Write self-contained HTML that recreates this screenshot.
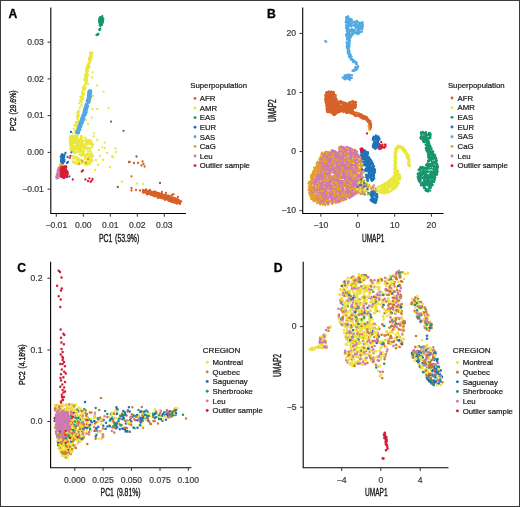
<!DOCTYPE html><html><head><meta charset="utf-8"><style>html,body{margin:0;padding:0;width:520px;height:507px;overflow:hidden;background:#fff}svg path[stroke]:not([fill]){fill:none;stroke-linecap:round}svg path[stroke]:not([fill]):not([stroke-width]){stroke-width:2.3px}svg text{font-family:"Liberation Sans", sans-serif}</style></head><body><svg width="520" height="507" viewBox="0 0 520 507" style="position:absolute;left:0;top:0;filter:blur(0.35px);font-family:'Liberation Sans', sans-serif">
<rect x="0" y="0" width="520" height="507" fill="#fff"/>
<text x="8.60" y="17.80" font-size="12.2" text-anchor="start" fill="#000" font-weight="bold" stroke="#000" stroke-width="0.3">A</text>
<path d="M89.1 66.4h0M87.0 80.4h0M86.9 75.3h0M90.9 54.9h0M91.3 54.1h0M91.9 55.7h0M86.2 70.3h0M91.0 57.9h0M84.7 79.0h0M86.5 77.1h0M84.0 94.4h0M84.8 89.2h0M91.0 58.9h0M87.4 65.3h0M89.4 60.1h0M86.3 79.7h0M87.6 75.9h0M91.7 55.2h0M85.9 81.5h0M88.0 65.7h0M87.5 71.8h0M84.5 86.3h0M88.8 62.8h0M85.5 74.7h0M86.0 83.7h0M83.8 94.5h0M86.5 70.1h0M90.0 58.9h0M90.6 54.0h0M85.0 85.1h0M84.5 89.9h0M85.3 82.1h0M86.4 77.2h0M83.2 88.0h0M86.4 72.5h0M90.3 54.9h0M84.5 79.9h0M85.2 87.7h0M87.0 68.7h0M91.4 53.5h0M90.8 59.9h0M90.2 54.8h0M90.8 58.1h0M86.4 68.8h0M90.8 55.9h0M85.4 75.7h0M83.7 87.2h0M88.8 64.3h0M86.7 67.4h0M84.0 93.5h0M90.4 60.1h0M89.1 62.4h0M86.8 77.6h0M91.7 52.7h0M87.5 68.1h0M82.6 92.9h0M86.3 74.3h0M86.9 81.5h0M83.0 90.6h0M83.2 89.5h0M87.7 69.2h0M90.1 56.8h0M92.0 55.4h0M90.3 61.5h0M89.2 67.2h0M92.4 52.7h0M90.8 56.9h0M90.2 53.3h0M87.0 78.8h0M89.3 63.3h0M88.7 68.1h0M83.0 88.3h0M86.9 72.2h0M91.7 56.4h0M88.6 67.1h0M85.5 88.1h0M90.0 53.2h0M87.5 75.1h0M87.8 75.7h0M85.2 74.7h0M83.6 89.1h0M89.2 63.6h0M89.0 59.4h0M85.7 75.0h0M88.8 66.6h0M83.5 86.7h0M83.5 88.6h0M84.1 87.2h0M89.1 62.1h0M89.1 67.8h0M91.8 53.8h0M88.3 63.3h0M83.2 93.2h0M82.0 92.0h0M83.4 93.2h0M90.0 62.0h0M90.3 61.0h0M84.9 78.9h0M84.5 88.3h0M85.0 80.2h0M90.2 56.0h0M82.8 91.0h0M85.3 84.5h0M88.9 59.9h0M87.2 66.4h0M83.1 93.9h0M86.1 69.2h0M86.3 83.5h0M91.1 58.1h0M82.8 90.8h0M89.1 58.5h0M82.3 94.1h0M87.7 67.3h0M91.5 58.4h0M82.5 93.7h0M85.3 74.7h0M86.1 70.7h0M85.4 88.0h0M89.4 63.3h0M88.8 62.6h0" stroke="#E9E83A"/>
<path d="M89.0 63.5h0M89.0 57.8h0M87.9 67.5h0M85.1 77.2h0M86.0 70.1h0M86.6 73.8h0M87.9 74.9h0M87.9 71.2h0M90.6 52.5h0M89.8 59.8h0M76.6 123.3h0M79.9 107.8h0M77.2 116.5h0M81.5 99.1h0M81.3 104.9h0M76.3 125.2h0M77.2 116.8h0M75.2 130.7h0M77.7 119.0h0M77.8 114.9h0M78.8 112.7h0M77.2 113.4h0M75.7 122.1h0M75.4 132.0h0M76.6 116.6h0M77.0 128.2h0M81.7 99.8h0M82.8 98.0h0M81.3 97.7h0M74.9 125.4h0M80.5 100.9h0M78.5 121.1h0M73.7 129.1h0M79.2 103.3h0M79.4 110.6h0M73.0 133.3h0M81.5 101.4h0M79.0 115.3h0M81.6 102.8h0M78.4 123.6h0M78.4 116.7h0M82.9 95.8h0M77.5 119.4h0M80.3 97.2h0M74.6 125.5h0M82.5 99.3h0M81.2 96.4h0M81.7 105.8h0M77.8 111.3h0M76.8 127.3h0M79.9 100.6h0M77.3 117.2h0M83.3 98.8h0M77.3 122.0h0M80.4 97.5h0M92.6 72.3h0M92.0 77.5h0M97.0 85.4h0M103.6 91.6h0M108.5 108.0h0M92.5 109.0h0M97.3 109.0h0M91.7 117.5h0M94.0 133.3h0M93.6 136.5h0M97.2 140.0h0M104.7 142.7h0M102.3 147.3h0M115.5 148.5h0M116.0 152.0h0M113.0 157.0h0M105.0 148.0h0M110.0 167.0h0M122.0 181.5h0M112.0 156.5h0M137.0 183.5h0M143.0 184.0h0M99.0 150.0h0M100.0 156.0h0M96.0 160.0h0M98.0 165.0h0M95.0 170.0h0M103.0 160.0h0M107.0 153.0h0M88.0 124.0h0M86.0 120.0h0M90.0 102.0h0M93.0 96.0h0M88.0 84.0h0M90.0 60.0h0M89.5 66.0h0M84.9 159.1h0M80.3 145.3h0M82.8 162.8h0M75.7 139.1h0M82.2 142.3h0M71.7 140.0h0M70.3 141.2h0M76.8 144.3h0M88.0 143.8h0M81.5 140.5h0M77.7 135.7h0M75.3 135.7h0M87.3 151.6h0M73.7 149.3h0M89.5 148.1h0M81.4 160.1h0M78.8 150.3h0M86.2 164.5h0M77.6 160.0h0M86.7 154.2h0M79.1 145.6h0M70.4 139.1h0M75.4 140.1h0M90.8 155.2h0M76.0 142.4h0M76.3 148.9h0M72.9 148.5h0M76.7 145.8h0M80.9 150.2h0" stroke="#E9E83A"/>
<path d="M74.0 150.2h0M71.2 147.1h0M76.6 142.1h0M83.6 151.0h0M87.8 154.8h0M86.9 161.4h0M78.7 144.9h0M87.1 154.4h0M91.3 153.9h0M87.3 159.4h0M72.5 150.8h0M81.6 160.1h0M89.1 159.8h0M83.6 161.8h0M86.1 155.9h0M74.7 136.1h0M72.3 145.9h0M83.0 153.9h0M84.7 155.5h0M88.9 157.5h0M81.6 151.1h0M87.4 142.7h0M70.9 143.1h0M87.2 141.3h0M87.5 164.3h0M81.3 146.6h0M81.0 155.6h0M88.2 153.6h0M72.7 142.8h0M87.6 144.3h0M70.5 143.2h0M85.8 155.8h0M85.9 143.9h0M81.9 149.0h0M80.7 138.7h0M91.3 141.1h0M89.5 164.0h0M80.2 143.2h0M74.3 152.5h0M72.5 150.8h0M89.5 150.4h0M91.2 156.2h0M74.8 162.0h0M81.2 135.9h0M80.3 144.2h0M72.5 145.5h0M76.9 160.2h0M92.2 156.4h0M91.5 143.8h0M78.3 146.9h0M78.0 148.0h0M75.9 136.6h0M76.1 163.1h0M75.2 143.1h0M81.8 140.9h0M78.3 163.7h0M91.1 159.4h0M84.8 162.4h0M87.3 148.6h0M87.8 154.4h0M76.2 136.7h0M80.8 145.4h0M76.4 157.2h0M85.4 144.2h0M82.9 147.0h0M73.2 140.0h0M74.2 162.2h0M81.4 141.8h0M80.2 139.4h0M73.8 137.9h0M77.5 137.9h0M75.0 142.9h0M83.2 161.6h0M87.7 147.5h0M79.3 150.8h0M78.4 145.3h0M70.6 143.5h0M81.6 154.0h0M90.6 141.6h0M75.8 142.6h0M79.0 148.5h0M92.8 160.5h0M78.8 162.8h0M89.6 160.7h0M71.7 139.8h0M82.1 155.5h0M92.5 156.7h0M85.2 158.0h0M80.4 151.6h0M74.8 162.6h0M85.1 144.3h0M72.2 142.7h0M84.9 156.0h0M71.8 137.3h0M82.1 152.6h0M78.7 141.9h0M76.5 148.9h0M74.9 142.6h0M93.0 156.2h0M76.7 135.8h0M81.5 155.3h0M79.5 142.9h0M85.7 162.8h0M74.7 136.2h0M77.5 147.7h0M86.1 141.1h0M88.9 157.2h0M81.6 141.3h0M93.2 144.5h0M89.5 142.1h0M74.5 157.9h0M76.4 163.6h0M81.4 140.8h0M74.6 147.6h0M85.6 163.5h0M72.7 146.9h0M72.5 136.7h0M70.5 146.9h0M91.5 161.5h0M87.3 164.9h0" stroke="#E9E83A"/>
<path d="M92.3 145.0h0M73.6 163.1h0M85.6 146.5h0M78.3 145.1h0M76.0 145.7h0M77.9 159.7h0M89.6 148.1h0M70.2 149.3h0M78.3 162.6h0M73.8 146.1h0M79.3 159.4h0M69.9 137.1h0M92.0 142.9h0M87.7 162.0h0M77.5 143.3h0M75.6 156.6h0M76.9 143.4h0M91.9 154.1h0M74.8 149.4h0M78.7 142.7h0M79.7 149.9h0M89.1 157.2h0M89.6 158.2h0M84.2 145.0h0M77.0 146.0h0M73.9 157.6h0M75.2 137.1h0M75.6 137.7h0M71.4 150.1h0M86.7 148.5h0M74.9 147.6h0M84.5 155.3h0M87.7 160.4h0M85.6 138.8h0M90.0 144.0h0M83.2 146.3h0M87.5 141.1h0M75.2 142.5h0M72.8 161.5h0M83.5 144.9h0M81.7 142.1h0M89.2 154.7h0M80.9 159.6h0M90.0 162.4h0M70.0 144.0h0M72.0 140.8h0M92.3 146.3h0M90.7 148.6h0M75.5 158.4h0M83.9 153.7h0M74.4 146.2h0M72.5 141.3h0M75.4 153.1h0M85.3 141.3h0M86.0 140.7h0M76.8 141.3h0M88.9 151.5h0M70.6 138.2h0M78.9 151.6h0M85.0 137.9h0M73.1 155.9h0M79.2 143.6h0M76.7 163.6h0M76.8 152.1h0M77.9 147.6h0M78.1 141.1h0M87.2 141.3h0M79.6 159.6h0M79.2 161.5h0M80.5 140.0h0M85.0 162.3h0M78.3 150.2h0M72.6 143.6h0M82.0 162.8h0M71.7 149.8h0M89.1 164.0h0M73.9 139.0h0M81.1 136.8h0M92.2 146.8h0M91.6 153.7h0M89.6 140.0h0M88.6 141.8h0M79.1 160.4h0M89.7 140.7h0M74.5 147.1h0M81.9 146.6h0M72.1 142.6h0M87.1 161.9h0M84.0 151.6h0M84.7 144.3h0M79.5 152.6h0M79.6 154.8h0M80.2 148.3h0M81.2 142.2h0M88.1 158.4h0M80.5 140.6h0M80.8 138.4h0M72.2 148.0h0M71.3 148.4h0M81.8 136.4h0M84.9 137.7h0M87.3 158.4h0M81.8 136.8h0M81.6 146.5h0M87.3 159.5h0M81.3 163.7h0M88.7 162.9h0M70.6 145.7h0M87.9 139.9h0M91.4 143.4h0M81.6 162.6h0M74.2 143.0h0M81.7 144.7h0M69.9 140.6h0M86.0 161.9h0M73.2 158.6h0M71.9 151.0h0M84.9 145.9h0M90.8 151.7h0M83.5 161.5h0" stroke="#E9E83A"/>
<path d="M84.7 146.9h0M88.9 143.1h0M78.0 158.0h0M80.1 140.5h0M89.5 142.8h0M85.0 164.5h0M83.6 155.0h0M76.8 135.3h0M69.8 139.7h0M84.4 148.1h0M81.8 161.9h0M72.3 142.0h0M71.7 145.8h0M74.6 152.6h0M83.7 141.3h0M84.6 149.4h0M75.1 139.6h0M90.8 158.5h0M79.0 143.1h0M83.1 145.6h0M85.1 148.4h0M92.4 157.1h0M75.2 162.1h0M79.1 142.3h0M74.0 153.3h0M81.7 154.3h0M89.3 140.4h0M76.7 144.1h0M88.6 156.5h0M87.6 149.1h0M87.5 148.7h0M73.2 137.2h0M73.3 136.1h0M74.7 147.9h0M79.7 149.4h0M80.0 139.9h0M77.8 142.7h0M81.0 144.1h0M73.7 146.1h0M73.6 139.4h0M80.4 140.9h0M82.3 140.9h0M73.3 150.5h0M78.8 146.9h0M76.6 149.4h0M76.1 147.5h0M78.0 140.6h0M73.0 145.8h0M72.0 135.9h0M74.8 137.8h0M70.4 136.2h0M79.7 146.0h0M79.8 147.7h0M70.9 145.2h0M75.1 149.0h0M70.9 149.8h0M71.5 138.9h0M71.6 136.1h0M78.9 149.1h0M78.8 140.2h0M71.4 137.1h0M80.6 138.9h0M74.5 142.5h0M70.3 139.7h0M74.0 147.3h0M75.2 140.8h0M81.9 145.7h0M70.4 142.3h0M76.1 148.3h0M74.9 147.1h0M77.5 139.1h0M81.5 138.3h0M70.0 138.8h0M70.1 143.6h0M76.9 148.6h0M72.6 143.7h0M74.9 149.2h0M73.6 151.1h0M74.0 139.0h0M79.8 143.7h0M71.5 146.0h0M71.1 148.5h0M79.8 148.5h0M78.8 141.4h0M75.6 142.0h0M72.9 139.8h0M82.6 143.8h0M75.3 150.1h0M73.3 143.1h0M77.4 147.9h0M80.5 146.2h0M74.9 140.9h0M72.2 149.4h0M79.3 147.7h0M72.4 142.7h0M80.8 145.1h0M71.8 143.1h0M82.4 139.4h0M72.7 140.5h0M79.8 149.4h0M72.2 138.1h0M73.5 140.9h0M77.3 138.2h0M74.6 138.6h0M71.4 141.8h0M80.3 142.7h0M72.7 146.0h0M71.5 138.9h0M75.4 136.1h0M75.6 148.6h0M79.7 143.8h0" stroke="#E9E83A"/>
<path d="M82.0 161.0h0M86.0 163.0h0M79.0 164.0h0M88.0 159.0h0" stroke="#E6A028"/>
<path d="M83.0 118.0h0M88.9 96.8h0M85.4 108.0h0M79.0 129.7h0M83.1 115.2h0" stroke="#52A9E1"/>
<path d="M86.7 109.1h0M80.5 121.4h0M80.3 123.8h0M79.1 127.1h0M82.9 118.4h0M86.8 104.1h0M89.7 94.9h0M80.1 124.1h0M83.7 118.1h0M86.0 109.1h0M83.4 117.6h0M81.1 119.3h0M88.4 98.5h0M81.1 124.2h0M83.7 111.5h0M89.8 92.2h0M88.2 97.5h0M78.2 131.0h0M89.3 95.0h0M83.7 113.9h0M84.4 112.7h0M79.9 126.3h0M84.7 108.1h0M88.0 99.6h0M85.5 107.5h0M87.9 95.7h0M88.0 106.4h0M88.0 102.6h0M90.3 91.1h0M85.3 108.7h0M87.4 106.1h0M87.6 100.2h0M78.2 130.9h0M87.5 99.9h0M87.1 107.9h0M88.5 96.1h0M79.9 125.3h0M85.1 110.9h0M87.0 100.1h0M86.3 105.9h0M79.3 125.5h0M85.9 111.1h0M85.3 114.8h0M80.3 126.6h0M80.3 127.4h0M87.1 107.2h0M86.7 109.4h0M89.5 90.5h0M88.3 103.1h0M87.4 103.8h0M85.4 109.1h0M82.9 119.2h0M77.4 130.1h0M88.8 92.9h0M78.0 129.2h0M88.2 96.6h0M84.3 118.5h0M88.8 90.8h0M83.3 119.2h0M90.5 95.2h0M87.4 100.6h0M87.8 106.0h0M78.0 129.2h0M87.8 97.8h0M82.5 116.7h0M81.3 119.1h0M79.6 124.2h0M88.1 99.1h0M83.8 113.4h0M84.6 109.4h0M84.8 114.9h0M89.2 101.1h0M86.3 112.4h0M86.3 111.2h0M85.0 112.0h0M83.3 113.7h0M89.1 90.6h0M85.1 110.9h0M81.5 119.0h0M86.7 107.0h0M79.1 132.3h0M82.5 118.0h0M89.7 91.7h0M81.0 119.6h0M85.6 104.6h0M84.8 112.8h0M80.2 129.7h0M81.3 121.5h0M85.9 105.0h0M86.6 106.6h0M83.8 113.1h0M88.7 99.9h0M85.7 108.9h0M80.6 126.4h0M80.3 126.3h0M85.5 112.7h0M83.5 112.2h0M81.8 118.6h0M87.5 105.2h0M87.1 103.6h0M82.1 117.8h0M89.3 92.2h0M79.0 128.6h0M90.4 92.8h0M91.1 90.9h0M78.2 130.1h0M81.7 118.7h0M78.4 129.6h0M82.8 117.2h0M81.7 120.6h0M83.0 120.3h0M82.5 119.5h0M82.1 123.9h0M90.2 98.9h0M79.6 123.6h0M83.0 119.1h0M79.3 125.7h0M84.7 115.2h0M87.6 103.8h0M87.3 104.5h0" stroke="#52A9E1"/>
<path d="M81.6 117.9h0M89.6 92.9h0M91.0 92.4h0M80.1 125.4h0M78.7 130.1h0M90.4 91.2h0M82.3 115.8h0M77.7 132.7h0M87.1 108.9h0M83.6 118.8h0M90.6 97.5h0M89.6 90.6h0M88.0 95.7h0M88.5 94.2h0M90.7 96.5h0M82.4 121.9h0M82.3 122.6h0M89.0 92.6h0M80.7 121.0h0M82.7 122.5h0M82.4 117.6h0M84.1 110.3h0M86.6 101.3h0M83.1 122.0h0M89.6 91.1h0M81.4 126.2h0M86.6 104.0h0M88.0 97.7h0M86.3 112.1h0M86.3 106.5h0M85.2 109.5h0M88.3 96.8h0M86.2 106.3h0M83.2 117.9h0M85.5 107.1h0M77.4 130.9h0M84.5 115.4h0M88.4 93.0h0M81.0 120.6h0M86.7 105.0h0M76.7 132.2h0M84.0 116.8h0M84.7 108.9h0M85.9 106.8h0M82.3 116.3h0M80.9 125.6h0M90.9 90.7h0M85.6 108.9h0M79.1 125.4h0M88.9 92.2h0M79.2 125.2h0M84.5 115.6h0M78.8 126.9h0M81.0 119.8h0M88.0 106.0h0M83.3 114.3h0M87.9 99.2h0M79.1 130.9h0M82.8 116.7h0M86.2 111.1h0M87.2 101.5h0M80.7 124.7h0M88.7 94.3h0M81.6 124.1h0M82.6 115.3h0M79.1 128.6h0M84.9 111.2h0M89.6 99.1h0M88.3 98.3h0M86.4 106.3h0M86.1 108.1h0M90.5 97.3h0M77.7 133.5h0M89.1 95.2h0M81.6 124.9h0M83.9 116.6h0M86.0 113.6h0M88.5 91.8h0M79.5 127.9h0M84.6 115.4h0M80.9 124.3h0M77.4 131.0h0M78.8 125.4h0M89.3 102.1h0M89.5 99.7h0M90.9 94.4h0M83.0 114.4h0M84.1 110.2h0M80.0 130.2h0M83.7 116.6h0M88.0 95.6h0M87.7 101.8h0M81.5 117.8h0M82.7 119.6h0M86.5 110.4h0M76.5 131.5h0M89.7 100.7h0M88.4 101.9h0M77.7 129.0h0M81.1 127.1h0M80.0 124.3h0M81.4 118.1h0M90.9 93.1h0M79.9 122.7h0M82.8 120.0h0M82.8 116.0h0M90.0 95.3h0M89.0 102.1h0M86.1 111.8h0M89.2 101.3h0M83.6 120.4h0M82.5 121.9h0M88.7 91.9h0M87.1 99.9h0M78.3 127.5h0M89.4 96.7h0M88.2 94.6h0M79.4 126.7h0M86.0 110.4h0M80.1 126.1h0" stroke="#52A9E1"/>
<path d="M84.0 118.1h0M89.6 100.7h0M81.6 121.3h0M88.1 96.8h0M88.0 102.3h0M89.8 97.5h0M80.3 126.9h0M89.0 98.0h0M86.0 104.1h0M88.0 95.3h0M88.6 92.8h0M83.2 119.8h0M85.8 111.5h0M88.8 102.1h0M85.2 106.1h0M76.1 133.0h0M90.1 94.9h0M80.2 129.6h0M82.1 122.1h0M79.0 133.1h0M80.8 125.5h0M90.7 97.0h0M79.9 126.4h0M89.0 98.8h0M79.5 130.1h0M84.9 115.7h0M88.1 98.3h0M82.6 121.6h0M90.9 94.2h0M83.3 116.9h0M88.5 102.8h0M82.7 116.9h0M80.0 125.5h0M89.8 99.8h0M81.7 122.3h0M82.9 122.2h0M80.7 125.7h0M78.8 126.5h0M86.4 112.4h0M78.8 129.7h0M80.0 128.4h0M87.8 98.5h0M87.5 106.9h0M86.2 106.7h0M90.1 90.7h0M85.5 110.0h0M88.7 95.8h0M79.1 125.4h0M86.5 104.4h0M85.6 107.0h0M88.7 93.0h0M78.0 131.6h0M84.6 112.9h0M85.7 114.4h0M78.6 132.4h0M90.0 98.9h0M87.1 101.3h0M91.2 92.0h0M82.8 121.1h0M89.8 91.2h0M83.7 115.6h0M83.0 121.3h0M78.8 127.8h0M91.0 92.7h0M85.0 112.1h0M88.7 103.1h0M87.1 108.5h0M82.5 115.9h0M88.9 97.0h0M82.2 123.1h0M78.8 125.7h0M86.5 107.6h0M79.8 126.7h0M84.9 107.4h0M81.2 124.2h0M88.6 101.2h0M84.3 109.1h0M79.2 124.8h0M79.2 125.4h0M89.8 92.9h0M76.7 131.3h0M88.2 101.5h0M83.3 118.1h0M85.7 114.1h0M85.7 109.4h0" stroke="#52A9E1"/>
<path d="M102.7 22.4h0M101.8 24.9h0M102.0 18.5h0M102.1 18.6h0M100.6 25.2h0M101.9 18.3h0M101.2 20.1h0M103.3 18.9h0M99.9 22.2h0M99.2 21.5h0M103.0 21.2h0M100.0 20.3h0M101.7 17.2h0M100.2 19.7h0M100.4 18.0h0M99.1 21.0h0M102.3 22.1h0M101.1 22.4h0M99.4 22.8h0M100.8 21.3h0M101.5 20.5h0M100.5 18.0h0M99.8 20.8h0M100.4 21.6h0M103.0 18.3h0M101.3 20.7h0M99.7 23.5h0M102.7 20.4h0M99.3 19.4h0M100.4 23.2h0M99.7 17.7h0M99.7 18.9h0M100.1 22.5h0M101.0 24.5h0M102.4 21.2h0" stroke="#16956D"/>
<path d="M101.7 23.5h0M102.2 20.7h0M101.9 23.1h0M102.0 21.8h0M100.3 25.6h0M101.4 20.0h0M101.7 24.8h0M101.6 19.6h0M100.9 20.3h0M102.3 18.8h0M100.4 21.3h0M100.8 18.9h0M101.7 24.6h0M101.1 20.2h0M99.9 18.6h0M99.3 21.4h0M102.0 16.6h0M103.1 19.2h0M102.0 24.5h0M100.1 25.0h0M101.3 20.8h0M100.4 26.0h0M101.1 21.0h0M102.0 19.8h0M100.2 21.7h0M99.7 25.3h0M101.7 21.2h0M99.4 19.3h0M100.5 21.4h0M100.8 24.8h0M103.0 20.9h0M100.6 22.0h0M100.7 24.1h0M99.8 18.7h0M101.6 16.8h0M102.4 23.0h0M102.8 20.2h0M99.8 18.4h0M101.0 20.9h0M100.1 17.3h0M101.4 21.9h0M102.3 16.2h0M100.2 23.7h0M99.9 22.6h0M102.4 21.9h0M100.1 28.8h0M99.7 29.4h0M99.1 29.6h0M99.8 30.2h0M99.9 29.1h0M100.4 28.6h0M96.7 35.0h0M98.1 34.7h0M98.3 34.5h0M96.5 35.0h0M98.2 33.8h0M98.1 33.9h0" stroke="#16956D"/>
<path d="M61.3 156.5h0M63.0 157.3h0M62.5 157.7h0M63.0 163.4h0M62.4 160.0h0M61.9 162.8h0M64.0 156.8h0M63.1 163.4h0M62.7 163.3h0M61.6 157.7h0M63.6 156.0h0M61.9 162.6h0M62.6 161.7h0M61.6 155.5h0M62.1 155.7h0M63.0 154.9h0M62.8 157.7h0M62.3 154.5h0M61.1 162.1h0M62.1 156.2h0M61.4 156.6h0M63.4 157.2h0M61.3 160.9h0M61.0 156.5h0M62.5 162.2h0M64.0 155.4h0M62.1 161.0h0M62.2 163.4h0M62.7 156.1h0M62.5 155.1h0M63.6 156.4h0M64.4 159.7h0M62.1 156.3h0M63.2 155.9h0M62.8 159.2h0M61.7 161.5h0M62.2 160.4h0M63.0 156.9h0M62.2 154.7h0M61.3 162.3h0M61.9 160.4h0M61.1 159.4h0M62.1 158.8h0M61.8 154.5h0M61.9 156.1h0M61.1 161.0h0M61.8 157.8h0M64.4 161.5h0M61.2 156.6h0M63.4 157.3h0M62.3 160.4h0M63.5 156.3h0M64.2 157.3h0M63.2 155.6h0M63.7 160.9h0M61.3 155.8h0M61.9 157.6h0M60.8 156.9h0M63.3 155.6h0M64.1 159.5h0M71.0 132.0h0M67.5 157.0h0M68.0 162.0h0" stroke="#1E72B8"/>
<path d="M69.4 176.5h0M67.0 163.0h0M66.0 170.0h0M71.4 152.3h0M64.5 155.0h0M65.5 153.0h0" stroke="#1E72B8"/>
<path d="M61.7 165.2h0M60.8 166.6h0M62.1 166.9h0M62.1 166.3h0M59.8 166.9h0M61.8 164.7h0M61.6 165.7h0M61.8 167.1h0M60.3 164.7h0M62.4 165.8h0" stroke="#E6A028"/>
<path d="M56.9 177.6h0M56.9 175.4h0M58.1 174.4h0M58.9 167.9h0M58.3 172.2h0M58.5 177.9h0M59.0 176.1h0M57.0 175.1h0M58.7 170.3h0M57.0 178.1h0M58.8 173.6h0M59.8 168.2h0M59.2 172.2h0M59.7 171.1h0M57.4 175.2h0M59.6 170.3h0M58.4 173.2h0M57.8 177.9h0M57.7 170.5h0M59.0 169.0h0M57.8 170.9h0M57.4 173.4h0M58.7 169.2h0M58.2 174.1h0M56.8 175.8h0M59.8 168.9h0M59.3 171.6h0M60.0 168.3h0M58.5 169.5h0M59.4 172.6h0M58.7 171.0h0M59.4 171.7h0M60.7 168.6h0M56.6 178.3h0M58.8 168.3h0M57.2 178.3h0M59.3 168.7h0M59.2 172.4h0M59.5 173.7h0M57.1 177.5h0M56.8 174.2h0M58.6 174.8h0M59.9 170.4h0M58.8 167.6h0M58.2 176.8h0M58.7 169.4h0M56.4 176.6h0M58.3 169.1h0M56.9 176.5h0M59.5 171.3h0M58.1 176.6h0M58.4 171.5h0M57.6 171.3h0M60.1 170.4h0M57.8 173.6h0M57.1 176.4h0M56.2 177.2h0M58.3 172.9h0M59.7 169.4h0M59.2 174.0h0" stroke="#CF79B1"/>
<path d="M65.5 168.0h0M63.5 178.1h0M63.5 168.4h0M66.7 176.7h0M66.3 171.3h0M62.3 174.3h0M64.1 171.3h0M62.7 171.5h0M65.3 176.3h0M62.4 171.5h0M64.5 170.4h0M61.6 167.1h0M62.6 171.8h0M67.7 173.7h0M65.4 173.6h0M62.4 173.1h0M67.6 172.0h0M65.2 169.7h0M62.7 177.1h0M65.4 171.6h0M60.7 174.3h0M63.0 173.3h0M63.3 172.6h0M64.5 171.0h0M60.9 168.3h0M67.1 172.9h0M62.0 167.2h0M64.2 169.1h0M63.9 172.9h0M61.8 173.2h0M60.9 172.4h0M64.7 167.0h0M63.3 166.9h0M63.5 176.8h0M64.4 174.9h0M66.1 167.4h0M60.8 176.4h0M63.1 168.1h0M67.7 173.0h0M66.2 167.7h0M66.2 166.7h0M61.9 170.7h0M61.7 169.7h0M65.7 171.3h0" stroke="#D81B35"/>
<path d="M67.1 173.8h0M67.0 173.0h0M67.3 176.9h0M61.3 175.3h0M62.7 175.5h0M65.4 176.3h0M61.0 170.7h0M65.8 166.5h0M64.8 167.2h0M64.4 176.0h0M65.4 169.2h0M61.5 171.6h0M66.7 173.3h0M60.9 176.0h0M61.5 172.9h0M62.3 174.6h0M63.0 167.8h0M67.0 172.7h0M65.5 176.1h0M62.7 167.9h0M64.0 176.9h0M61.5 176.2h0M65.4 170.9h0M63.8 168.0h0M66.8 170.9h0M67.0 173.6h0M60.6 170.1h0M61.7 177.2h0M64.7 166.5h0M61.4 170.5h0M63.7 173.2h0M63.1 170.4h0M65.4 169.4h0M62.2 172.3h0M62.1 173.1h0M64.2 178.0h0M64.5 175.6h0M67.0 175.7h0M65.1 173.9h0M62.9 169.5h0M66.4 176.9h0M67.5 174.5h0M62.4 175.5h0M65.9 172.4h0M65.1 170.4h0M64.4 171.1h0M70.5 155.8h0M69.8 157.8h0M72.8 179.5h0M81.7 171.5h0M83.0 170.5h0M85.4 179.5h0M89.4 178.3h0M91.7 180.7h0M90.5 181.9h0M88.0 181.0h0M92.5 179.0h0" stroke="#D81B35"/>
<path d="M111.1 121.7h0M123.5 130.8h0M129.0 162.0h0M117.8 187.0h0M136.5 156.5h0M160.0 183.0h0" stroke="#9A5A30"/>
<path d="M129.7 162.0h0M134.0 163.0h0M138.0 163.0h0M142.6 161.5h0M141.5 165.5h0M144.7 166.5h0M143.5 164.0h0M131.5 176.3h0M131.5 188.0h0M131.5 190.5h0M136.0 190.0h0M140.0 190.5h0M143.0 190.0h0M145.4 191.2h0M154.8 196.2h0M161.5 195.3h0M152.5 192.7h0M156.7 193.1h0M143.0 192.0h0M160.3 195.4h0M164.9 196.0h0M149.8 191.4h0M154.7 193.4h0M170.4 199.1h0M178.5 201.4h0M177.5 202.0h0M146.3 191.0h0M164.4 199.3h0M156.3 195.7h0M158.9 196.9h0M145.6 191.7h0M177.3 200.4h0M153.2 192.0h0M149.5 192.0h0M170.2 197.3h0M158.5 193.8h0M165.4 199.0h0M168.1 196.4h0M170.0 201.2h0M166.5 195.4h0M173.0 201.8h0M156.3 193.1h0M150.1 193.1h0M175.8 201.6h0M178.2 200.6h0M155.2 195.3h0M167.8 197.4h0M169.0 197.5h0M145.2 191.4h0M144.6 191.8h0M155.7 194.4h0M166.1 196.2h0M161.3 193.6h0M177.7 202.0h0M180.7 201.3h0M166.0 198.5h0M155.9 192.8h0" stroke="#D6622A"/>
<path d="M149.2 191.6h0M172.7 197.5h0M173.9 199.7h0M163.4 197.0h0M163.9 197.5h0M166.1 196.5h0M171.5 198.0h0M169.5 199.9h0M172.7 198.7h0M171.4 201.8h0M160.6 194.6h0M162.3 198.4h0M148.4 190.9h0M160.9 196.5h0M172.5 198.9h0M180.5 201.9h0M172.3 197.4h0M144.3 190.4h0M145.3 191.6h0M164.6 195.3h0M178.6 201.5h0M148.9 191.6h0M170.2 201.0h0M149.6 191.3h0M172.9 198.4h0M179.9 202.7h0M167.4 197.0h0M173.3 199.7h0M154.9 195.9h0M146.9 192.8h0M145.4 192.1h0M157.9 196.6h0M145.2 191.8h0M158.2 196.9h0M178.3 202.6h0M151.7 192.5h0M153.0 193.5h0M152.1 192.4h0M171.5 200.0h0M153.9 195.9h0M151.2 193.5h0M148.6 193.8h0M176.3 199.9h0M170.9 200.8h0M153.9 193.3h0M161.0 197.7h0M149.0 193.3h0M165.8 197.1h0M164.5 198.8h0M150.6 194.5h0M156.4 195.8h0M176.2 199.4h0M174.6 203.0h0M154.8 192.3h0M146.9 193.5h0M143.1 192.1h0M148.5 193.3h0M147.0 191.1h0M169.6 196.4h0M155.5 196.1h0M169.5 200.6h0M180.5 201.1h0M151.6 194.5h0M169.9 196.2h0M162.6 195.0h0M159.8 193.7h0M143.4 192.4h0M154.7 195.7h0M147.6 192.2h0M148.2 192.2h0M149.6 193.5h0M148.4 193.3h0M162.6 194.4h0M156.5 194.6h0M177.8 201.1h0M150.7 194.8h0M175.9 202.1h0M153.7 192.7h0M153.4 192.2h0M144.6 191.5h0M158.5 195.4h0M157.3 192.8h0M168.8 199.1h0M163.6 196.9h0M168.4 200.7h0M175.6 201.9h0M158.4 194.3h0M158.5 197.3h0M157.9 194.5h0M159.0 193.7h0M181.2 201.4h0M165.5 199.4h0M152.6 194.1h0M157.6 193.8h0M150.9 191.9h0M174.4 201.8h0M178.0 199.7h0M169.6 197.6h0M167.5 198.1h0M154.6 196.0h0M142.9 191.6h0M175.2 200.7h0M164.8 199.5h0M151.8 193.9h0M171.4 198.6h0M170.2 198.2h0M162.9 197.0h0M169.0 197.4h0M166.8 197.9h0M151.4 193.7h0M152.7 195.2h0M160.7 196.8h0M162.9 196.3h0M151.7 192.2h0M177.8 201.9h0M162.9 196.5h0M174.2 198.8h0M149.3 193.8h0M160.4 196.3h0M173.6 202.1h0" stroke="#D6622A"/>
<path d="M176.7 198.8h0M157.2 196.2h0M174.6 198.3h0M149.1 191.9h0M147.0 191.7h0M173.3 200.0h0M160.8 193.8h0M157.6 197.1h0M169.4 198.2h0M160.8 197.2h0M172.3 197.7h0M169.0 197.7h0M163.2 195.2h0M157.3 194.1h0M158.0 192.9h0M150.6 193.3h0M145.4 190.8h0M170.6 197.7h0M155.6 193.4h0M175.2 198.4h0M166.6 199.4h0M150.7 192.9h0M172.8 200.3h0M157.6 193.0h0M160.0 194.9h0M170.4 197.8h0M158.4 195.8h0M173.9 199.3h0M157.6 195.2h0M178.3 200.6h0M179.1 203.3h0M157.0 195.5h0M156.0 192.7h0M171.8 198.7h0M163.0 196.4h0M176.5 202.4h0M143.9 191.5h0M160.7 195.5h0M174.9 200.0h0M160.5 197.5h0M159.8 195.4h0M162.0 197.7h0M168.0 199.3h0M158.8 193.2h0M168.7 198.5h0M171.7 200.7h0M147.7 191.4h0M145.7 192.7h0M147.2 190.9h0M171.4 199.6h0M145.0 192.1h0M170.0 198.6h0M144.9 192.1h0M158.8 195.6h0M180.0 204.0h0M176.6 199.4h0M155.7 194.5h0M142.9 192.3h0M153.7 193.0h0M155.1 193.3h0M175.3 200.9h0M162.6 195.9h0M145.1 191.0h0M175.1 202.1h0M175.8 199.6h0M151.1 191.7h0M163.6 196.0h0M160.7 195.7h0M165.4 196.5h0M173.8 198.5h0M177.5 201.9h0M145.1 191.1h0M163.4 196.1h0M164.7 196.1h0M153.1 194.9h0M153.9 194.8h0M173.2 200.3h0M159.7 197.5h0M159.5 197.1h0M145.2 191.4h0M167.9 195.6h0M176.4 198.9h0M166.1 195.8h0M177.6 202.0h0M173.3 199.9h0M168.3 199.0h0M154.5 193.0h0M175.3 198.7h0M178.1 200.5h0M147.2 190.9h0M171.9 201.8h0M158.6 195.9h0M152.4 195.1h0M169.6 196.7h0M145.0 192.1h0M144.3 192.3h0M154.4 193.1h0M165.4 196.3h0M164.8 195.3h0M177.7 200.9h0M175.4 198.8h0M172.4 202.1h0M158.4 193.1h0M157.3 195.4h0M151.4 193.5h0M146.6 191.9h0M170.7 198.6h0M169.4 196.5h0M175.0 198.5h0M176.9 203.7h0M178.3 202.1h0M154.2 193.5h0M171.4 199.2h0M178.7 200.3h0M161.0 197.6h0M165.7 197.5h0M146.6 190.9h0M153.0 195.2h0M175.4 199.2h0M178.6 200.0h0" stroke="#D6622A"/>
<path d="M165.1 199.5h0M155.7 196.3h0M168.6 195.8h0M155.7 194.2h0M152.2 194.4h0M149.5 193.8h0M154.7 192.5h0M164.8 195.0h0M163.6 198.0h0M165.7 197.1h0M144.3 191.4h0M146.6 192.4h0M148.0 192.6h0M156.6 194.1h0M168.7 196.5h0M149.1 194.2h0M146.0 189.5h0M150.0 190.0h0M155.0 191.5h0M162.0 192.0h0M166.0 193.0h0M172.0 195.0h0M173.5 194.2h0M178.0 197.0h0M147.0 194.5h0M158.0 198.0h0" stroke="#D6622A"/>
<path d="M50.8,7.5 V213.5 H186" fill="none" stroke="#000" stroke-width="1.1"/>
<line x1="47.599999999999994" y1="42.15" x2="50.8" y2="42.15" stroke="#333" stroke-width="1"/>
<text x="43.90" y="44.75" font-size="8.6" text-anchor="end" fill="#3c3c3c" font-weight="normal"  stroke="#3c3c3c" stroke-width="0.22">0.03</text>
<line x1="47.599999999999994" y1="78.9" x2="50.8" y2="78.9" stroke="#333" stroke-width="1"/>
<text x="43.90" y="81.50" font-size="8.6" text-anchor="end" fill="#3c3c3c" font-weight="normal"  stroke="#3c3c3c" stroke-width="0.22">0.02</text>
<line x1="47.599999999999994" y1="115.65" x2="50.8" y2="115.65" stroke="#333" stroke-width="1"/>
<text x="43.90" y="118.25" font-size="8.6" text-anchor="end" fill="#3c3c3c" font-weight="normal"  stroke="#3c3c3c" stroke-width="0.22">0.01</text>
<line x1="47.599999999999994" y1="152.4" x2="50.8" y2="152.4" stroke="#333" stroke-width="1"/>
<text x="43.90" y="155.00" font-size="8.6" text-anchor="end" fill="#3c3c3c" font-weight="normal"  stroke="#3c3c3c" stroke-width="0.22">0.00</text>
<line x1="47.599999999999994" y1="189.15" x2="50.8" y2="189.15" stroke="#333" stroke-width="1"/>
<text x="43.90" y="191.75" font-size="8.6" text-anchor="end" fill="#3c3c3c" font-weight="normal"  stroke="#3c3c3c" stroke-width="0.22">−0.01</text>
<line x1="56.3" y1="213.5" x2="56.3" y2="216.7" stroke="#333" stroke-width="1"/>
<text x="56.30" y="228.10" font-size="8.6" text-anchor="middle" fill="#3c3c3c" font-weight="normal"  stroke="#3c3c3c" stroke-width="0.22">−0.01</text>
<line x1="83.3" y1="213.5" x2="83.3" y2="216.7" stroke="#333" stroke-width="1"/>
<text x="83.30" y="228.10" font-size="8.6" text-anchor="middle" fill="#3c3c3c" font-weight="normal"  stroke="#3c3c3c" stroke-width="0.22">0.00</text>
<line x1="110.3" y1="213.5" x2="110.3" y2="216.7" stroke="#333" stroke-width="1"/>
<text x="110.30" y="228.10" font-size="8.6" text-anchor="middle" fill="#3c3c3c" font-weight="normal"  stroke="#3c3c3c" stroke-width="0.22">0.01</text>
<line x1="137.3" y1="213.5" x2="137.3" y2="216.7" stroke="#333" stroke-width="1"/>
<text x="137.30" y="228.10" font-size="8.6" text-anchor="middle" fill="#3c3c3c" font-weight="normal"  stroke="#3c3c3c" stroke-width="0.22">0.02</text>
<line x1="164.3" y1="213.5" x2="164.3" y2="216.7" stroke="#333" stroke-width="1"/>
<text x="164.30" y="228.10" font-size="8.6" text-anchor="middle" fill="#3c3c3c" font-weight="normal"  stroke="#3c3c3c" stroke-width="0.22">0.03</text>
<text x="119.10" y="241.60" font-size="10.5" text-anchor="middle" fill="#1a1a1a" stroke="#1a1a1a" stroke-width="0.38" word-spacing="1.3" textLength="40.4" lengthAdjust="spacingAndGlyphs">PC1 (53.9%)</text>
<text transform="translate(15.70,110.65) rotate(-90)" x="0" y="0" font-size="9.8" text-anchor="middle" fill="#1a1a1a" stroke="#1a1a1a" stroke-width="0.38" word-spacing="1.3" textLength="40.5" lengthAdjust="spacingAndGlyphs">PC2 (29.6%)</text>
<text x="190.20" y="88.00" font-size="7.8" text-anchor="start" fill="#1a1a1a" font-weight="normal"  stroke="#1a1a1a" stroke-width="0.22">Superpopulation</text>
<circle cx="195" cy="98.40" r="1.45" fill="#D6622A"/>
<text x="199.70" y="101.10" font-size="7.8" text-anchor="start" fill="#1a1a1a" font-weight="normal"  stroke="#1a1a1a" stroke-width="0.22">AFR</text>
<circle cx="195" cy="108.00" r="1.45" fill="#E9E83A"/>
<text x="199.70" y="110.70" font-size="7.8" text-anchor="start" fill="#1a1a1a" font-weight="normal"  stroke="#1a1a1a" stroke-width="0.22">AMR</text>
<circle cx="195" cy="117.60" r="1.45" fill="#16956D"/>
<text x="199.70" y="120.30" font-size="7.8" text-anchor="start" fill="#1a1a1a" font-weight="normal"  stroke="#1a1a1a" stroke-width="0.22">EAS</text>
<circle cx="195" cy="127.20" r="1.45" fill="#1E72B8"/>
<text x="199.70" y="129.90" font-size="7.8" text-anchor="start" fill="#1a1a1a" font-weight="normal"  stroke="#1a1a1a" stroke-width="0.22">EUR</text>
<circle cx="195" cy="136.80" r="1.45" fill="#52A9E1"/>
<text x="199.70" y="139.50" font-size="7.8" text-anchor="start" fill="#1a1a1a" font-weight="normal"  stroke="#1a1a1a" stroke-width="0.22">SAS</text>
<circle cx="195" cy="146.40" r="1.45" fill="#E6A028"/>
<text x="199.70" y="149.10" font-size="7.8" text-anchor="start" fill="#1a1a1a" font-weight="normal"  stroke="#1a1a1a" stroke-width="0.22">CaG</text>
<circle cx="195" cy="156.00" r="1.45" fill="#CF79B1"/>
<text x="199.70" y="158.70" font-size="7.8" text-anchor="start" fill="#1a1a1a" font-weight="normal"  stroke="#1a1a1a" stroke-width="0.22">Leu</text>
<circle cx="195" cy="165.60" r="1.45" fill="#D81B35"/>
<text x="199.70" y="168.30" font-size="7.8" text-anchor="start" fill="#1a1a1a" font-weight="normal"  stroke="#1a1a1a" stroke-width="0.22">Outlier sample</text>
<text x="266.90" y="17.90" font-size="12.2" text-anchor="start" fill="#000" font-weight="bold" stroke="#000" stroke-width="0.3">B</text>
<path d="M351.4 36.2h0M361.0 27.5h0M348.1 18.3h0M347.6 27.2h0M348.4 28.9h0M354.5 24.8h0M349.0 25.7h0M349.1 19.1h0M349.7 36.9h0M355.6 32.5h0M349.6 34.0h0M348.2 22.3h0M346.0 25.4h0M354.7 23.0h0M355.7 21.6h0M349.8 30.4h0M356.4 32.6h0M359.9 24.2h0M359.8 27.1h0M362.1 25.9h0M349.8 33.6h0M351.6 19.4h0M349.0 21.3h0M358.8 31.3h0M349.0 31.0h0M347.1 33.2h0M351.7 19.9h0M355.9 26.4h0M360.9 23.2h0M362.5 28.8h0M350.0 36.1h0M349.6 20.8h0M353.6 21.7h0M357.6 33.0h0M352.4 34.8h0M359.5 32.4h0M351.5 30.3h0M359.9 26.0h0M356.2 27.0h0M351.4 21.1h0M356.5 23.0h0M347.1 22.5h0M357.9 26.6h0M347.6 32.4h0M346.2 35.8h0M348.8 22.5h0M362.5 24.7h0M349.5 37.4h0M362.4 28.2h0M348.6 38.7h0M349.9 24.5h0M347.3 29.3h0M360.8 28.3h0M361.3 32.0h0M346.8 31.0h0M351.9 31.9h0M356.7 25.0h0M354.7 32.2h0M361.6 28.0h0M346.5 36.0h0M357.6 29.4h0M353.4 34.0h0M351.3 19.3h0M348.1 30.1h0M352.4 33.9h0M356.9 22.7h0M359.0 23.0h0M355.1 26.1h0M359.7 32.2h0M358.1 32.6h0M350.4 19.9h0M359.5 24.3h0M348.0 28.4h0M350.8 25.2h0M348.8 23.4h0M351.2 26.5h0M347.4 22.2h0M352.5 25.3h0M362.6 22.4h0M349.1 37.8h0M351.1 19.6h0M358.9 27.3h0M355.4 32.1h0M358.8 22.6h0M354.9 22.9h0M356.7 22.2h0M360.1 29.6h0M350.2 21.8h0M346.7 29.2h0M358.8 32.3h0M347.5 23.4h0M356.7 32.6h0M359.2 25.5h0M351.5 25.4h0M359.8 24.4h0M348.8 36.9h0M347.9 24.1h0M346.7 25.9h0M357.3 29.9h0M352.6 29.8h0M350.3 36.3h0M348.2 32.1h0M358.8 28.0h0M347.8 32.9h0M358.0 30.7h0M350.3 21.1h0M349.5 18.3h0M359.7 24.6h0M360.3 23.8h0M348.0 22.6h0M346.5 26.7h0M346.2 35.9h0M347.5 21.4h0M356.6 24.2h0M351.4 29.6h0M349.4 35.0h0M349.2 36.1h0M359.8 28.9h0M346.0 34.7h0M346.0 28.1h0" stroke="#52A9E1"/>
<path d="M356.7 33.4h0M355.9 25.6h0M354.6 30.1h0M349.5 36.8h0M362.5 23.9h0M353.5 32.4h0M358.0 26.9h0M351.5 20.6h0M352.6 22.8h0M348.9 33.7h0M349.0 32.9h0M349.0 22.4h0M355.4 32.8h0M358.3 33.3h0M346.6 20.9h0M358.3 31.1h0M350.2 24.5h0M348.4 31.2h0M346.3 20.2h0M359.7 26.9h0M347.3 18.6h0M348.2 34.7h0M347.8 18.6h0M355.5 28.2h0M349.2 22.0h0M362.9 26.5h0M358.5 25.2h0M347.9 16.3h0M349.3 30.0h0M361.2 28.8h0M346.8 23.8h0M354.1 31.3h0M349.1 21.8h0M361.5 25.2h0M347.3 30.2h0M347.7 20.8h0M353.6 30.1h0M356.8 33.0h0M353.8 25.6h0M357.4 33.1h0M349.7 31.6h0M357.7 27.3h0M348.0 37.8h0M349.7 39.7h0M349.5 25.4h0M356.7 33.8h0M346.2 18.3h0M346.2 17.2h0M349.8 38.3h0M349.4 32.1h0M362.0 31.3h0M361.8 22.3h0M348.2 16.4h0M348.8 35.4h0M348.4 28.3h0M347.4 34.9h0M354.4 30.9h0M346.9 17.3h0M355.2 23.0h0M357.0 21.0h0M352.0 23.3h0M346.8 18.7h0M357.8 30.4h0M352.7 30.7h0M348.7 38.6h0M353.3 33.0h0M350.0 23.2h0M351.7 23.8h0M347.2 26.6h0M358.8 22.6h0M349.9 25.9h0M345.9 21.5h0M351.3 34.5h0M359.6 28.8h0M347.4 35.8h0M351.1 31.0h0M352.0 28.9h0M354.9 31.6h0M347.1 21.1h0M350.6 37.8h0M345.7 22.2h0M348.6 26.5h0M357.7 32.6h0M358.7 34.1h0M348.6 47.4h0M347.8 39.0h0M348.6 45.9h0M353.7 70.1h0M351.7 59.6h0M351.8 59.8h0M349.0 49.5h0M349.9 40.7h0M349.3 51.2h0M348.2 42.3h0M353.5 70.1h0M347.1 48.3h0M349.2 44.8h0M348.1 49.5h0M354.6 62.1h0M356.3 62.5h0M355.1 70.4h0M358.3 66.4h0M357.7 66.5h0M355.9 67.1h0M354.5 61.3h0M349.5 38.5h0M356.3 69.7h0M353.5 61.5h0M354.4 60.8h0M349.3 43.5h0M353.2 70.8h0M353.4 61.3h0M349.2 46.5h0M347.2 38.5h0M346.7 42.8h0M347.8 51.8h0M347.2 43.1h0M348.3 47.5h0M351.7 56.6h0M347.0 47.3h0" stroke="#52A9E1"/>
<path d="M348.2 48.8h0M356.9 64.2h0M348.8 45.3h0M349.0 52.3h0M353.3 60.8h0M357.3 68.8h0M353.1 62.1h0M349.3 46.9h0M350.3 54.0h0M349.0 55.4h0M349.4 41.6h0M350.7 55.3h0M348.1 46.7h0M349.5 42.6h0M348.4 51.5h0M354.7 69.9h0M349.2 40.8h0M355.7 63.9h0M355.2 67.4h0M357.5 68.3h0M354.5 70.1h0M348.9 47.1h0M357.1 68.4h0M349.0 41.2h0M355.2 69.8h0M356.4 62.6h0M349.9 54.7h0M347.5 45.7h0M349.3 51.2h0M353.1 70.7h0M349.4 44.8h0M353.5 61.2h0M348.5 38.9h0M355.6 63.7h0M347.9 46.8h0M352.0 60.0h0M347.1 43.4h0M354.3 69.6h0M356.9 67.9h0M356.3 69.6h0M347.6 46.6h0M356.5 69.7h0M349.3 46.2h0M350.2 54.0h0M347.2 45.2h0M350.9 59.7h0M348.4 53.2h0M346.9 38.3h0M348.0 46.8h0M349.5 57.4h0M349.0 56.8h0M353.3 59.8h0M357.8 66.7h0M352.5 70.9h0M346.6 46.5h0M348.1 50.1h0M347.7 51.1h0M348.9 38.9h0M347.0 44.1h0M348.1 38.0h0M348.0 47.7h0M351.0 58.7h0M348.9 43.3h0M346.7 42.4h0M349.1 43.7h0M350.6 57.2h0M356.9 69.3h0M348.9 46.9h0M352.1 59.1h0M347.9 53.6h0M353.0 62.1h0M354.2 70.8h0M354.7 70.3h0M347.0 39.8h0M345.4 75.7h0M346.7 77.5h0M349.0 77.3h0M349.1 77.9h0M348.2 74.9h0M349.4 75.4h0M344.9 76.2h0M347.7 78.6h0M348.7 77.0h0M349.2 79.5h0M349.3 78.8h0M349.0 74.9h0M344.8 76.7h0M352.1 75.1h0M351.5 75.2h0M349.9 76.2h0M349.1 79.3h0M344.6 75.5h0M346.6 76.7h0M343.3 77.9h0M351.9 77.8h0M346.1 78.8h0M346.9 74.8h0M349.3 74.7h0M350.2 79.8h0M348.9 78.3h0M344.5 79.2h0M345.5 75.4h0M350.7 78.0h0M348.4 75.0h0M342.7 77.5h0M349.8 75.5h0M344.2 78.7h0M345.2 78.8h0M345.9 77.4h0M345.7 76.6h0M347.3 75.4h0M348.7 78.7h0M345.1 79.4h0M349.8 76.1h0M325.3 40.9h0M326.2 41.9h0M325.7 41.4h0" stroke="#52A9E1"/>
<path d="M349.7 110.6h0M327.9 105.4h0M330.9 108.3h0" stroke="#D6622A"/>
<path d="M349.9 110.4h0M332.2 93.3h0M345.6 104.8h0M329.3 95.7h0M333.0 101.4h0M341.5 108.7h0M331.9 98.1h0M344.8 107.9h0M331.3 98.6h0M329.9 96.5h0M348.9 111.3h0M334.8 108.7h0M326.7 105.9h0M327.8 92.2h0M328.7 103.4h0M347.2 104.0h0M327.2 100.5h0M334.9 102.7h0M347.1 109.9h0M336.5 101.9h0M339.1 106.6h0M333.6 91.9h0M329.0 102.4h0M327.1 109.4h0M327.7 100.6h0M326.6 98.1h0M328.3 92.7h0M330.1 104.0h0M330.4 109.7h0M328.8 96.9h0M333.0 109.1h0M339.4 108.5h0M328.3 110.9h0M335.5 97.1h0M332.9 102.5h0M330.4 109.2h0M335.6 95.6h0M338.0 111.1h0M351.8 105.1h0M351.3 111.1h0M333.2 100.0h0M336.6 99.6h0M332.0 113.3h0M337.7 106.6h0M352.5 109.5h0M332.6 113.5h0M347.6 109.5h0M351.2 111.8h0M346.0 107.0h0M342.0 102.2h0M335.5 110.2h0M349.2 112.3h0M331.6 99.3h0M332.7 93.5h0M327.2 92.7h0M334.6 106.5h0M352.7 102.5h0M352.9 109.0h0M334.7 112.4h0M343.2 111.3h0M341.1 102.9h0M337.9 112.6h0M336.2 99.9h0M354.7 108.0h0M326.1 105.5h0M338.4 108.6h0M341.2 111.1h0M331.9 109.2h0M331.3 98.4h0M335.2 108.9h0M330.8 104.4h0M340.5 107.4h0M356.0 104.7h0M353.2 104.5h0M348.5 112.3h0M336.2 113.6h0M331.4 91.6h0M344.6 110.7h0M338.1 105.8h0M333.0 97.8h0M338.0 103.6h0M325.2 99.3h0M347.2 109.3h0M332.3 97.3h0M331.3 105.3h0M347.3 109.4h0M347.1 108.4h0M333.4 111.5h0M354.3 101.8h0M327.7 92.7h0M349.7 107.6h0M329.4 102.3h0M335.4 109.8h0M332.6 95.9h0M330.0 101.0h0M330.0 96.4h0M327.6 95.7h0M334.8 103.4h0M330.7 102.8h0M330.2 92.8h0M329.7 112.2h0M351.3 108.8h0M336.0 106.4h0M342.2 107.2h0M329.5 100.0h0M351.4 110.4h0M343.3 107.6h0M335.5 114.1h0M330.7 93.8h0M325.8 98.9h0M339.9 103.1h0M336.3 112.9h0M335.8 104.0h0M353.8 106.7h0M337.0 105.9h0M336.5 100.5h0M336.2 113.4h0M335.3 111.1h0M330.0 107.9h0M325.7 95.7h0" stroke="#D6622A"/>
<path d="M326.8 110.7h0M329.6 96.6h0M326.8 97.5h0M347.7 108.6h0M348.2 112.0h0M352.1 109.5h0M326.2 92.4h0M328.9 91.5h0M347.0 106.4h0M328.5 95.0h0M330.6 105.9h0M332.9 96.7h0M330.6 94.7h0M335.9 109.1h0M326.8 104.0h0M338.6 110.4h0M342.8 102.1h0M352.3 105.7h0M335.4 100.7h0M353.4 104.7h0M329.4 95.3h0M336.9 107.9h0M349.4 103.6h0M337.8 107.4h0M342.7 108.8h0M349.4 111.1h0M334.9 109.6h0M333.1 106.0h0M329.9 112.0h0M329.6 109.6h0M333.6 93.8h0M352.0 101.8h0M347.6 106.9h0M328.0 103.1h0M338.2 105.0h0M350.1 109.6h0M339.1 112.2h0M355.6 104.3h0M332.7 111.0h0M326.0 102.7h0M327.7 111.9h0M339.4 102.5h0M347.3 108.9h0M335.6 113.9h0M330.7 94.3h0M330.8 103.3h0M335.4 95.0h0M353.8 102.6h0M353.1 106.0h0M344.6 104.1h0M351.5 101.9h0M350.0 107.7h0M339.4 111.2h0M330.0 107.8h0M330.2 94.4h0M339.6 103.1h0M333.3 100.0h0M342.2 109.7h0M329.4 105.3h0M325.9 96.0h0M328.8 98.0h0M344.5 104.8h0M354.4 107.8h0M344.7 104.3h0M351.7 107.4h0M336.2 105.8h0M334.3 114.7h0M350.9 107.4h0M326.5 101.5h0M343.3 111.2h0M325.4 96.0h0M330.6 111.4h0M333.3 112.6h0M328.4 109.3h0M333.4 94.6h0M336.3 107.2h0M355.8 106.3h0M347.5 104.5h0M336.1 113.1h0M332.9 94.5h0M329.9 94.7h0M343.2 110.6h0M330.0 103.3h0M342.8 104.7h0M337.8 104.3h0M327.9 102.7h0M345.8 111.5h0M339.0 103.3h0M353.6 105.8h0M330.6 92.7h0M327.5 99.1h0M327.8 106.9h0M332.6 94.8h0M334.5 98.9h0M353.2 108.3h0M326.4 94.0h0M351.3 106.9h0M329.9 106.3h0M326.8 103.4h0M348.0 108.6h0M331.9 100.8h0M331.1 93.2h0M335.4 97.5h0M337.4 107.9h0M327.2 104.3h0M328.1 103.3h0M345.8 103.1h0M346.3 108.1h0M326.4 108.5h0M343.1 108.7h0M335.8 108.0h0M336.4 108.4h0M333.6 115.0h0M327.8 108.8h0M351.8 106.6h0M329.8 112.4h0M336.8 107.5h0M336.0 112.4h0M351.8 105.4h0M355.0 106.8h0" stroke="#D6622A"/>
<path d="M354.4 104.9h0M331.1 103.7h0M336.6 103.5h0M333.6 103.3h0M340.6 101.3h0M348.9 108.2h0M349.2 103.7h0M332.7 113.7h0M334.0 100.8h0M347.0 111.1h0M340.0 108.9h0M331.6 102.1h0M336.1 98.5h0M336.1 109.5h0M332.2 110.2h0M345.3 107.6h0M344.7 108.0h0M333.5 92.5h0M354.8 103.9h0M349.7 109.1h0M333.4 102.9h0M347.1 112.9h0M351.3 112.3h0M338.6 101.3h0M334.7 114.9h0M330.7 94.9h0M333.7 113.6h0M325.6 100.6h0M336.5 109.7h0M335.3 107.6h0M331.2 112.0h0M343.2 105.1h0M335.1 106.8h0M343.7 103.5h0M328.8 96.2h0M334.7 101.2h0M336.3 113.1h0M332.5 112.0h0M332.6 105.4h0M349.7 110.9h0M333.3 110.0h0M326.7 100.3h0M332.1 106.3h0M349.1 111.6h0M333.1 109.4h0M327.8 102.3h0M327.9 93.2h0M336.4 101.6h0M346.8 103.6h0M340.8 103.1h0M336.5 112.1h0M331.5 112.5h0M336.1 99.2h0M344.1 104.8h0M333.8 93.1h0M328.5 107.1h0M335.2 111.7h0M335.5 101.2h0M345.5 107.3h0M332.2 110.4h0M339.2 111.4h0M336.6 109.0h0M325.9 96.4h0M354.8 107.7h0M345.9 103.2h0M330.4 106.8h0M340.0 106.1h0M329.2 98.6h0M346.0 104.4h0M344.1 110.1h0M338.7 111.3h0M342.6 109.5h0M336.3 102.0h0M350.7 103.8h0M338.6 111.3h0M346.3 104.1h0M325.8 99.2h0M327.0 92.8h0M330.0 98.2h0M333.6 113.5h0M355.7 101.8h0M342.1 106.0h0M349.4 102.2h0M333.7 109.2h0M331.9 96.3h0M340.8 103.3h0M348.1 112.5h0M335.8 108.9h0M353.5 102.6h0M340.7 110.3h0M331.1 108.7h0M336.0 110.9h0M327.9 97.8h0M344.7 102.8h0M336.7 105.2h0M331.8 101.7h0M332.9 111.4h0M342.1 105.7h0M351.7 110.3h0M346.0 111.0h0M338.5 107.5h0M328.1 101.1h0M331.9 112.2h0M330.7 105.1h0M330.9 102.6h0M341.7 101.8h0M340.6 111.5h0M331.2 91.9h0M348.8 105.0h0M342.8 106.9h0M336.5 102.8h0M327.0 106.8h0M342.1 109.0h0M328.1 111.6h0M332.7 93.1h0M332.8 93.1h0M334.3 102.3h0M336.5 110.3h0M346.6 110.1h0M340.9 101.8h0" stroke="#D6622A"/>
<path d="M338.5 109.8h0M350.8 102.7h0M330.5 101.0h0M352.6 101.0h0M345.5 104.7h0M339.3 105.1h0M332.6 104.7h0M336.4 112.6h0M344.4 106.5h0M351.1 102.5h0M329.1 98.4h0M347.1 108.8h0M331.3 106.7h0M345.4 107.1h0M325.7 101.8h0M335.1 105.6h0M341.9 110.8h0M328.6 108.9h0M337.2 103.3h0M345.0 111.4h0M337.2 109.5h0M333.6 93.7h0M326.3 102.0h0M338.7 109.7h0M333.6 94.7h0M341.1 101.4h0M332.4 104.7h0M334.4 105.4h0M334.3 108.5h0M325.6 100.2h0M328.9 102.6h0M325.5 94.7h0M331.9 93.0h0M327.8 95.8h0M332.8 96.9h0M343.5 112.2h0M328.1 92.6h0M346.5 105.4h0M333.5 106.7h0M327.7 110.6h0M328.6 103.5h0M340.6 108.6h0M336.6 101.1h0M333.0 111.0h0M355.9 106.9h0M350.1 104.7h0M327.5 112.2h0M330.4 97.3h0M339.3 108.5h0M328.0 107.2h0M328.2 102.7h0M345.1 107.8h0M326.3 95.7h0M346.6 109.1h0M342.7 103.6h0M355.8 102.4h0M348.0 108.5h0M349.4 102.6h0M334.7 100.0h0M349.8 111.6h0M351.2 107.4h0M330.3 94.8h0M329.8 108.6h0M331.9 111.8h0M335.2 111.8h0M334.4 97.6h0M328.1 108.4h0M343.0 103.3h0M332.6 98.0h0M328.9 111.8h0M350.1 108.0h0M342.0 110.9h0M329.8 104.2h0M333.2 100.8h0M330.9 108.4h0M342.8 110.1h0M344.5 105.7h0M328.2 99.2h0M345.0 107.2h0M338.8 102.3h0M328.4 106.2h0M346.2 112.9h0M329.0 94.3h0M338.8 110.4h0M327.4 102.1h0M325.6 102.8h0M337.8 111.8h0M349.2 105.4h0M332.4 98.5h0M345.0 103.4h0M335.0 105.9h0M327.9 92.4h0M338.1 111.5h0M350.9 105.4h0M328.2 108.9h0M349.8 105.7h0M328.6 105.7h0M352.2 107.3h0M333.6 113.5h0M350.6 112.9h0M332.7 105.1h0M348.6 106.1h0M335.3 104.3h0M353.8 104.9h0M353.3 104.9h0M339.3 104.5h0M344.3 102.7h0M344.7 104.1h0M325.4 98.8h0M345.1 110.6h0M332.4 100.3h0M332.0 108.3h0M341.4 105.8h0M335.1 105.4h0M335.7 110.7h0M330.4 104.7h0M325.6 97.6h0M363.6 118.8h0M354.8 115.1h0M361.5 116.4h0" stroke="#D6622A"/>
<path d="M371.0 127.2h0M360.3 114.2h0M354.9 112.6h0M368.7 121.0h0M353.8 114.5h0M365.0 116.2h0M369.3 124.3h0M356.1 116.1h0M370.7 123.5h0M350.5 113.4h0M371.2 123.8h0M368.9 122.8h0M366.7 120.2h0M369.9 128.7h0M369.3 124.8h0M359.1 116.1h0M367.7 121.3h0M366.7 117.6h0M357.7 114.9h0M354.0 114.9h0M370.9 126.1h0M368.4 121.1h0M353.8 114.4h0M370.1 122.4h0M354.0 112.2h0M369.7 122.7h0M370.9 123.6h0M354.1 112.5h0M371.1 125.8h0M352.6 113.8h0M353.2 113.6h0M353.6 111.9h0M367.3 120.9h0M362.0 116.2h0M352.1 111.7h0M357.0 115.8h0M368.3 121.5h0M365.0 118.3h0M354.6 112.9h0M359.2 114.3h0M370.1 121.5h0M360.0 114.6h0M370.1 125.1h0M364.0 116.7h0M369.1 126.6h0M362.9 117.0h0M371.0 125.3h0M358.5 113.2h0M364.1 118.3h0M355.3 113.4h0M369.6 128.7h0M360.7 117.3h0M370.5 126.1h0M354.1 113.9h0M368.2 122.3h0M368.4 119.6h0M365.1 116.8h0M363.0 116.7h0M369.2 126.3h0M370.1 127.0h0M370.5 128.2h0M369.7 126.7h0M370.6 125.5h0M370.5 129.0h0M369.7 125.0h0M360.5 117.2h0M356.3 115.3h0M363.6 116.7h0M355.8 115.3h0M370.4 121.2h0M370.2 128.5h0M361.2 115.7h0M365.4 119.3h0M369.6 127.4h0M361.4 114.4h0M352.8 112.8h0M366.6 118.3h0M369.8 128.6h0M360.5 115.4h0M354.9 115.7h0M366.5 118.7h0M362.7 115.7h0M359.4 115.3h0M362.3 118.5h0M366.8 117.3h0M353.0 111.3h0M359.8 116.8h0M370.9 126.1h0M369.9 122.9h0M365.3 117.9h0M352.8 110.8h0M367.7 120.6h0M360.5 117.6h0M370.6 123.8h0M352.7 112.9h0M368.5 119.3h0M352.2 112.4h0M351.6 113.3h0M367.8 118.8h0M363.3 115.8h0M356.5 112.7h0M370.2 123.8h0M369.5 121.0h0M369.8 123.7h0M368.1 119.7h0M366.8 117.2h0M369.3 128.2h0M365.1 118.2h0M353.9 112.4h0M356.6 115.9h0M351.4 111.9h0M369.7 125.2h0M369.7 121.1h0M356.9 115.3h0M358.6 116.1h0M360.0 116.7h0M365.5 119.0h0" stroke="#D6622A"/>
<path d="M369.0 128.0h0M369.5 130.0h0M368.5 126.0h0" stroke="#E6A028"/>
<path d="M367.0 133.5h0M377.8 145.6h0M382.5 144.6h0M382.8 147.2h0M385.5 144.7h0M381.4 147.9h0M377.4 141.2h0M374.5 142.2h0M376.6 142.2h0M385.2 146.7h0M381.3 142.1h0M379.2 149.0h0M384.5 147.2h0M380.2 145.2h0M375.8 145.4h0M385.0 144.6h0M377.3 143.0h0M379.7 146.5h0M381.1 148.6h0M380.4 145.4h0M377.9 142.1h0M385.5 145.1h0M385.0 146.9h0M383.1 147.4h0M377.8 147.2h0M376.6 145.7h0M381.4 147.6h0M376.1 143.9h0M384.3 147.8h0M376.6 141.9h0M383.0 147.3h0M382.1 147.6h0M380.4 145.8h0M385.5 146.5h0M382.2 146.0h0M380.2 147.4h0M381.2 142.1h0M379.3 144.6h0M379.4 145.8h0M378.5 144.3h0M379.3 144.2h0M373.0 139.0h0M374.0 144.0h0M375.0 146.0h0" stroke="#D81B35"/>
<path d="M376.4 140.4h0M378.2 139.4h0M373.7 146.0h0M376.4 145.6h0M375.9 135.5h0M378.2 138.1h0M374.1 144.3h0M378.1 143.9h0M375.5 145.3h0M377.4 137.9h0M376.3 143.4h0M377.8 137.8h0M374.5 139.8h0M372.8 139.9h0M377.8 143.1h0M373.4 145.2h0M372.9 145.5h0M374.0 142.2h0M374.2 147.4h0M379.5 139.0h0M378.0 144.7h0M376.5 138.6h0M374.6 137.8h0M375.4 147.6h0M379.2 138.8h0M373.7 136.6h0M374.9 136.7h0M373.4 138.5h0M376.6 141.2h0M374.4 142.4h0M378.2 145.1h0M374.7 147.9h0M378.3 142.9h0M375.8 139.6h0M373.1 147.4h0M376.9 136.4h0M373.9 142.5h0M378.7 139.9h0M376.0 144.3h0M373.5 143.8h0M375.4 148.8h0M373.5 145.0h0M376.2 137.4h0M378.4 136.3h0M377.0 147.1h0M373.0 138.0h0M378.1 141.6h0M379.5 139.7h0M375.2 148.4h0M374.8 148.5h0M379.1 137.8h0M376.4 148.2h0M372.9 146.9h0M378.2 145.5h0M376.8 136.4h0M378.3 145.1h0M374.5 144.6h0M375.3 145.5h0M375.1 146.2h0M375.8 146.4h0" stroke="#1E72B8"/>
<path d="M309.8 188.2h0M329.9 172.3h0M340.3 167.5h0M324.1 173.2h0M321.7 160.9h0M346.0 192.6h0M333.8 168.7h0M321.3 192.7h0M315.0 180.7h0M333.3 154.5h0M312.1 188.8h0M312.5 193.3h0M344.2 173.7h0M341.6 151.8h0M340.2 170.6h0M322.2 200.3h0" stroke="#E6A028"/>
<path d="M347.7 153.1h0M321.1 166.0h0M339.3 165.0h0M332.2 193.6h0M318.6 188.1h0M326.5 201.3h0M359.4 165.2h0M341.1 152.5h0M330.7 182.5h0M342.8 166.0h0M338.7 156.0h0M325.2 182.2h0M356.7 176.1h0M322.4 180.3h0M323.5 191.8h0M332.2 199.1h0M326.5 169.1h0M349.2 169.6h0M334.1 169.2h0M331.5 199.9h0M336.8 185.9h0M329.1 161.9h0M316.1 197.8h0M328.0 186.9h0M333.4 176.8h0M326.8 185.9h0M346.6 171.3h0M320.1 194.1h0M338.1 165.1h0M322.1 163.0h0M323.8 166.3h0M350.9 192.1h0M346.0 197.8h0M343.6 152.6h0M322.6 176.9h0M352.6 180.3h0M331.7 160.2h0M361.0 161.0h0M353.9 152.9h0M343.6 166.9h0M356.1 163.4h0M343.0 185.9h0M323.9 161.9h0M311.2 181.8h0M327.5 156.9h0M332.1 200.4h0M342.3 184.4h0M336.0 156.5h0M355.3 152.5h0M336.2 173.9h0M338.3 188.5h0M356.4 173.4h0M311.1 194.6h0M316.5 181.2h0M350.4 153.5h0M324.5 195.8h0M345.5 152.3h0M345.3 192.5h0M330.6 155.1h0M343.9 164.7h0M330.3 153.4h0M329.3 178.3h0M338.2 169.6h0M351.4 151.1h0M326.4 200.6h0M349.5 177.3h0M350.7 179.5h0M314.1 197.2h0M326.0 169.8h0M346.4 192.5h0M325.7 154.5h0M349.3 186.6h0M328.6 166.1h0M317.1 194.7h0M333.4 193.5h0M326.9 164.8h0M336.2 189.6h0M355.8 166.7h0M345.7 169.6h0M354.6 190.5h0M338.4 167.2h0M323.4 197.8h0M351.4 163.9h0M351.9 176.9h0M338.3 177.6h0M330.7 178.6h0M344.6 183.5h0M351.7 186.5h0M350.3 154.9h0M337.1 191.1h0M317.2 176.9h0M356.7 189.7h0M330.0 174.0h0M323.7 202.2h0M350.5 185.8h0M325.1 188.8h0M334.7 192.7h0M328.2 197.6h0M345.3 172.4h0M338.8 193.1h0M337.0 202.2h0M346.8 174.6h0M354.0 154.7h0M326.8 187.8h0M352.6 167.8h0M313.0 179.3h0M326.0 161.3h0M332.7 150.6h0M338.6 172.0h0M325.3 181.3h0M327.3 203.1h0M359.7 188.5h0M352.8 150.4h0M359.8 159.0h0M336.9 163.6h0M344.7 178.8h0M340.6 163.5h0M347.9 186.3h0M346.8 173.6h0M333.5 162.7h0" stroke="#E6A028"/>
<path d="M341.6 156.9h0M354.2 193.7h0M334.8 156.3h0M323.3 189.2h0M327.4 181.0h0M314.9 195.4h0M326.9 199.2h0M326.4 163.9h0M340.2 194.3h0M337.3 202.0h0M359.1 161.4h0M338.7 167.1h0M339.6 200.6h0M322.5 194.0h0M359.0 160.9h0M328.4 180.0h0M321.5 187.4h0M343.5 151.6h0M345.9 166.4h0M333.3 192.5h0M337.2 162.1h0M347.7 185.2h0M353.7 169.9h0M338.6 195.7h0M319.5 196.2h0M339.4 154.6h0M357.9 171.7h0M318.7 170.1h0M340.3 171.1h0M346.8 153.7h0M322.5 193.2h0M349.0 181.0h0M331.8 159.9h0M345.8 152.3h0M320.7 171.7h0M361.3 165.0h0M325.7 173.8h0M317.5 169.5h0M346.1 165.0h0M351.2 156.8h0M314.3 182.7h0M333.0 199.7h0M314.5 189.7h0M344.5 167.7h0M315.7 181.8h0M349.2 173.6h0M334.0 186.1h0M341.3 170.8h0M318.8 173.1h0M338.1 198.4h0M361.7 178.6h0M326.3 159.0h0M342.4 189.2h0M322.1 186.4h0M362.0 168.9h0M358.8 171.5h0M343.5 196.7h0M319.7 166.2h0M325.2 173.9h0M348.5 182.9h0M358.3 185.2h0M342.5 157.8h0M354.4 170.2h0M359.9 166.9h0M341.8 177.7h0M322.9 191.6h0M325.9 197.6h0M324.8 181.7h0M351.8 152.4h0M350.3 168.8h0M336.7 170.6h0M332.2 203.9h0M348.0 187.0h0M353.0 185.4h0M342.4 164.3h0M323.1 199.9h0M327.0 166.4h0M314.8 188.5h0M351.9 192.2h0M350.9 153.1h0M353.6 194.5h0M336.3 159.7h0M354.4 153.0h0M361.1 170.3h0M349.8 192.9h0M348.8 159.2h0M326.1 166.0h0M332.0 153.5h0M361.9 175.0h0M346.2 176.4h0M349.6 165.7h0M330.9 189.5h0M346.2 197.9h0M325.3 195.6h0M348.0 179.5h0M330.6 179.2h0M325.4 153.2h0M311.5 187.9h0M347.7 182.0h0M319.8 188.2h0M352.8 182.2h0M321.0 179.0h0M329.9 161.7h0M316.8 196.6h0M342.5 200.6h0M324.9 177.6h0M334.5 199.2h0M339.6 183.3h0M340.0 191.9h0M320.7 184.5h0M322.6 168.4h0M322.7 160.3h0M326.1 170.2h0M328.0 165.0h0M348.1 174.8h0M356.7 172.7h0M319.8 194.0h0M356.2 153.1h0M335.5 178.8h0M341.7 185.4h0" stroke="#E6A028"/>
<path d="M342.3 182.3h0M312.9 191.0h0M319.5 196.3h0M352.4 194.7h0M329.2 200.8h0M322.7 179.6h0M344.7 159.7h0M329.2 151.9h0M351.2 156.8h0M342.9 183.3h0M336.8 195.9h0M348.9 158.3h0M337.3 155.9h0M356.0 184.4h0M340.3 177.0h0M339.0 181.2h0M313.2 191.2h0M321.7 180.5h0M337.0 165.9h0M359.2 169.1h0M331.4 177.6h0M349.8 177.5h0M347.0 183.3h0M349.3 158.7h0M339.1 171.7h0M321.2 191.7h0M320.6 187.5h0M334.9 171.0h0M346.4 188.4h0M351.4 161.4h0M344.4 175.0h0M358.8 172.2h0M333.9 177.1h0M325.3 152.2h0M318.0 172.0h0M327.4 175.3h0M337.0 168.7h0M323.8 166.6h0M325.9 189.4h0M335.1 192.6h0M319.8 167.6h0M330.1 168.5h0M360.2 171.7h0M343.0 180.8h0M352.9 165.6h0M337.3 180.1h0M312.4 189.6h0M328.7 183.6h0M324.0 199.7h0M328.5 162.1h0M356.4 159.0h0M323.3 174.5h0M320.1 192.6h0M350.5 187.7h0M351.0 152.9h0M356.2 166.9h0M352.1 173.6h0M356.2 174.0h0M317.6 197.2h0M339.4 196.5h0M316.9 174.1h0M333.8 152.3h0M322.9 199.9h0M347.3 175.8h0M341.3 196.4h0M359.5 180.8h0M311.6 197.0h0M316.2 176.0h0M339.8 172.9h0M333.9 154.2h0M347.0 177.4h0M325.3 194.8h0M329.5 172.3h0M322.5 189.5h0M357.0 154.1h0M335.8 202.6h0M356.1 172.4h0M336.4 192.0h0M341.3 151.6h0M348.8 170.8h0M358.0 159.1h0M355.5 159.3h0M360.5 166.8h0M347.0 148.0h0M336.3 177.6h0M314.1 179.9h0M332.6 165.2h0M353.0 186.4h0M315.5 192.3h0M349.4 173.7h0M361.8 181.0h0M315.8 181.7h0M342.0 196.2h0M360.6 161.3h0M322.9 196.7h0M314.8 192.4h0M356.5 178.9h0M341.2 146.3h0M341.1 181.9h0M349.8 176.3h0M343.6 150.7h0M351.2 178.0h0M327.9 202.4h0M339.8 160.0h0M338.9 196.0h0M328.5 171.4h0M342.8 156.6h0M339.8 164.8h0M334.0 187.7h0M325.6 181.0h0M352.5 173.3h0M342.3 162.9h0M322.5 175.8h0M337.2 159.1h0M349.5 175.2h0M327.8 160.8h0M358.7 160.5h0M312.7 182.9h0M345.0 165.7h0M332.3 186.0h0" stroke="#E6A028"/>
<path d="M350.7 185.8h0M340.0 152.0h0M320.4 161.0h0M310.6 183.4h0M339.3 200.1h0M338.3 199.7h0M333.8 176.3h0M323.8 173.2h0M358.6 174.5h0M319.4 182.5h0M335.9 173.8h0M358.1 190.6h0M346.1 180.9h0M343.5 175.3h0M353.3 181.2h0M356.9 177.9h0M317.6 187.3h0M343.2 193.2h0M351.9 166.0h0M316.5 196.6h0M359.6 182.1h0M355.4 152.2h0M339.5 156.6h0M326.5 154.7h0M343.8 183.8h0M356.9 190.9h0M312.9 196.8h0M337.7 200.8h0M346.3 156.1h0M361.2 177.5h0M356.8 174.8h0M326.2 184.7h0M346.6 172.9h0M323.5 170.6h0M346.9 159.4h0M317.3 174.3h0M343.8 149.9h0M323.3 202.8h0M323.1 191.2h0M334.7 196.9h0M350.2 148.8h0M346.3 182.3h0M334.5 184.9h0M336.6 156.7h0M345.8 153.5h0M325.4 195.8h0M339.1 175.9h0M346.6 174.8h0M329.3 178.3h0M357.1 184.2h0M317.3 196.0h0M323.9 193.1h0M343.5 181.4h0M348.3 161.6h0M353.2 177.7h0M349.1 195.1h0M322.4 170.0h0M355.4 186.1h0M334.9 177.9h0M327.9 186.2h0M337.3 175.1h0M322.6 159.0h0M344.5 165.9h0M360.4 162.2h0M336.2 152.1h0M335.5 202.0h0M349.4 167.3h0M323.6 200.5h0M311.7 195.4h0M354.4 150.0h0M359.4 183.8h0M329.6 170.9h0M341.2 176.8h0M350.2 183.9h0M343.7 150.3h0M312.9 198.6h0M328.2 173.7h0M360.6 157.4h0M342.6 149.6h0M338.7 189.2h0M317.3 190.4h0M347.0 178.0h0M352.7 193.2h0M342.3 185.1h0M318.4 165.8h0M326.2 196.2h0M350.4 163.0h0M327.9 168.7h0M354.3 177.2h0M342.4 171.7h0M333.3 202.0h0M323.6 176.7h0M334.3 154.3h0M316.7 175.6h0M351.3 171.3h0M316.2 197.7h0M311.3 184.0h0M331.3 190.2h0M332.0 170.5h0M330.3 176.5h0M323.8 201.8h0M338.0 166.6h0M347.2 148.3h0M344.8 167.3h0M358.1 163.6h0M331.9 164.6h0M337.2 162.4h0M344.5 170.1h0M346.5 163.1h0M333.1 178.6h0M347.1 184.2h0M331.7 151.0h0M344.1 165.9h0M357.1 159.7h0M316.6 185.9h0M339.6 160.7h0M351.9 185.5h0M331.7 181.6h0M343.8 171.8h0M359.1 167.8h0" stroke="#E6A028"/>
<path d="M342.8 151.2h0M350.0 196.6h0M328.7 167.8h0M336.1 160.8h0M345.4 175.8h0M355.3 182.0h0M341.8 171.5h0M331.5 154.5h0M338.0 162.1h0M315.4 196.9h0M339.4 197.3h0M324.5 179.7h0M323.6 194.6h0M320.0 183.9h0M338.4 165.0h0M336.7 193.9h0M325.1 192.9h0M321.2 183.1h0M346.5 175.1h0M314.9 173.7h0M358.8 168.9h0M338.5 170.6h0M355.8 179.9h0M327.3 162.6h0M318.8 200.6h0M353.6 168.1h0M340.9 178.3h0M347.9 155.5h0M343.6 181.8h0M359.8 174.6h0M353.2 173.8h0M320.4 169.8h0M312.9 180.0h0M320.5 187.0h0M318.1 186.4h0M341.7 187.6h0M359.4 163.3h0M345.2 169.2h0M349.4 181.1h0M322.8 199.1h0M326.9 194.1h0M344.9 195.1h0M351.5 172.6h0M329.9 192.5h0M343.7 177.6h0M314.1 195.3h0M313.6 197.6h0M348.9 185.6h0M330.7 180.9h0M338.3 201.5h0M335.9 177.6h0M333.4 170.1h0M345.5 152.5h0M349.3 177.8h0M314.5 175.6h0M320.8 158.6h0M322.6 204.6h0M317.0 163.8h0M318.1 201.5h0M321.9 201.6h0M313.5 173.8h0M313.4 198.9h0M313.2 171.1h0M312.5 177.6h0M316.8 166.8h0M312.9 197.6h0M310.6 195.4h0M322.0 152.8h0M314.7 170.7h0M328.5 203.2h0M322.9 157.5h0M317.7 161.6h0M311.3 186.3h0M315.3 169.7h0M318.9 164.0h0M324.6 203.3h0M316.1 167.2h0M320.2 159.8h0M311.3 193.7h0M310.3 187.9h0M313.9 200.4h0M324.8 204.1h0M319.1 164.7h0M311.3 198.5h0M322.2 157.0h0M315.2 170.5h0M322.3 203.3h0M313.6 201.0h0M314.8 169.9h0M312.7 176.4h0M308.8 186.7h0M317.2 162.6h0M319.3 163.2h0M320.2 204.4h0M311.0 175.3h0M321.2 154.4h0M319.1 166.1h0M315.6 199.2h0M315.2 198.3h0M320.4 160.8h0M321.3 158.2h0M312.4 174.1h0M308.3 183.6h0M320.9 201.2h0M325.1 205.3h0M309.4 189.1h0M319.0 163.7h0M318.0 167.0h0M310.2 192.5h0M315.4 200.8h0M320.0 200.5h0M320.7 202.5h0M310.5 193.7h0M312.3 197.1h0M312.8 198.9h0M320.0 161.9h0M315.2 198.4h0M309.3 193.7h0M313.3 198.0h0M310.5 183.1h0" stroke="#E6A028"/>
<path d="M314.9 198.5h0M310.6 185.6h0M310.5 190.8h0M318.2 166.1h0M324.0 202.9h0M322.7 204.1h0M315.3 169.5h0M322.2 152.7h0M311.0 193.6h0M309.6 185.9h0M311.6 195.4h0M324.8 204.1h0M320.5 156.8h0M323.3 202.5h0M311.5 199.0h0M323.4 201.5h0M320.4 201.3h0M317.5 202.1h0M309.1 181.9h0M317.2 203.3h0M328.1 204.7h0M313.1 199.9h0M312.0 178.0h0M310.9 185.5h0M314.4 168.5h0M320.4 203.2h0M311.7 196.9h0M308.8 189.6h0M324.0 153.6h0M329.2 203.4h0M312.2 183.0h0M314.7 168.2h0M321.9 154.4h0M317.0 202.7h0M314.2 168.1h0M312.8 176.2h0M327.6 204.4h0M312.6 195.6h0M324.7 153.7h0M319.3 158.8h0M314.3 167.6h0M312.2 195.6h0M313.2 197.7h0M311.2 186.4h0M319.4 203.2h0M308.7 190.2h0M314.8 174.7h0M313.0 172.7h0M311.0 188.9h0M316.4 167.8h0M325.1 154.8h0M312.4 181.7h0M323.8 201.9h0M313.9 201.2h0" stroke="#E6A028"/>
<path d="M325.6 177.7h0M341.7 168.6h0M331.3 164.5h0M355.8 186.3h0M335.8 195.7h0M340.7 192.0h0M344.6 149.7h0M323.2 181.6h0M333.1 177.5h0M356.2 162.5h0M322.2 175.4h0M322.4 173.7h0M311.2 193.1h0M343.5 163.5h0M359.6 158.9h0M348.9 148.7h0M343.2 154.5h0M344.6 159.5h0M320.2 197.0h0M345.6 182.4h0M356.0 191.6h0M340.3 174.8h0M337.2 162.2h0M336.6 196.9h0M320.0 175.7h0M339.7 172.9h0M345.4 197.5h0M350.5 185.8h0M322.7 164.3h0M335.0 163.2h0M347.9 167.7h0M358.0 155.3h0M359.8 168.0h0M351.6 164.7h0M351.7 170.3h0M333.5 188.6h0M357.6 190.8h0M319.6 165.9h0M334.2 153.7h0M330.7 160.4h0M353.4 190.1h0M324.5 161.4h0M343.6 178.1h0M323.9 170.8h0M352.0 189.8h0M357.8 192.2h0M360.5 155.3h0M329.1 193.1h0M350.8 177.8h0M314.2 188.3h0M349.5 157.6h0M320.1 195.8h0M333.7 161.0h0M347.1 186.0h0M311.2 183.4h0M356.5 167.1h0M343.5 200.2h0M336.3 191.0h0M330.9 165.6h0M320.6 164.2h0M355.9 172.7h0M315.6 176.2h0M350.4 168.7h0M359.9 181.6h0M327.3 152.6h0M330.4 198.1h0" stroke="#CF79B1"/>
<path d="M349.0 179.3h0M339.7 180.9h0M313.7 187.3h0M344.3 160.9h0M349.7 183.5h0M342.1 177.2h0M331.1 185.1h0M351.1 152.8h0M358.8 166.0h0M331.1 187.4h0M324.8 176.8h0M344.8 169.7h0M334.3 167.8h0M312.9 178.2h0M350.2 152.6h0M327.9 203.2h0M341.0 161.0h0M336.9 168.1h0M361.3 169.4h0M348.9 193.5h0M329.1 187.6h0M341.7 146.9h0M318.2 166.6h0M359.3 181.9h0M358.9 172.2h0M310.7 191.7h0M350.1 154.7h0M336.7 181.5h0M318.4 179.2h0M322.3 194.0h0M344.6 171.8h0M333.7 153.3h0M323.8 156.2h0M328.1 197.2h0M346.7 172.2h0M338.9 164.2h0M331.2 177.7h0M361.7 166.9h0M359.7 176.8h0M319.4 192.2h0M342.0 186.7h0M329.1 153.9h0M320.4 183.3h0M334.8 170.6h0M327.6 176.6h0M361.7 165.9h0M351.9 192.5h0M335.4 195.3h0M335.0 172.5h0M358.3 169.7h0M314.5 190.1h0M319.1 173.9h0M350.9 165.7h0M325.4 195.6h0M344.7 197.9h0M351.7 149.0h0M321.8 189.0h0M348.9 173.6h0M360.8 158.1h0M319.1 182.7h0M336.4 191.3h0M325.6 185.1h0M316.3 189.7h0M353.4 185.2h0M339.7 180.8h0M351.5 165.8h0M341.1 189.6h0M348.4 172.4h0M338.6 161.5h0M355.4 182.2h0M352.3 171.5h0M331.8 166.9h0M355.9 163.4h0M345.3 191.4h0M325.9 190.5h0M323.5 168.1h0M336.9 163.2h0M342.4 188.0h0M330.0 196.2h0M338.3 176.6h0M343.7 175.7h0M353.5 183.5h0M352.6 164.7h0M349.0 168.9h0M350.5 149.4h0M339.1 188.0h0M341.1 189.1h0M345.1 198.9h0M336.8 174.3h0M323.2 162.7h0M343.5 155.0h0M335.6 188.7h0M339.2 151.3h0M340.1 172.9h0M322.0 165.7h0M318.1 174.4h0M338.9 186.3h0M348.7 182.4h0M343.8 174.3h0M358.7 166.6h0M352.7 172.1h0M335.3 167.8h0M345.7 182.7h0M324.5 179.8h0M318.0 172.0h0M325.4 153.8h0M328.2 188.5h0M360.8 170.6h0M315.9 181.7h0M355.9 154.2h0M356.8 186.8h0M348.0 192.5h0M328.3 165.2h0M360.3 167.4h0M361.8 171.0h0M325.4 188.4h0M333.8 196.0h0M331.3 192.9h0M349.0 187.2h0M337.1 168.7h0" stroke="#CF79B1"/>
<path d="M336.9 166.8h0M361.6 164.0h0M350.5 185.4h0M334.8 151.3h0M349.3 173.9h0M351.6 174.9h0M334.6 189.1h0M326.7 191.4h0M344.7 168.1h0M329.1 166.6h0M341.0 148.0h0M356.2 179.5h0M347.3 188.1h0M331.3 152.9h0M355.5 188.2h0M335.4 176.1h0M334.9 172.8h0M357.1 156.4h0M329.1 180.9h0M348.2 163.6h0M328.5 191.8h0M356.5 176.7h0M347.5 194.7h0M331.2 167.4h0M330.8 195.6h0M338.6 183.6h0M349.5 197.1h0M335.4 158.8h0M354.1 183.6h0M342.9 156.8h0M327.9 179.7h0M337.7 165.0h0M348.2 167.1h0M348.7 168.0h0M353.7 178.3h0M345.3 178.1h0M341.6 169.8h0M356.4 180.9h0M342.0 170.1h0M353.0 153.7h0M325.4 160.7h0M324.2 167.8h0M327.7 185.2h0M347.3 153.8h0M344.4 149.8h0M345.6 155.4h0M327.6 197.3h0M348.9 183.3h0M336.0 184.4h0M330.0 195.0h0M330.4 185.7h0M327.2 171.3h0M320.1 166.8h0M318.9 173.9h0M339.6 191.2h0M334.7 157.0h0M344.9 158.9h0M325.0 165.2h0M355.3 192.3h0M333.2 157.8h0M329.8 157.4h0M324.9 174.5h0M345.6 176.1h0M347.2 189.5h0M322.2 181.0h0M358.6 188.2h0M338.3 191.2h0M314.2 186.1h0M350.9 170.1h0M355.2 164.8h0M340.1 172.4h0M346.3 193.9h0M335.7 177.8h0M317.3 196.0h0M348.2 189.3h0M326.6 155.6h0M337.6 172.6h0M330.2 155.8h0M317.6 189.0h0M343.4 190.3h0M356.2 154.6h0M354.0 171.5h0M354.0 168.2h0M327.6 203.0h0M331.9 152.2h0M324.3 201.5h0M360.6 161.8h0M350.7 180.8h0M353.2 171.1h0M338.5 201.2h0M328.9 186.4h0M343.7 147.4h0M349.3 157.3h0M314.5 195.6h0M331.6 156.7h0M341.1 196.4h0M344.2 186.2h0M351.5 193.5h0M352.5 153.3h0M344.3 151.5h0M343.0 163.9h0M323.7 174.4h0M358.8 163.8h0M347.3 179.3h0M355.8 189.8h0M343.5 152.8h0M327.3 168.7h0M353.5 189.7h0M358.1 181.5h0M348.9 186.2h0M351.4 173.7h0M358.7 186.7h0M328.7 187.2h0M334.1 151.8h0M342.4 183.6h0M342.2 178.1h0M318.7 173.9h0M341.7 160.3h0M334.3 176.0h0M353.6 172.6h0" stroke="#CF79B1"/>
<path d="M313.2 194.5h0M325.8 176.5h0M335.8 195.6h0M339.0 148.5h0M344.6 153.6h0M361.8 169.8h0M340.6 152.9h0M328.5 189.2h0M345.8 156.6h0M357.5 156.2h0M337.0 195.2h0M340.7 164.5h0M346.8 170.3h0M349.5 187.0h0M321.9 186.3h0M323.0 198.8h0M359.7 180.1h0M355.9 191.7h0M333.2 180.4h0M331.0 198.6h0M336.6 154.5h0M339.2 182.3h0M351.3 177.9h0M354.0 153.9h0M328.9 185.3h0M360.2 169.3h0M349.4 162.3h0M336.7 195.5h0M356.2 185.2h0M330.5 168.3h0M346.9 171.9h0M355.4 151.1h0M358.9 157.3h0M330.4 159.1h0M331.7 181.1h0M355.7 189.9h0M330.3 170.4h0M324.0 166.8h0M321.5 171.1h0M327.4 179.4h0M329.5 178.7h0M357.0 151.6h0M337.8 170.0h0M355.8 164.7h0M319.5 197.4h0M348.9 168.8h0M345.5 179.2h0M345.6 199.1h0M350.7 152.4h0M326.4 186.6h0M347.3 187.7h0M351.8 161.0h0M334.9 172.0h0M320.9 189.8h0M355.7 193.2h0M330.2 177.2h0M355.2 154.8h0M323.3 168.3h0M324.3 156.0h0M342.2 150.7h0M323.8 167.3h0M356.9 151.9h0M342.0 161.1h0M332.5 197.9h0M327.9 193.8h0M329.6 183.4h0M343.3 186.1h0M331.1 196.1h0M337.0 166.2h0M329.7 166.1h0M326.7 173.3h0M354.9 167.5h0M318.3 177.7h0M357.4 167.4h0M339.0 166.0h0M358.3 186.6h0M339.0 182.2h0M353.1 183.5h0M325.0 190.6h0M349.9 185.7h0M345.9 168.5h0M357.0 185.3h0M340.5 173.3h0M322.2 181.6h0M341.1 198.5h0M353.3 173.4h0M334.0 179.5h0M343.2 183.4h0M351.8 162.1h0M352.1 192.6h0M340.0 195.8h0M341.0 170.9h0M337.2 166.6h0M333.9 157.0h0M353.2 184.2h0M330.4 190.8h0M335.7 186.0h0M346.3 155.7h0M336.7 188.3h0M355.2 156.8h0M329.0 187.0h0M330.6 201.4h0M333.7 187.8h0M356.5 165.4h0M340.3 160.1h0M319.5 188.4h0M345.3 153.9h0M339.8 150.8h0M338.0 200.5h0M343.7 194.4h0M346.3 184.9h0M336.1 172.6h0M328.9 154.2h0M361.2 171.5h0M335.1 174.7h0M350.6 160.6h0M320.2 162.6h0M321.3 188.4h0M330.6 173.5h0M358.0 155.3h0" stroke="#CF79B1"/>
<path d="M332.3 189.3h0M345.2 161.3h0M348.8 164.5h0M337.5 198.4h0M321.1 193.5h0M332.5 197.3h0M337.6 183.9h0M342.3 170.7h0M338.5 188.5h0M345.9 168.8h0M328.2 165.0h0M349.7 176.7h0M346.3 149.9h0M347.0 148.4h0M335.9 202.6h0M330.6 166.1h0M349.8 173.0h0M336.2 189.4h0M339.7 170.6h0M361.3 179.2h0M314.4 179.1h0M321.8 191.3h0M346.8 162.5h0M350.1 147.9h0M336.7 160.3h0M338.3 189.4h0M342.6 169.6h0M347.5 167.5h0M316.6 181.6h0M321.5 185.0h0M360.5 178.0h0M344.4 158.6h0M341.5 168.1h0M349.3 185.8h0M332.0 200.2h0M327.2 157.2h0M334.9 154.5h0M347.8 147.1h0M330.6 187.5h0M334.3 158.5h0M354.8 167.4h0M358.5 167.7h0M316.4 170.1h0M352.7 193.9h0M315.8 184.1h0M328.5 187.7h0M341.2 170.4h0M350.1 156.8h0M349.3 171.6h0M345.9 167.7h0M328.4 161.6h0M349.4 171.3h0M355.3 155.0h0M317.2 178.7h0M346.2 194.6h0M332.1 151.5h0M355.1 162.7h0M316.4 170.7h0M325.4 160.3h0M337.2 178.2h0M322.7 183.0h0M350.6 197.0h0M314.5 187.5h0M323.3 160.5h0M357.6 166.6h0M320.6 173.2h0M325.1 181.4h0M330.9 154.6h0M340.4 182.6h0M341.2 191.1h0M340.3 194.4h0M332.0 155.4h0M346.8 192.5h0M337.6 191.2h0M354.1 179.1h0M336.6 191.2h0M316.8 180.8h0M327.6 169.2h0M355.7 162.7h0M339.0 162.6h0M322.5 163.6h0M346.1 186.6h0M338.1 184.3h0M311.3 193.9h0M331.5 194.7h0M327.6 201.9h0M323.5 191.1h0M320.2 168.9h0M339.4 199.7h0M332.7 155.8h0M355.4 161.3h0M351.5 179.4h0M360.0 162.4h0M332.3 167.5h0M352.4 185.7h0M322.9 157.2h0M325.6 158.6h0M341.8 177.6h0M360.5 167.5h0M330.9 192.0h0M320.9 172.4h0M361.5 165.7h0M336.4 181.1h0M326.3 181.5h0M360.5 179.1h0M343.4 188.7h0M344.7 168.5h0M327.6 159.6h0M338.3 156.0h0M324.7 167.8h0M360.7 176.8h0M330.2 178.0h0M336.7 176.0h0M339.3 152.7h0M332.9 182.5h0M351.1 185.8h0M338.0 161.5h0M328.6 159.1h0M330.7 171.3h0M323.2 182.3h0" stroke="#CF79B1"/>
<path d="M356.1 180.3h0M335.6 193.8h0M324.2 170.2h0M348.0 185.7h0M326.9 182.6h0M358.2 177.0h0M344.3 174.2h0M344.1 181.1h0M325.1 174.9h0M352.2 178.4h0M318.4 170.3h0M331.9 161.0h0M339.4 152.0h0M346.6 157.4h0M344.7 170.1h0M341.0 148.6h0M335.8 200.1h0M332.6 161.2h0M343.2 190.7h0M346.5 191.1h0M356.0 168.8h0M319.8 198.1h0M329.9 174.2h0M357.8 177.1h0M358.4 188.0h0M355.3 184.9h0M325.4 180.0h0M354.9 185.0h0M333.9 197.0h0M342.3 159.6h0M329.2 175.7h0M327.6 201.8h0M334.9 184.6h0M331.8 199.8h0M324.0 167.0h0M352.5 175.5h0M345.4 171.8h0M327.2 166.9h0M321.7 159.9h0M350.3 157.4h0M353.2 193.2h0M334.5 180.5h0M321.8 189.4h0M332.6 179.4h0M348.3 191.2h0M349.8 194.4h0M332.9 191.5h0M347.8 165.8h0M323.4 193.4h0M324.8 189.4h0M351.5 181.4h0M345.8 173.1h0M339.0 162.7h0M351.3 193.9h0M345.3 175.5h0M346.3 184.0h0M348.6 168.5h0M335.2 198.5h0M348.4 190.4h0M340.5 160.6h0M336.3 166.7h0M342.1 166.0h0M355.8 173.1h0M320.3 173.5h0M351.5 180.9h0M329.3 158.4h0M345.6 164.3h0M329.4 172.5h0M329.4 169.6h0M347.2 172.8h0M334.0 183.5h0M334.2 156.1h0M327.2 185.0h0M330.4 168.4h0M320.1 182.4h0M357.4 167.4h0M344.6 165.3h0M347.2 174.3h0M338.8 152.8h0M324.5 155.8h0M346.2 176.8h0M344.5 170.7h0M339.1 186.7h0M330.1 166.1h0M350.9 196.5h0M338.9 172.9h0M347.8 177.1h0M351.9 152.3h0M313.6 196.8h0M332.8 202.9h0M320.9 187.3h0M333.5 164.3h0M325.0 162.0h0M355.3 168.2h0M352.0 185.7h0M353.5 165.3h0M343.0 147.8h0M346.0 177.8h0M350.9 194.9h0M351.3 151.1h0M332.3 150.2h0M350.7 159.1h0M349.8 176.9h0M324.3 172.4h0M351.9 168.5h0M328.7 183.1h0M339.6 184.4h0M336.3 165.4h0M357.9 158.2h0M318.9 172.0h0M342.9 191.6h0M360.6 172.6h0M327.6 162.9h0M348.6 164.9h0M323.0 188.1h0M325.4 172.2h0M330.0 185.2h0M358.3 158.1h0M331.9 180.3h0M313.6 175.6h0" stroke="#CF79B1"/>
<path d="M350.8 189.0h0M349.6 152.0h0M323.1 155.5h0M341.8 188.9h0M329.0 158.8h0M323.2 199.7h0M331.7 167.8h0M351.7 150.3h0M317.4 199.5h0M324.4 192.9h0M322.0 186.2h0M316.4 195.8h0M321.8 171.0h0M328.6 161.1h0M322.3 174.3h0M343.0 154.1h0M316.1 175.2h0M360.2 167.5h0M345.5 150.3h0M315.9 198.6h0M336.3 156.7h0M349.2 178.5h0M348.0 181.1h0M326.7 173.1h0M322.5 167.7h0M343.3 174.6h0M349.5 170.3h0M329.4 154.0h0M344.7 155.4h0M327.1 154.7h0M323.5 182.2h0M354.9 171.2h0M335.5 152.3h0M335.5 195.2h0M337.1 156.4h0M344.7 193.2h0M339.8 165.5h0M345.3 150.6h0M334.6 184.3h0M332.8 199.5h0M341.8 190.8h0M348.1 193.2h0M323.0 187.6h0M354.7 191.3h0M335.2 162.1h0M343.6 183.1h0M346.3 199.1h0M343.2 198.0h0M342.6 148.3h0M347.0 195.5h0M320.1 171.8h0M349.0 153.6h0M319.9 189.6h0M356.1 170.1h0M331.0 154.2h0M354.5 170.6h0M347.5 179.2h0M346.9 181.2h0M318.5 198.6h0M332.4 195.6h0M329.7 179.7h0M321.8 195.6h0M357.8 163.5h0M346.0 195.1h0M338.2 157.2h0M321.6 195.3h0M349.6 157.5h0M339.8 162.1h0M359.7 165.2h0M342.5 199.5h0M319.6 198.1h0M343.4 149.5h0M348.6 161.6h0M323.7 192.8h0M343.1 181.4h0M337.1 157.0h0M325.7 162.4h0M310.7 192.2h0M356.7 193.4h0M320.1 201.8h0M346.0 156.8h0M340.6 183.2h0M339.8 154.1h0M332.9 191.8h0M360.5 157.2h0M351.1 165.4h0M326.8 182.7h0M347.3 162.6h0M347.3 194.4h0M349.6 185.4h0M351.8 159.7h0M340.8 161.2h0M320.2 171.9h0M320.7 184.8h0M343.5 194.1h0M354.7 184.9h0M353.4 180.8h0M329.7 163.1h0M352.9 161.7h0M353.2 157.2h0M351.8 196.6h0M354.4 167.9h0M346.1 177.0h0M320.8 176.7h0M334.9 175.4h0M352.0 154.1h0M351.9 179.4h0M358.2 191.7h0M324.8 174.3h0M353.5 182.3h0M336.2 198.1h0M360.8 178.5h0M333.0 176.5h0M356.2 170.6h0M348.3 196.8h0M334.5 170.8h0M331.5 157.8h0M325.1 161.1h0M327.4 182.6h0M315.0 191.7h0" stroke="#CF79B1"/>
<path d="M346.3 181.7h0M335.5 194.7h0M340.3 182.9h0M322.4 169.4h0M345.9 196.7h0M323.3 160.6h0M326.4 152.0h0M339.4 174.7h0M357.3 160.3h0M319.8 161.8h0M337.3 162.6h0M346.9 159.2h0M336.3 169.4h0M328.5 155.6h0M347.5 183.1h0M342.8 176.0h0M357.4 177.2h0M322.8 168.1h0M330.5 193.0h0M340.7 161.9h0M325.0 169.2h0M330.5 196.4h0M354.3 171.5h0M329.9 161.0h0M342.7 188.3h0M327.5 163.4h0M332.0 170.2h0M331.1 168.4h0M334.5 199.0h0M312.1 179.7h0M326.5 153.7h0M337.5 173.4h0M338.3 179.6h0M353.0 164.8h0M327.2 193.2h0M316.2 198.8h0M360.9 177.7h0M345.6 168.7h0M316.7 192.4h0M324.7 155.6h0M358.3 160.5h0M337.3 158.2h0M320.9 170.4h0M344.1 160.0h0M331.1 155.9h0M344.7 148.9h0M356.1 181.9h0M330.3 171.0h0M326.5 152.0h0M319.5 175.9h0M335.3 189.4h0M332.7 158.4h0M345.7 167.5h0M356.2 173.6h0M353.7 160.5h0M356.0 159.9h0M358.6 173.2h0M358.1 187.4h0M357.9 177.8h0M359.8 159.9h0M323.4 156.5h0M327.6 174.2h0M328.1 159.6h0M358.5 181.9h0M319.3 175.7h0M339.2 192.4h0M332.4 186.3h0M332.2 176.4h0M328.4 185.6h0M354.1 160.1h0M322.5 193.0h0M316.4 180.6h0M340.0 181.9h0M323.3 166.3h0M352.1 168.3h0M338.1 159.4h0M344.5 196.5h0M329.4 188.0h0M340.3 154.5h0M339.4 175.3h0M323.6 198.4h0M340.8 164.8h0M342.6 148.8h0M350.6 156.8h0M343.5 185.5h0M345.1 199.5h0M329.9 186.1h0M322.2 185.4h0M359.1 163.2h0M349.1 166.6h0M321.7 196.3h0M354.1 174.5h0M333.0 201.6h0M332.4 194.8h0M313.4 189.3h0M346.2 192.4h0M350.9 150.0h0M343.9 156.0h0M334.6 177.7h0M326.5 202.7h0M344.4 181.4h0M319.6 184.3h0M335.5 158.0h0M331.6 157.8h0M340.2 201.4h0M338.6 186.9h0M360.2 165.5h0M357.6 181.4h0M328.1 170.3h0M358.7 171.1h0M330.7 168.4h0M347.3 192.7h0M332.3 170.0h0M340.1 169.6h0M335.1 163.2h0M331.8 198.6h0M324.2 172.6h0M333.4 172.9h0M317.0 175.2h0M326.1 166.3h0" stroke="#CF79B1"/>
<path d="M340.7 158.9h0M346.6 146.8h0M342.7 198.3h0M353.4 184.8h0M352.1 190.2h0M357.1 166.9h0M351.2 155.8h0M359.7 158.8h0M335.8 196.0h0M333.5 160.4h0M346.5 179.5h0M317.7 185.0h0M353.9 160.4h0M333.1 179.4h0M341.7 197.5h0M325.7 198.2h0M345.2 155.2h0M344.2 168.7h0M315.0 189.7h0M314.2 183.2h0M339.4 182.2h0M335.2 168.8h0M336.7 186.2h0M328.2 168.2h0M321.7 165.9h0M325.7 162.6h0M320.1 192.0h0M346.7 169.4h0M358.6 156.8h0M351.2 170.0h0M333.2 195.9h0M323.0 158.4h0M333.6 172.2h0M318.8 168.4h0M319.2 164.8h0M358.8 174.2h0M327.2 152.8h0M341.6 166.6h0M342.5 149.7h0M336.8 181.4h0M321.1 166.1h0M330.0 176.9h0M342.3 174.0h0M349.0 193.0h0M358.9 187.1h0M323.0 187.2h0M326.0 152.8h0M346.6 191.0h0M319.8 183.3h0M342.4 161.3h0M349.6 166.2h0M340.8 199.2h0M344.4 177.9h0M340.9 186.3h0M360.4 158.9h0M326.6 157.2h0M341.7 151.9h0M314.8 174.9h0M325.7 185.4h0M352.4 185.7h0M359.4 177.3h0M346.1 192.4h0M356.2 190.9h0M323.8 155.3h0M337.6 176.7h0M324.9 185.1h0M336.7 153.8h0M320.1 200.5h0M360.1 162.5h0M345.7 148.2h0M326.2 193.4h0M337.8 168.8h0M357.7 184.5h0M342.9 182.3h0M334.2 198.5h0M342.8 172.9h0M311.8 190.2h0M345.9 194.6h0M354.0 168.3h0M321.5 163.5h0M320.8 161.1h0M343.7 166.5h0M340.0 180.7h0M339.0 202.2h0M326.1 174.2h0M332.2 152.8h0M315.0 180.4h0M337.3 170.9h0M312.4 181.9h0M319.0 179.2h0M356.2 182.1h0M348.7 172.6h0M328.7 178.5h0M340.0 181.3h0M327.5 184.3h0M332.3 168.2h0M342.1 197.4h0M343.4 177.1h0M344.1 169.4h0M328.2 176.5h0M358.1 184.5h0M327.5 192.5h0M355.9 174.6h0M345.7 177.8h0M340.5 159.2h0M361.9 177.0h0M328.3 159.2h0M347.9 167.0h0M313.9 196.8h0M361.2 171.8h0M321.6 197.5h0M355.8 165.5h0M339.4 167.1h0M324.8 164.5h0M335.9 155.3h0M319.9 189.5h0M355.5 164.3h0M360.4 167.9h0M348.9 150.3h0M355.1 165.1h0" stroke="#CF79B1"/>
<path d="M318.7 189.5h0M330.1 187.6h0M319.7 164.4h0M322.2 192.4h0M329.4 189.0h0M360.1 182.0h0M353.5 195.4h0M316.6 176.0h0M329.0 155.6h0M337.3 163.5h0M356.9 188.5h0M343.2 165.5h0M338.0 170.6h0M348.0 196.2h0M335.4 190.7h0M357.5 191.6h0M326.4 196.9h0M337.5 191.3h0M336.5 171.9h0M351.2 179.4h0M316.8 191.0h0M326.0 153.4h0M355.0 156.3h0M338.2 174.4h0M359.4 175.2h0M360.5 157.8h0M342.6 158.0h0M331.4 156.5h0M312.3 187.4h0M337.7 169.4h0M316.6 189.2h0M355.1 149.8h0M319.1 176.9h0M317.0 187.9h0M317.8 173.0h0M355.8 173.8h0M354.1 152.3h0M357.7 154.6h0M311.7 184.6h0M361.6 179.3h0M347.2 173.6h0M355.6 178.8h0M355.8 189.8h0M317.8 194.6h0M349.5 190.9h0M321.0 171.8h0M348.0 194.8h0M326.1 179.9h0M338.0 177.1h0M353.8 193.5h0M348.7 193.2h0M358.4 170.9h0M334.1 163.6h0M350.4 164.9h0M340.4 147.3h0M354.9 183.9h0M319.4 190.3h0M344.2 184.3h0M341.5 165.3h0M343.2 183.0h0M346.7 150.4h0M348.2 179.3h0M337.3 201.2h0M332.0 157.8h0M331.4 193.3h0M341.8 150.8h0M315.7 177.4h0M344.6 173.4h0M344.8 169.5h0M329.0 162.1h0M343.4 176.3h0M348.7 175.4h0M323.1 178.7h0M342.5 189.6h0M349.6 180.1h0M315.6 182.6h0M352.6 180.5h0M324.6 196.4h0M334.6 178.1h0M351.2 191.9h0M317.7 192.8h0M355.2 189.1h0M349.8 187.8h0M358.9 163.1h0M336.8 178.5h0M312.4 195.9h0M331.8 188.1h0M360.3 182.8h0M341.3 160.5h0M343.9 152.6h0M310.0 188.8h0M326.0 157.2h0M343.6 153.6h0M361.4 161.6h0M338.1 152.8h0M345.2 180.2h0M352.4 149.7h0M337.8 199.7h0M321.6 168.4h0M361.6 172.6h0M357.3 154.2h0M359.1 190.9h0M324.0 185.4h0M330.7 181.0h0M340.3 161.6h0M339.6 173.2h0M340.0 169.6h0M357.5 173.3h0M318.9 168.5h0M358.5 163.6h0M350.5 178.0h0M341.7 183.7h0M353.3 172.3h0M318.5 182.7h0M333.6 184.2h0M340.2 148.3h0M360.6 179.6h0M333.6 170.3h0M354.1 159.2h0M324.8 166.7h0" stroke="#CF79B1"/>
<path d="M328.2 199.5h0M355.0 153.5h0M356.1 174.4h0M360.4 168.6h0M316.2 199.8h0M336.9 188.7h0M344.4 152.3h0M355.2 173.8h0M343.1 157.2h0M314.9 184.9h0M325.1 186.5h0M328.7 182.3h0M319.1 178.7h0M338.2 180.9h0M321.5 185.0h0M345.1 184.5h0M322.4 179.6h0M336.0 193.8h0M337.8 181.0h0M333.1 198.6h0M330.2 182.0h0M327.7 172.4h0M351.7 155.2h0M323.3 183.8h0M335.1 195.6h0M353.3 185.2h0M356.7 156.1h0M347.7 181.2h0M342.6 157.6h0M357.7 191.7h0M350.2 194.7h0M345.8 172.0h0M350.6 172.5h0M340.0 182.1h0M320.8 161.1h0M357.6 182.8h0M342.7 154.5h0M339.8 190.1h0M345.8 165.6h0M317.9 170.2h0M352.3 185.0h0M344.0 185.9h0M319.2 184.2h0M331.8 151.3h0M329.9 163.3h0M348.1 149.9h0M361.6 181.5h0M321.2 158.9h0M322.4 175.3h0M349.9 148.3h0M342.8 161.6h0M354.6 153.9h0M325.0 192.6h0M353.8 173.6h0M324.6 196.0h0M335.9 195.8h0M347.5 177.8h0M356.2 192.5h0M359.9 179.8h0M346.3 187.7h0M325.3 166.2h0M338.9 152.9h0M347.2 179.2h0M334.2 184.0h0M324.9 163.6h0M336.0 152.7h0M340.0 147.4h0M351.9 188.8h0M317.8 189.9h0M338.0 186.6h0M352.6 181.6h0M359.2 186.0h0M324.7 162.0h0M351.9 180.9h0M356.8 176.2h0M343.6 189.0h0M361.6 174.1h0M330.3 176.6h0M328.5 170.2h0M343.1 173.7h0M353.0 190.2h0M336.3 169.2h0M355.2 157.2h0M338.5 186.8h0M325.3 166.0h0M351.1 168.1h0M319.9 174.9h0M326.2 152.2h0M336.9 165.2h0M330.8 163.1h0M324.6 171.8h0M322.7 168.2h0M342.6 172.1h0M321.6 195.8h0M321.8 160.1h0M325.8 192.9h0M339.8 157.4h0M336.3 180.5h0M336.7 174.7h0M334.1 179.7h0M360.5 180.5h0M318.9 180.1h0M312.7 193.2h0M329.1 182.8h0M351.2 187.9h0M326.8 192.5h0M359.9 165.0h0M354.6 190.5h0M325.8 184.1h0M343.9 153.0h0M323.6 178.1h0M359.2 159.4h0M354.4 180.5h0M346.9 153.6h0M320.5 172.3h0M360.0 168.5h0M359.1 189.0h0M342.3 190.9h0M334.1 151.2h0M351.1 164.1h0" stroke="#CF79B1"/>
<path d="M331.7 187.6h0M319.8 173.1h0M356.2 186.8h0M332.3 181.1h0M324.7 181.3h0M340.8 158.3h0M351.2 159.0h0M352.8 188.0h0M338.9 160.2h0M340.5 146.8h0M350.0 154.2h0M337.6 154.8h0M341.3 156.2h0M320.6 200.8h0M314.8 179.5h0M343.4 147.1h0M324.1 166.3h0M334.0 164.3h0M354.2 171.3h0M322.2 159.3h0M325.8 185.2h0M350.8 156.4h0M353.5 195.3h0M356.3 183.9h0M327.9 186.0h0M333.2 151.0h0M344.4 170.9h0M359.3 163.0h0M334.9 156.8h0M349.2 198.2h0M358.9 156.4h0M346.1 149.0h0M327.8 188.6h0M324.7 169.6h0M325.1 195.5h0M320.7 173.5h0M338.5 169.0h0M351.9 194.3h0M344.2 152.6h0M318.1 174.9h0M341.8 180.7h0M355.6 172.3h0M336.2 180.5h0M352.1 186.6h0M351.4 157.7h0M338.4 196.6h0M317.7 178.4h0M356.1 159.6h0M340.4 159.8h0M321.7 177.2h0M337.8 162.5h0M345.9 161.3h0M330.4 161.3h0M356.8 167.7h0M342.1 162.8h0M330.6 167.3h0M337.8 185.0h0M355.7 161.2h0M320.5 185.4h0M339.8 169.9h0M331.5 165.4h0M324.5 192.3h0M358.7 173.6h0M344.5 163.7h0M339.8 157.2h0M340.5 158.9h0M360.3 174.1h0M333.4 166.6h0M320.7 171.4h0M346.1 186.7h0M337.9 187.0h0M343.1 166.7h0M351.9 190.7h0M337.8 155.8h0M325.8 176.6h0M325.0 159.2h0M328.6 196.4h0M317.0 176.6h0M336.6 172.0h0M344.5 154.2h0M312.3 192.5h0M325.3 200.0h0M346.8 151.0h0M320.9 183.5h0M355.2 194.1h0M355.8 151.2h0M316.6 181.8h0M333.6 182.6h0M334.0 183.1h0M346.5 170.3h0M340.5 182.4h0M336.2 179.6h0M329.3 153.3h0M341.7 193.5h0M360.7 160.7h0M329.4 185.2h0M328.8 186.5h0M332.4 170.0h0M341.1 147.3h0M316.7 191.0h0M319.3 168.4h0M319.4 199.9h0M324.2 159.2h0M329.9 184.3h0M319.3 168.2h0M333.2 188.1h0M333.4 168.1h0M323.3 201.8h0M355.0 183.5h0M354.3 150.7h0M334.8 194.0h0M350.3 151.2h0M333.5 187.8h0M354.0 186.5h0M336.6 168.8h0M325.0 156.6h0M322.2 193.4h0M321.9 170.6h0M359.9 159.0h0M352.4 179.5h0" stroke="#CF79B1"/>
<path d="M321.5 201.2h0M320.6 166.1h0M325.0 158.5h0M314.8 183.0h0M333.9 197.0h0M351.9 192.4h0M320.9 188.7h0M322.7 194.0h0M320.8 179.3h0M348.1 169.3h0M349.4 186.7h0M346.8 161.3h0M318.9 166.1h0M327.6 165.1h0M324.6 153.9h0M355.9 190.5h0M357.1 169.5h0M349.7 151.0h0M338.3 184.0h0M325.9 159.6h0M337.4 172.7h0M334.7 151.1h0" stroke="#CF79B1"/>
<path d="M348.7 159.7h0M327.2 171.6h0M331.9 162.5h0M360.8 168.2h0M345.4 158.1h0M326.6 192.7h0M336.9 159.7h0M334.5 177.6h0M319.3 172.2h0M358.2 172.2h0M315.7 199.7h0M345.7 171.9h0M318.9 184.5h0M319.0 173.0h0M316.9 170.2h0M360.3 181.0h0M336.1 182.2h0M343.7 181.2h0M324.0 158.4h0M341.1 200.4h0M355.2 174.6h0M324.6 180.4h0M334.4 181.6h0M315.7 174.4h0M329.1 187.6h0M331.2 156.5h0M312.7 190.5h0M336.0 177.5h0M345.2 190.6h0M330.2 167.4h0M350.1 173.0h0M337.2 160.7h0M359.0 163.8h0M335.3 195.6h0M347.1 175.4h0M360.9 163.8h0M325.8 161.6h0M340.9 173.3h0M315.5 174.8h0M342.0 196.5h0M334.7 175.1h0M345.9 157.8h0M340.4 175.3h0M324.7 175.1h0M318.3 183.6h0M315.0 172.1h0M314.0 194.2h0M309.9 193.2h0M324.8 201.8h0M326.4 154.5h0M344.5 160.2h0M352.1 173.9h0M323.1 180.6h0M320.7 161.5h0M331.0 172.3h0M340.5 178.2h0M345.1 181.9h0M333.9 196.0h0M355.6 169.9h0M353.6 178.9h0M326.5 162.3h0M331.0 201.9h0M333.8 167.2h0M358.0 170.5h0M358.7 188.9h0M335.3 163.5h0M348.4 149.3h0M343.3 186.4h0M333.0 160.8h0M351.0 170.4h0M323.7 160.7h0M325.7 181.0h0M346.9 171.2h0M346.9 179.5h0M352.0 188.6h0M327.6 152.8h0M353.0 155.6h0M358.0 166.1h0M317.0 186.8h0M318.7 167.3h0M332.2 183.1h0M336.4 184.8h0M341.9 170.9h0M335.3 166.3h0M353.2 178.0h0M345.9 193.9h0M345.9 197.9h0M333.0 186.8h0M355.9 174.5h0M352.5 162.3h0M317.4 195.9h0M338.2 202.3h0M340.7 161.1h0M315.4 198.6h0M336.9 188.0h0M339.4 148.8h0M350.4 185.5h0M326.2 200.0h0" stroke="#E6A028"/>
<path d="M335.2 190.9h0M349.0 186.0h0M346.2 186.6h0M325.0 175.2h0M327.2 152.6h0M319.6 198.2h0M330.4 201.3h0M325.2 176.3h0M336.9 169.7h0M361.4 169.5h0M351.2 175.7h0M327.4 195.5h0M340.7 190.1h0M335.8 169.6h0M347.1 155.2h0M334.1 157.7h0M354.8 192.0h0M330.0 192.0h0M337.7 184.3h0M321.6 191.2h0M322.8 169.5h0M350.3 161.1h0M349.5 195.7h0M317.7 188.6h0M324.3 162.0h0M327.6 191.6h0M342.8 168.5h0M345.1 193.5h0M319.3 196.6h0M336.6 183.2h0M354.6 158.5h0M333.7 187.5h0M337.7 172.3h0M335.7 195.0h0M315.0 188.1h0M333.4 153.6h0M333.3 155.9h0M332.5 154.0h0M332.5 181.3h0M344.7 153.6h0M353.9 167.8h0M341.9 167.1h0M347.6 164.2h0M352.3 149.7h0M331.2 177.1h0M329.2 156.9h0M340.1 153.0h0M317.8 170.5h0M361.8 168.4h0M360.2 185.4h0M343.2 199.5h0M339.8 189.2h0M334.0 192.5h0M342.9 150.3h0M349.1 171.3h0M316.2 195.3h0M322.0 198.7h0M329.3 178.7h0M332.5 190.5h0M327.7 176.0h0M321.1 165.7h0M323.7 186.3h0M360.6 183.5h0M313.5 196.6h0M349.2 181.7h0M360.0 177.2h0M338.3 194.8h0M326.0 160.4h0M324.6 159.1h0M327.2 180.6h0M338.8 188.6h0M339.3 164.3h0M320.1 169.9h0M359.1 181.0h0M347.0 148.6h0M337.8 186.9h0M354.8 190.5h0M309.8 191.1h0M333.9 200.3h0M359.2 189.7h0M313.3 183.8h0M350.2 163.1h0M339.7 196.6h0M342.7 193.9h0M358.4 160.3h0M357.6 164.8h0M321.0 196.5h0M314.4 196.4h0M320.7 191.0h0M315.7 175.3h0M339.4 178.7h0M346.5 195.9h0M336.6 159.8h0M351.2 171.2h0M322.8 191.2h0M349.5 194.2h0M316.0 191.4h0M310.0 186.4h0M334.1 176.2h0M354.0 162.6h0M360.5 163.3h0M328.4 180.9h0M350.2 189.6h0M345.3 196.1h0M318.4 170.1h0M319.5 200.2h0M333.9 194.6h0M322.3 181.2h0M348.5 166.0h0M342.3 170.0h0M319.5 164.7h0M325.8 153.3h0M340.4 155.1h0M320.4 167.1h0M320.2 195.4h0M358.7 165.3h0M351.2 182.8h0M338.3 198.9h0M344.5 183.9h0M358.7 172.7h0" stroke="#E6A028"/>
<path d="M347.3 173.5h0M322.4 157.7h0M339.3 147.2h0M324.7 171.8h0M319.3 186.2h0M349.2 194.7h0M337.9 190.1h0M351.2 188.6h0M325.8 179.6h0M352.7 160.4h0M340.8 152.7h0M332.5 157.0h0M314.9 167.9h0M311.2 176.2h0M310.5 193.3h0M310.4 182.7h0M312.6 195.2h0M310.9 185.3h0M315.5 171.5h0M310.5 196.2h0M312.4 181.0h0M315.5 171.0h0M311.0 178.0h0M310.4 184.5h0M311.3 188.6h0M312.3 178.3h0M317.4 166.7h0M309.7 186.4h0M314.6 174.6h0M311.1 186.2h0M316.7 163.6h0M309.5 193.2h0M311.9 176.0h0M313.1 197.3h0M318.0 165.6h0M312.2 178.5h0M311.0 186.3h0M315.5 173.0h0M312.9 179.8h0M315.3 173.5h0M313.5 196.1h0M310.4 183.7h0M317.2 165.5h0M312.2 195.0h0M309.6 188.9h0M310.4 186.0h0M310.1 183.8h0M310.7 180.8h0M310.1 193.8h0M312.4 181.1h0M315.6 170.9h0M311.3 186.3h0M313.8 176.1h0M311.2 185.1h0M313.2 195.2h0M311.5 177.5h0M312.9 196.2h0M315.4 200.3h0M310.5 186.0h0M314.2 171.1h0M316.6 166.1h0M314.9 173.1h0M369.2 184.6h0M358.4 191.4h0M372.9 188.5h0M362.9 188.2h0M359.1 186.1h0M358.0 180.4h0M371.2 189.0h0M364.6 193.9h0M358.4 186.2h0M357.9 181.4h0M375.6 188.4h0M369.7 186.7h0M359.2 179.4h0M370.4 193.2h0M362.4 190.0h0M366.1 191.1h0M369.0 193.4h0M362.6 182.1h0M374.0 190.6h0M362.4 193.7h0M366.2 190.2h0M364.5 185.8h0M359.8 183.3h0" stroke="#E6A028"/>
<path d="M362.5 189.2h0M373.2 188.0h0M367.8 186.5h0M362.4 191.9h0M366.5 183.5h0M358.9 181.1h0M366.8 184.5h0M373.9 185.4h0M372.5 192.8h0M363.7 184.2h0M363.3 182.4h0M374.0 191.7h0M359.2 192.7h0M375.3 191.7h0M359.6 186.3h0M371.8 191.5h0M359.0 189.9h0" stroke="#CF79B1"/>
<path d="M355.7 189.0h0M360.4 187.9h0M364.6 186.8h0M365.1 189.9h0M363.7 181.2h0M364.3 180.4h0M360.3 190.7h0M357.9 189.5h0M362.8 191.4h0M374.7 190.5h0M364.2 193.2h0" stroke="#E9E83A"/>
<path d="M368.3 192.9h0M364.6 194.6h0M366.7 185.7h0M362.6 192.0h0M363.0 186.9h0" stroke="#16956D"/>
<path d="M364.2 181.6h0M376.7 190.1h0" stroke="#1E72B8"/>
<path d="M369.4 187.7h0M368.3 185.1h0M366.9 182.7h0M358.7 183.6h0M364.1 182.1h0M366.6 188.8h0M363.2 182.6h0M362.1 186.5h0M359.0 182.0h0M373.2 192.7h0M366.2 189.8h0M362.1 180.1h0M375.5 191.2h0M357.2 189.5h0M363.4 192.6h0M367.5 190.8h0M373.9 187.6h0M360.1 191.4h0M356.4 189.5h0M363.4 161.8h0M359.8 164.2h0M359.4 167.2h0M359.2 159.2h0M362.3 164.2h0M359.2 168.1h0M361.2 158.2h0M358.8 172.9h0" stroke="#E9E83A"/>
<path d="M367.1 188.5h0M362.6 186.6h0M362.3 188.3h0M372.6 187.0h0M365.5 185.9h0M375.3 191.9h0M360.7 193.8h0M358.3 180.6h0M376.1 188.8h0M375.5 191.5h0M358.8 171.0h0M360.5 176.3h0M363.3 165.2h0M359.1 176.0h0M361.4 158.8h0M363.0 177.6h0" stroke="#CF79B1"/>
<path d="M366.0 183.8h0M365.4 185.8h0M373.5 186.1h0M362.1 194.1h0M367.8 187.0h0M355.6 189.1h0M367.8 194.5h0M363.0 191.9h0M361.7 188.0h0M363.7 193.8h0M357.9 192.0h0M361.0 179.5h0M363.6 181.6h0M364.2 192.5h0M371.4 188.6h0M359.6 159.8h0M358.8 169.4h0M357.7 165.3h0M362.4 166.0h0M361.3 158.6h0M363.7 177.5h0M358.6 165.5h0M361.3 171.1h0M363.7 172.5h0M360.9 164.2h0M362.1 159.0h0M359.1 169.3h0M360.0 170.9h0" stroke="#E6A028"/>
<path d="M367.6 189.4h0M371.2 192.1h0M361.3 185.1h0M364.7 186.5h0M362.0 169.4h0M370.0 165.7h0M367.3 175.4h0M365.1 162.8h0M365.4 160.1h0M363.7 157.6h0M367.2 167.3h0M373.9 174.6h0M372.0 168.4h0M373.4 178.3h0M371.4 163.5h0M364.7 153.3h0M372.7 173.5h0M368.0 167.9h0M366.6 167.9h0M368.7 159.9h0M365.9 154.8h0M369.8 176.2h0M366.2 155.4h0M361.4 150.7h0M367.5 156.8h0M370.5 170.3h0M371.9 169.8h0M365.0 163.4h0M361.2 152.7h0M368.7 157.3h0M368.2 162.2h0M364.4 164.4h0M367.3 153.6h0M371.4 174.7h0M374.1 166.4h0M371.5 175.2h0M372.5 169.2h0M373.6 173.7h0M366.1 161.5h0M372.8 179.6h0M372.2 172.1h0M365.5 158.4h0M367.3 156.7h0" stroke="#1E72B8"/>
<path d="M359.9 184.9h0M364.1 183.2h0M361.3 179.5h0M357.6 186.8h0M364.2 170.1h0M363.2 161.9h0" stroke="#16956D"/>
<path d="M363.3 155.1h0M366.4 156.1h0M373.1 167.5h0M367.8 164.7h0M368.8 175.1h0M373.8 178.3h0M375.0 170.4h0M366.9 153.0h0M370.9 164.4h0M365.1 156.4h0M366.8 158.9h0M367.7 168.1h0M366.5 168.8h0M366.6 165.7h0M367.6 176.9h0M373.7 168.5h0M362.9 159.7h0M374.0 170.4h0M363.7 153.8h0M371.8 168.2h0M371.6 180.8h0M368.4 170.2h0M362.7 158.3h0M371.9 180.9h0M367.5 179.8h0M373.4 178.8h0M370.3 175.9h0M365.1 151.2h0M368.0 153.6h0M370.2 162.8h0M367.9 177.0h0M372.6 171.1h0M364.0 162.1h0M371.8 167.6h0M363.9 159.3h0M361.7 152.4h0M366.9 179.7h0M371.7 161.3h0M369.2 162.1h0M368.1 178.9h0M367.6 167.8h0M368.8 157.8h0M370.6 169.8h0M371.5 176.1h0M365.1 152.1h0M372.4 164.3h0M365.5 153.3h0M372.9 164.0h0M367.0 162.1h0M368.1 164.8h0M365.5 151.4h0M374.9 169.5h0M362.5 155.8h0M365.2 150.6h0M365.5 158.7h0M365.0 151.8h0M371.7 173.2h0M371.1 172.0h0M368.8 169.5h0M367.3 163.5h0M367.5 169.3h0M368.7 162.2h0M361.2 155.0h0M371.5 163.6h0M364.9 165.4h0M374.2 170.5h0M364.1 152.6h0M371.3 175.6h0M372.2 162.4h0M373.0 180.2h0M368.6 172.6h0M365.8 162.4h0M374.1 173.7h0M374.1 176.1h0M366.9 155.8h0M366.5 171.3h0M370.4 178.2h0M365.4 163.1h0M372.2 171.1h0M370.0 159.0h0M362.6 156.3h0M371.7 179.1h0M368.0 153.6h0M368.5 157.0h0M370.0 169.9h0M372.8 179.4h0M373.2 171.4h0M371.2 177.7h0M372.8 165.6h0M363.4 156.4h0M369.5 167.2h0M366.7 165.7h0M369.2 174.0h0M367.4 167.1h0M367.6 164.9h0M369.1 173.8h0M372.1 173.0h0M366.8 157.0h0M369.9 177.1h0M371.3 172.6h0M370.3 169.0h0M364.7 163.2h0M364.7 155.7h0M374.6 171.1h0M373.7 178.3h0M371.6 179.3h0M365.8 154.9h0M362.5 152.9h0M372.9 176.0h0M369.0 163.8h0M371.2 168.7h0M362.1 149.8h0M372.4 174.7h0M369.8 166.1h0M366.1 163.7h0M365.9 152.6h0M368.1 160.9h0M366.6 154.0h0M365.2 153.1h0M373.3 172.6h0" stroke="#1E72B8"/>
<path d="M365.2 170.6h0M370.0 163.9h0M368.3 164.3h0M366.5 168.1h0M366.3 159.1h0M366.6 174.9h0M374.7 172.6h0M367.9 152.6h0M362.0 150.9h0M364.7 162.8h0M368.6 171.2h0M369.6 175.9h0M365.9 170.6h0M363.7 156.9h0M364.4 162.6h0M369.4 175.3h0M372.1 163.5h0M374.1 171.1h0M366.6 159.2h0M372.9 174.2h0M363.5 153.8h0M368.7 163.7h0M373.8 172.7h0M365.2 154.4h0M364.8 152.2h0M372.9 167.4h0M370.0 170.0h0M372.0 176.5h0M364.2 153.2h0M367.1 176.2h0M363.4 154.6h0M365.7 160.9h0M365.4 160.0h0M367.7 169.4h0M371.9 167.5h0M366.1 177.2h0M366.9 163.1h0M367.8 152.2h0M374.0 175.2h0M362.3 156.4h0M370.3 167.2h0M366.5 162.7h0M361.3 151.7h0M364.0 150.4h0M364.0 156.0h0M365.7 168.8h0M375.1 172.4h0M372.6 167.7h0M371.7 170.0h0M365.8 163.6h0M364.6 154.0h0M366.0 159.8h0M368.5 174.4h0M372.2 172.1h0M362.3 158.2h0M369.9 160.9h0M368.8 165.8h0M366.9 168.8h0M370.6 174.6h0M365.8 174.8h0M368.0 168.1h0M367.8 160.8h0M363.4 154.9h0M370.9 160.2h0M367.7 161.1h0M369.6 164.6h0M369.6 172.1h0M369.0 175.1h0M364.9 157.0h0M367.3 175.1h0M367.3 178.6h0M365.0 156.6h0M367.4 175.1h0M368.8 168.6h0M367.9 180.9h0M369.5 160.6h0M371.7 168.2h0M366.7 152.5h0M367.4 164.8h0M371.5 171.6h0M367.6 154.8h0M362.7 151.5h0M369.4 158.9h0M371.2 172.4h0M373.2 171.9h0M373.2 165.5h0M371.2 179.6h0M363.6 150.3h0M374.3 178.4h0M373.1 169.5h0M369.1 158.0h0M373.3 179.2h0M373.9 202.4h0M371.7 199.3h0M375.6 200.9h0M376.9 194.2h0M373.1 192.4h0M374.0 201.3h0M372.4 201.6h0M372.1 196.6h0M375.3 200.7h0M373.1 200.1h0M376.4 200.5h0M372.1 201.4h0M376.1 198.1h0M372.7 199.7h0M370.6 199.9h0M373.3 200.1h0M374.7 195.3h0M372.5 197.0h0M371.1 194.1h0M375.1 193.3h0M377.4 197.3h0M372.6 193.1h0M372.2 195.8h0M371.1 194.7h0M375.6 202.6h0M375.1 195.9h0M371.4 198.8h0M375.5 203.0h0" stroke="#1E72B8"/>
<path d="M375.8 201.3h0M377.0 197.7h0M377.0 195.2h0M376.6 196.2h0M371.7 200.9h0M376.3 198.6h0M373.8 194.1h0M376.7 199.0h0M375.4 200.9h0M372.1 197.4h0M374.0 191.7h0M373.5 200.5h0M371.2 200.7h0M376.5 199.8h0M370.3 194.6h0M375.3 201.0h0M373.9 199.2h0M373.6 198.0h0M372.3 193.4h0M377.0 197.6h0M372.6 194.5h0M372.7 197.2h0M371.3 196.4h0M372.8 195.6h0M372.9 191.5h0M377.1 194.6h0M376.0 202.3h0M373.0 195.2h0M375.4 202.3h0M374.3 198.8h0M370.9 194.7h0M373.6 198.8h0M373.1 199.9h0M376.7 194.0h0M374.2 192.2h0M372.6 197.9h0M376.4 198.9h0M374.1 192.7h0M376.2 199.1h0M377.2 195.7h0M371.7 200.3h0M372.7 201.3h0" stroke="#1E72B8"/>
<path d="M360.5 149.0h0M362.0 148.5h0M361.0 150.5h0M363.0 149.5h0M362.5 151.5h0" stroke="#D81B35"/>
<path d="M382.8 190.2h0M384.7 183.3h0M383.7 184.1h0M384.7 183.4h0M395.7 180.8h0M394.0 178.3h0M388.0 188.6h0M395.4 178.4h0M394.8 183.5h0M376.8 189.5h0M397.7 184.6h0M388.4 191.6h0M392.7 181.6h0M399.8 176.7h0M387.0 183.0h0M381.4 192.4h0M382.3 185.1h0M377.6 190.9h0M391.8 180.9h0M383.9 185.6h0M384.4 189.8h0M396.7 174.1h0M394.0 180.7h0M393.3 179.2h0M388.9 184.9h0M391.6 189.5h0M385.9 188.9h0M380.4 191.0h0M388.5 190.5h0M397.6 182.2h0M395.0 178.6h0M397.4 171.1h0M395.3 172.3h0M389.8 181.1h0M394.0 181.7h0M383.1 192.7h0M389.3 181.4h0M388.2 186.6h0M384.8 184.7h0M382.3 186.9h0M395.5 181.9h0M398.5 178.6h0M385.2 187.9h0M394.9 179.2h0M386.9 183.8h0M396.7 171.3h0M386.2 192.3h0M382.5 191.6h0M391.1 182.5h0M378.1 188.7h0M396.7 174.1h0M380.2 190.6h0M392.5 179.5h0M381.9 192.9h0M384.4 187.2h0M391.7 178.1h0M399.9 178.8h0M382.4 189.1h0M387.7 185.5h0M392.6 188.8h0M396.9 183.2h0M392.8 185.9h0M382.2 187.4h0M384.6 187.6h0M389.7 182.9h0M390.1 186.1h0M393.7 176.6h0M391.7 182.5h0M387.8 181.5h0M396.0 178.5h0M394.8 183.3h0M397.7 170.8h0M397.8 182.6h0" stroke="#E9E83A"/>
<path d="M386.2 182.8h0M390.3 186.8h0M398.0 170.6h0M385.6 189.6h0M390.5 186.7h0M388.2 192.1h0M397.5 171.4h0M396.1 182.3h0M377.7 188.2h0M393.4 176.3h0M398.4 174.0h0M380.9 192.2h0M388.9 187.4h0M386.3 191.4h0M397.9 172.7h0M396.1 170.3h0M381.4 192.3h0M381.9 192.2h0M397.9 181.3h0M398.0 181.6h0M386.3 191.1h0M398.2 176.2h0M394.6 188.2h0M382.8 185.3h0M382.9 191.2h0M397.3 179.9h0M383.3 185.0h0M394.8 175.6h0M396.1 175.4h0M395.9 187.6h0M395.5 185.8h0M388.1 185.0h0M397.3 186.0h0M389.6 181.7h0M386.5 190.5h0M382.2 185.0h0M395.7 170.6h0M385.4 185.7h0M394.1 188.0h0M380.0 186.7h0M387.0 191.1h0M380.8 189.8h0M398.4 183.8h0M385.0 190.9h0M388.1 184.8h0M395.3 186.9h0M391.4 184.8h0M385.6 185.7h0M378.7 186.6h0M396.0 172.8h0M383.0 186.8h0M396.2 186.9h0M395.4 180.9h0M386.7 187.8h0M380.4 190.5h0M382.6 185.8h0M392.3 184.5h0M396.2 178.1h0M383.7 185.9h0M387.3 192.8h0M389.3 182.7h0M395.3 182.6h0M384.5 193.2h0M384.5 193.5h0M396.2 174.0h0M395.6 170.0h0M381.2 188.9h0M382.5 192.2h0M393.9 187.2h0M391.3 179.8h0M383.2 186.9h0M383.0 186.6h0M385.2 188.9h0M398.2 171.9h0M389.9 191.3h0M391.6 190.8h0M397.0 181.6h0M388.7 188.2h0M380.5 186.2h0M387.7 192.2h0M381.4 186.6h0M393.6 176.3h0M400.1 178.4h0M391.8 190.1h0M382.4 188.9h0M386.5 192.5h0M396.5 175.4h0M385.9 188.7h0M380.7 190.5h0M399.7 177.1h0M386.8 188.1h0M396.4 175.7h0M387.1 191.9h0M395.2 175.9h0M395.0 171.0h0M385.6 182.9h0M390.1 184.0h0M385.2 185.8h0M399.6 174.5h0M398.1 177.1h0M383.3 189.0h0M389.5 183.4h0M393.4 181.6h0M396.1 182.5h0M387.8 191.5h0M387.9 186.0h0M389.0 192.2h0M380.1 190.6h0M390.8 186.4h0M382.3 189.5h0M399.7 175.5h0M384.6 193.4h0M397.3 178.4h0M394.8 182.0h0M392.2 187.0h0M390.0 185.7h0M386.7 189.9h0M381.5 188.2h0M396.3 187.1h0M395.8 173.7h0" stroke="#E9E83A"/>
<path d="M393.1 189.4h0M393.5 183.5h0M384.8 192.1h0M392.8 181.4h0M394.6 184.1h0M397.1 185.2h0M394.7 175.3h0M399.0 183.2h0M396.7 184.4h0M389.6 183.9h0M380.8 193.0h0M394.0 189.1h0M389.0 180.5h0M384.6 191.8h0M394.8 180.8h0M392.7 189.7h0M389.0 186.1h0M380.6 190.0h0M394.8 176.2h0M384.4 192.2h0M382.5 186.3h0M398.4 175.9h0M395.2 176.2h0M380.3 186.1h0M397.0 172.1h0M383.4 188.5h0M383.6 191.4h0M380.5 190.9h0M398.5 176.7h0M396.5 184.9h0M391.0 186.4h0M383.9 184.7h0M385.9 187.2h0M381.9 192.5h0M394.8 171.6h0M395.1 173.5h0M395.6 177.1h0M399.6 176.9h0M390.3 184.0h0M399.8 179.6h0M395.8 180.6h0M394.2 172.6h0M393.1 187.0h0M398.2 179.2h0M387.2 183.7h0M385.1 186.5h0M397.8 182.0h0M384.0 188.4h0M388.1 190.3h0M390.4 180.0h0M382.0 185.1h0M396.6 184.5h0M389.7 180.4h0M390.5 183.2h0M398.6 180.0h0M388.9 185.6h0M379.0 192.1h0M378.3 186.9h0M383.3 188.8h0M378.6 186.8h0M382.2 188.8h0M391.4 178.1h0M388.1 182.4h0M382.0 193.0h0M389.6 185.1h0M396.2 171.2h0M389.3 192.2h0M396.4 150.2h0M407.7 155.1h0M395.7 164.7h0M396.0 169.0h0M398.0 147.3h0M395.4 163.0h0M396.9 148.7h0M394.7 165.4h0M400.2 147.6h0M405.6 150.1h0M409.2 163.6h0M403.2 150.7h0M408.5 158.5h0M395.5 157.5h0M398.2 146.0h0M402.5 149.5h0M395.6 161.3h0M400.6 146.4h0M409.3 159.4h0M408.6 155.7h0M409.3 161.1h0M405.4 152.5h0M404.6 151.6h0M395.3 156.7h0M402.2 148.7h0M395.8 150.0h0M404.3 148.9h0M400.5 146.8h0M405.8 151.6h0M395.6 167.3h0M394.6 154.3h0M396.1 167.9h0M398.3 145.9h0M395.3 166.9h0M395.5 148.6h0M400.5 147.1h0M402.8 147.3h0M395.3 169.7h0M395.0 169.9h0M396.6 151.2h0M400.2 146.1h0M396.0 162.9h0M395.6 158.7h0M395.2 152.8h0M396.0 152.1h0M395.3 152.4h0M396.5 152.5h0M408.5 165.4h0M407.5 154.9h0M406.1 153.9h0M409.8 165.9h0M395.0 169.9h0M406.3 152.5h0" stroke="#E9E83A"/>
<path d="M409.8 165.1h0M403.6 150.7h0M409.4 165.8h0M407.2 153.3h0M398.1 146.0h0M407.5 155.7h0M396.2 167.2h0M398.9 147.5h0M408.7 162.5h0M397.0 148.8h0M398.1 146.1h0M395.6 170.0h0M408.4 162.5h0M399.7 147.6h0M395.1 153.8h0M406.8 156.3h0M401.2 147.5h0M403.5 149.0h0M395.4 149.0h0M401.9 148.7h0M396.2 152.8h0M406.2 154.0h0M395.2 161.5h0M402.2 149.3h0M394.1 168.9h0M396.0 160.6h0M395.4 162.3h0M396.0 155.2h0M395.9 149.1h0M399.6 147.7h0M408.5 159.9h0M405.3 153.6h0M405.8 152.9h0M408.2 155.0h0M402.0 147.2h0M398.1 145.9h0M395.5 156.0h0M406.9 157.8h0M408.8 165.3h0M408.2 157.3h0M394.8 164.1h0M405.1 151.5h0M394.6 164.5h0M404.6 152.3h0M396.7 148.4h0M408.3 161.5h0M405.1 151.3h0M408.4 157.6h0M395.8 167.4h0M406.1 151.1h0M409.1 163.6h0M396.4 147.1h0M396.0 162.8h0M405.8 152.8h0M400.1 146.5h0M406.6 156.5h0M394.6 165.7h0M407.1 155.6h0M408.4 155.8h0M396.0 150.0h0M395.2 168.9h0M395.3 161.9h0M408.2 154.8h0M408.4 163.5h0M394.8 152.2h0M405.6 151.8h0M409.3 166.3h0M403.5 148.9h0M395.1 162.8h0M395.4 159.3h0M396.0 157.8h0M408.1 159.7h0M394.5 156.1h0M407.2 154.5h0M410.0 165.3h0M402.7 149.7h0M395.3 154.9h0M394.3 157.3h0M409.3 164.7h0M409.2 157.8h0M408.9 161.7h0M408.6 158.2h0M395.3 158.6h0M395.8 149.9h0M394.3 161.3h0M394.2 169.0h0M396.2 160.0h0M404.8 151.0h0M394.7 166.4h0M408.1 164.2h0M409.2 161.5h0M404.9 150.0h0M404.1 150.2h0M403.1 147.5h0M394.9 158.6h0M399.6 146.2h0M395.8 151.7h0M401.5 147.2h0M395.8 153.1h0M403.2 149.9h0M404.4 149.1h0M396.0 152.7h0M405.3 153.4h0M406.3 153.9h0M403.5 148.6h0M402.0 147.5h0M395.0 153.7h0M408.0 164.4h0M395.6 155.0h0M395.9 166.7h0M396.3 156.9h0M395.5 158.6h0M405.4 152.1h0M408.3 162.0h0M397.7 147.0h0M395.8 150.6h0M409.2 157.8h0" stroke="#E9E83A"/>
<path d="M423.7 173.2h0M419.6 179.3h0M424.7 184.4h0" stroke="#16956D"/>
<path d="M422.3 177.7h0M429.2 177.9h0M437.1 165.6h0M426.9 168.1h0M430.1 137.0h0M429.4 186.6h0M428.7 141.8h0M423.8 186.0h0M426.1 135.9h0M425.6 182.5h0M423.1 139.2h0M428.2 168.3h0M422.8 141.1h0M430.8 149.6h0M427.6 138.5h0M420.0 174.3h0M422.6 167.0h0M423.4 138.7h0M436.9 167.5h0M432.3 177.4h0M427.2 167.9h0M427.8 146.0h0M423.9 171.7h0M418.9 181.0h0M428.2 143.5h0M431.6 183.5h0M421.0 175.1h0M435.1 155.5h0M429.4 166.5h0M433.9 158.0h0M434.4 162.3h0M419.2 177.6h0M426.0 147.6h0M435.1 167.2h0M429.9 133.8h0M428.3 167.1h0M421.2 185.3h0M427.1 146.4h0M425.8 148.1h0M420.3 177.6h0M436.1 171.4h0M431.6 158.9h0M421.0 132.5h0M430.7 134.7h0M426.3 134.6h0M420.7 183.7h0M436.6 173.3h0M432.0 157.0h0M427.8 149.3h0M435.2 175.6h0M420.9 177.6h0M424.9 142.4h0M429.3 161.2h0M434.4 169.6h0M427.8 154.4h0M423.4 178.0h0M428.7 166.1h0M429.8 186.9h0M424.2 182.6h0M427.9 177.4h0M429.8 158.3h0M420.0 172.5h0M427.2 167.8h0M426.7 165.5h0M427.3 164.4h0M433.0 181.5h0M432.1 172.2h0M434.0 173.2h0M424.3 139.1h0M434.0 173.4h0M430.0 155.6h0M433.4 166.4h0M420.5 175.8h0M430.6 164.2h0M436.3 174.1h0M435.0 174.6h0M420.9 169.1h0M429.4 160.5h0M428.2 152.3h0M428.5 148.9h0M429.9 149.3h0M426.2 133.7h0M430.2 177.7h0M427.8 168.3h0M420.1 174.7h0M425.6 184.1h0M428.3 177.3h0M428.4 149.7h0M426.0 132.1h0M431.6 166.1h0M429.0 158.8h0M429.6 158.1h0M426.6 190.7h0M433.3 171.5h0M419.3 180.1h0M420.9 185.3h0M432.0 172.7h0M433.7 162.9h0M430.9 177.0h0M424.6 177.2h0M431.7 172.6h0M431.8 178.2h0M433.1 169.1h0M429.8 145.6h0M422.7 170.7h0M433.1 159.5h0M420.6 179.5h0M428.2 191.5h0M430.9 164.2h0M427.7 138.2h0M436.6 170.1h0M425.2 171.8h0M437.3 168.4h0M432.3 182.6h0M424.6 182.3h0M424.7 181.4h0M430.4 138.1h0M426.4 169.6h0M420.0 173.8h0M432.2 162.3h0" stroke="#16956D"/>
<path d="M429.4 168.8h0M428.5 141.6h0M426.3 189.8h0M434.7 179.0h0M433.2 180.6h0M428.5 180.4h0M431.4 153.9h0M434.6 176.6h0M426.3 191.0h0M437.8 166.9h0M425.3 136.2h0M426.4 136.0h0M422.0 183.3h0M433.0 152.6h0M431.6 172.3h0M421.2 137.5h0M432.5 157.7h0M424.0 178.2h0M430.7 171.7h0M426.7 135.1h0M432.7 176.3h0M418.8 180.4h0M430.0 145.8h0M422.8 173.7h0M424.3 182.2h0M423.2 185.0h0M436.8 163.7h0M418.0 178.7h0M420.6 169.8h0M424.6 183.7h0M430.1 154.9h0M421.5 168.3h0M427.7 172.3h0M419.8 169.3h0M427.4 181.3h0M434.3 167.5h0M429.4 183.2h0M422.6 167.9h0M428.2 178.8h0M427.4 138.4h0M427.7 150.4h0M420.4 170.2h0M427.8 189.5h0M434.1 182.0h0M428.5 165.9h0M428.7 171.7h0M431.3 179.0h0M419.2 177.0h0M426.6 179.8h0M424.7 137.4h0M434.0 173.9h0M432.0 177.8h0M428.5 146.9h0M417.7 176.9h0M437.6 166.7h0M428.7 148.0h0M436.2 168.0h0M437.0 165.9h0M430.5 175.9h0M436.9 160.6h0M425.9 181.0h0M423.6 174.0h0M425.9 178.0h0M428.7 154.2h0M435.6 157.5h0M419.3 173.1h0M424.5 175.0h0M432.4 164.5h0M431.7 183.7h0M429.5 153.8h0M418.9 179.8h0M429.4 181.1h0M427.1 164.6h0M423.9 169.8h0M435.1 155.5h0M424.5 177.1h0M427.9 166.9h0M431.4 181.1h0M430.5 146.1h0M433.6 177.9h0M425.7 182.6h0M425.5 140.5h0M418.1 173.6h0M426.9 141.1h0M426.9 175.4h0M431.3 168.4h0M429.1 148.0h0M424.8 187.5h0M427.4 148.3h0M427.2 137.8h0M429.3 187.9h0M420.6 137.9h0M430.5 159.9h0M430.4 165.2h0M436.0 160.4h0M432.5 178.4h0M425.6 188.7h0M432.5 162.3h0M426.7 135.0h0M433.1 151.4h0M431.9 163.7h0M425.6 175.7h0M422.4 173.4h0M426.1 189.4h0M436.0 157.8h0M424.5 139.8h0M421.0 133.0h0M431.7 185.7h0M423.4 133.5h0M429.7 153.1h0M431.6 175.0h0M427.4 177.7h0M434.6 166.7h0M429.9 136.7h0M429.1 148.8h0M435.3 163.3h0M435.9 167.9h0M428.1 183.9h0M421.7 137.7h0M437.5 171.8h0" stroke="#16956D"/>
<path d="M419.8 182.0h0M431.6 178.3h0M419.8 176.5h0M430.1 152.8h0M437.0 164.4h0M427.2 150.2h0M429.6 137.2h0M433.9 166.1h0M420.7 167.0h0M420.2 173.1h0M424.1 169.1h0M424.0 134.2h0M431.4 171.6h0M420.6 137.5h0M422.1 183.0h0M435.5 167.8h0M423.5 136.8h0M424.0 183.0h0M435.3 167.8h0M428.4 157.5h0M424.5 187.8h0M425.6 137.4h0M429.6 153.6h0M423.9 188.1h0M431.3 159.0h0M419.7 175.8h0M423.3 137.2h0M437.2 174.5h0M432.3 176.5h0M423.5 133.1h0M423.7 177.5h0M427.2 144.0h0M428.7 139.1h0M429.5 145.6h0M421.2 172.1h0M427.9 144.3h0M436.4 163.9h0M433.9 178.5h0M422.8 131.8h0M429.7 166.4h0M426.3 150.6h0M424.4 168.2h0M435.3 177.4h0M431.7 177.9h0M424.2 179.9h0M436.7 169.5h0M425.7 174.1h0M429.6 164.1h0M427.4 180.7h0M434.1 165.4h0M437.3 169.5h0M423.4 137.7h0M423.8 169.0h0M427.1 151.6h0M430.9 187.8h0M428.6 179.4h0M422.2 185.0h0M420.7 180.7h0M437.6 171.7h0M426.1 137.9h0M432.6 154.2h0M436.9 171.2h0M437.4 165.1h0M429.0 165.4h0M427.1 163.6h0M436.2 173.7h0M430.1 135.2h0M428.2 148.7h0M425.7 167.9h0M434.9 174.7h0M437.2 165.5h0M429.6 145.2h0M428.4 142.2h0M428.1 141.1h0M428.8 143.2h0M423.2 132.4h0M433.8 177.2h0M428.5 190.5h0M436.7 166.0h0M420.6 176.3h0M433.8 171.8h0M419.9 179.7h0M431.4 176.5h0M427.0 140.9h0M432.9 156.1h0M419.9 168.7h0M436.6 172.3h0M429.7 133.0h0M418.4 175.1h0M428.4 161.1h0M432.4 158.1h0M427.2 141.7h0M425.8 144.8h0M426.3 170.5h0M427.4 144.6h0M429.0 133.1h0M428.0 160.6h0M428.2 156.4h0M424.4 173.6h0M426.2 149.0h0M431.1 181.2h0M436.7 164.1h0M417.7 173.9h0M426.3 138.2h0M427.7 140.2h0M423.5 141.8h0M434.6 166.5h0M425.9 183.0h0M429.8 133.2h0M430.3 136.7h0M427.8 145.7h0M433.7 165.3h0M426.8 176.8h0M431.0 154.3h0M425.7 139.8h0M428.3 191.1h0M426.8 141.9h0M425.9 172.0h0M430.7 186.0h0M426.8 177.5h0" stroke="#16956D"/>
<path d="M433.6 157.3h0M419.1 169.6h0M430.6 159.8h0M427.5 148.9h0M437.1 168.8h0M428.9 133.1h0M422.4 173.3h0M427.4 143.3h0M431.6 157.1h0M426.8 183.4h0M428.6 179.2h0M426.0 165.3h0M436.4 163.9h0M421.0 134.0h0M425.8 144.8h0M434.1 155.7h0M427.5 135.3h0M427.2 148.5h0M422.7 185.3h0M435.4 161.7h0M422.5 132.6h0M431.7 166.5h0M432.6 177.9h0M424.4 179.0h0M432.1 178.3h0M430.4 155.7h0M428.1 185.2h0M420.1 168.1h0M436.5 174.6h0M431.5 161.1h0M433.9 162.8h0M429.3 133.7h0M429.6 164.9h0M430.8 171.7h0M430.6 184.8h0M425.0 178.3h0M428.7 185.2h0M432.7 185.0h0M429.4 143.1h0M432.0 172.8h0M437.6 166.9h0M434.6 180.2h0M423.9 179.9h0M431.9 151.1h0M431.8 178.6h0M428.0 163.5h0M421.5 135.3h0M418.6 179.0h0M435.5 159.1h0M428.7 166.5h0M436.9 165.0h0M430.1 151.7h0M429.3 188.6h0M432.0 173.9h0M427.6 176.6h0M428.5 143.3h0M425.0 140.1h0M421.4 138.0h0M427.3 135.0h0M426.6 139.4h0M427.3 138.8h0M434.5 177.1h0M429.2 175.2h0M436.6 163.5h0M429.3 183.9h0M422.6 172.9h0M422.1 137.2h0M433.7 176.9h0M428.7 163.6h0M434.2 175.6h0M421.1 136.9h0M428.1 160.8h0M426.6 175.0h0M429.1 156.4h0M428.3 135.0h0M424.4 188.0h0M430.2 147.0h0M422.2 175.2h0M432.6 154.4h0M426.7 175.8h0M430.1 187.8h0M428.5 151.3h0M426.2 184.4h0M427.6 175.4h0M428.0 185.7h0M434.1 172.2h0M426.5 139.2h0M430.5 183.8h0M425.3 173.5h0M429.8 185.5h0M425.1 133.0h0M430.2 133.7h0M427.8 182.4h0M429.6 183.8h0M431.6 148.9h0M429.3 175.9h0M428.0 148.7h0M432.0 158.1h0M431.2 151.9h0M427.8 179.4h0M423.5 136.5h0M428.1 147.6h0M423.2 170.7h0M428.3 156.7h0M429.2 150.8h0M436.5 160.8h0M421.0 139.0h0M427.3 183.7h0M433.8 162.4h0M431.6 148.5h0M426.5 138.1h0M427.8 152.3h0M430.4 158.3h0M426.6 149.4h0M435.4 159.2h0M435.1 171.5h0M424.2 167.7h0M418.5 170.2h0M431.1 152.2h0M424.3 179.0h0" stroke="#16956D"/>
<path d="M429.2 182.3h0M434.2 154.3h0M422.6 177.9h0M437.0 170.8h0M426.3 189.3h0M428.4 138.3h0M424.0 141.8h0M423.2 140.1h0M431.4 178.0h0M434.2 161.6h0M420.3 177.3h0M434.6 174.2h0M429.4 147.1h0M425.4 190.3h0M430.0 134.2h0M426.4 165.0h0M431.8 163.2h0M421.8 172.1h0M427.9 171.4h0M424.6 134.3h0M434.7 167.3h0M434.6 172.9h0M421.1 175.4h0M434.3 157.3h0M433.0 154.8h0M419.1 177.5h0M425.4 173.0h0M418.1 176.6h0M425.1 133.4h0M429.9 146.6h0M426.2 168.2h0M420.9 167.6h0M430.7 183.0h0M434.4 177.4h0M429.6 133.9h0M436.1 170.3h0M429.9 152.7h0M436.3 158.9h0M425.6 185.3h0M427.5 150.7h0M430.2 173.9h0M418.2 176.5h0M424.7 138.3h0M428.0 165.3h0M437.9 166.3h0M429.9 157.9h0M422.7 182.3h0M430.2 190.7h0M424.0 139.3h0" stroke="#16956D"/>
<path d="M302.7,7.5 V213.5 H443.5" fill="none" stroke="#000" stroke-width="1.1"/>
<line x1="299.5" y1="33.4" x2="302.7" y2="33.4" stroke="#333" stroke-width="1"/>
<text x="296.10" y="36.00" font-size="8.6" text-anchor="end" fill="#3c3c3c" font-weight="normal"  stroke="#3c3c3c" stroke-width="0.22">20</text>
<line x1="299.5" y1="92.5" x2="302.7" y2="92.5" stroke="#333" stroke-width="1"/>
<text x="296.10" y="95.10" font-size="8.6" text-anchor="end" fill="#3c3c3c" font-weight="normal"  stroke="#3c3c3c" stroke-width="0.22">10</text>
<line x1="299.5" y1="151.5" x2="302.7" y2="151.5" stroke="#333" stroke-width="1"/>
<text x="296.10" y="154.10" font-size="8.6" text-anchor="end" fill="#3c3c3c" font-weight="normal"  stroke="#3c3c3c" stroke-width="0.22">0</text>
<line x1="299.5" y1="210.6" x2="302.7" y2="210.6" stroke="#333" stroke-width="1"/>
<text x="296.10" y="213.20" font-size="8.6" text-anchor="end" fill="#3c3c3c" font-weight="normal"  stroke="#3c3c3c" stroke-width="0.22">−10</text>
<line x1="320.9" y1="213.5" x2="320.9" y2="216.7" stroke="#333" stroke-width="1"/>
<text x="320.90" y="228.10" font-size="8.6" text-anchor="middle" fill="#3c3c3c" font-weight="normal"  stroke="#3c3c3c" stroke-width="0.22">−10</text>
<line x1="357.8" y1="213.5" x2="357.8" y2="216.7" stroke="#333" stroke-width="1"/>
<text x="357.80" y="228.10" font-size="8.6" text-anchor="middle" fill="#3c3c3c" font-weight="normal"  stroke="#3c3c3c" stroke-width="0.22">0</text>
<line x1="394.7" y1="213.5" x2="394.7" y2="216.7" stroke="#333" stroke-width="1"/>
<text x="394.70" y="228.10" font-size="8.6" text-anchor="middle" fill="#3c3c3c" font-weight="normal"  stroke="#3c3c3c" stroke-width="0.22">10</text>
<line x1="431.4" y1="213.5" x2="431.4" y2="216.7" stroke="#333" stroke-width="1"/>
<text x="431.40" y="228.10" font-size="8.6" text-anchor="middle" fill="#3c3c3c" font-weight="normal"  stroke="#3c3c3c" stroke-width="0.22">20</text>
<text x="373.20" y="241.90" font-size="10.5" text-anchor="middle" fill="#1a1a1a" stroke="#1a1a1a" stroke-width="0.38" word-spacing="1.3" textLength="22.6" lengthAdjust="spacingAndGlyphs">UMAP1</text>
<text transform="translate(275.80,110.60) rotate(-90)" x="0" y="0" font-size="10.5" text-anchor="middle" fill="#1a1a1a" stroke="#1a1a1a" stroke-width="0.38" word-spacing="1.3" textLength="22.8" lengthAdjust="spacingAndGlyphs">UMAP2</text>
<text x="447.90" y="88.20" font-size="7.8" text-anchor="start" fill="#1a1a1a" font-weight="normal"  stroke="#1a1a1a" stroke-width="0.22">Superpopulation</text>
<circle cx="452" cy="98.00" r="1.45" fill="#D6622A"/>
<text x="457.60" y="100.70" font-size="7.8" text-anchor="start" fill="#1a1a1a" font-weight="normal"  stroke="#1a1a1a" stroke-width="0.22">AFR</text>
<circle cx="452" cy="107.67" r="1.45" fill="#E9E83A"/>
<text x="457.60" y="110.37" font-size="7.8" text-anchor="start" fill="#1a1a1a" font-weight="normal"  stroke="#1a1a1a" stroke-width="0.22">AMR</text>
<circle cx="452" cy="117.34" r="1.45" fill="#16956D"/>
<text x="457.60" y="120.04" font-size="7.8" text-anchor="start" fill="#1a1a1a" font-weight="normal"  stroke="#1a1a1a" stroke-width="0.22">EAS</text>
<circle cx="452" cy="127.01" r="1.45" fill="#1E72B8"/>
<text x="457.60" y="129.71" font-size="7.8" text-anchor="start" fill="#1a1a1a" font-weight="normal"  stroke="#1a1a1a" stroke-width="0.22">EUR</text>
<circle cx="452" cy="136.68" r="1.45" fill="#52A9E1"/>
<text x="457.60" y="139.38" font-size="7.8" text-anchor="start" fill="#1a1a1a" font-weight="normal"  stroke="#1a1a1a" stroke-width="0.22">SAS</text>
<circle cx="452" cy="146.35" r="1.45" fill="#E6A028"/>
<text x="457.60" y="149.05" font-size="7.8" text-anchor="start" fill="#1a1a1a" font-weight="normal"  stroke="#1a1a1a" stroke-width="0.22">CaG</text>
<circle cx="452" cy="156.02" r="1.45" fill="#CF79B1"/>
<text x="457.60" y="158.72" font-size="7.8" text-anchor="start" fill="#1a1a1a" font-weight="normal"  stroke="#1a1a1a" stroke-width="0.22">Leu</text>
<circle cx="452" cy="165.69" r="1.45" fill="#D81B35"/>
<text x="457.60" y="168.39" font-size="7.8" text-anchor="start" fill="#1a1a1a" font-weight="normal"  stroke="#1a1a1a" stroke-width="0.22">Outlier sample</text>
<text x="17.20" y="272.00" font-size="12.2" text-anchor="start" fill="#000" font-weight="bold" stroke="#000" stroke-width="0.3">C</text>
<path d="M159.9 410.6h0M83.7 436.3h0M71.4 416.8h0M113.6 418.4h0M98.6 438.6h0M83.7 438.6h0M74.0 435.4h0M86.3 434.2h0M79.1 426.4h0M88.3 418.9h0M81.5 423.6h0M125.4 428.8h0M142.0 422.7h0M82.9 420.6h0M102.8 420.8h0M71.2 434.1h0M104.7 428.5h0M74.6 436.7h0M73.3 439.1h0M90.1 427.8h0M75.2 429.9h0M101.2 424.3h0M83.0 428.6h0M124.2 412.1h0M90.8 430.1h0M72.3 430.8h0M122.6 419.1h0M80.8 435.5h0M149.5 416.6h0M139.1 425.3h0M74.0 425.6h0M167.3 417.3h0M112.4 421.2h0" stroke="#ECE23C" stroke-width="2.50"/>
<path d="M105.1 411.1h0M77.5 421.1h0M86.6 427.0h0M112.9 420.1h0M78.2 434.0h0M129.8 431.7h0M107.3 413.9h0M146.6 417.7h0M96.5 434.7h0M153.1 414.4h0M138.5 409.9h0M142.0 419.3h0M90.1 429.1h0M76.8 418.8h0M79.9 434.6h0M133.4 427.5h0M70.1 425.6h0M171.7 416.1h0" stroke="#1E9B6E" stroke-width="2.50"/>
<path d="M76.7 422.4h0M102.9 428.4h0M103.3 420.3h0M75.4 412.2h0M131.2 417.8h0M111.1 414.3h0M132.3 407.3h0M126.6 415.5h0M71.4 434.8h0M127.6 421.1h0M127.6 431.8h0M70.6 428.6h0M142.4 411.9h0M142.2 415.3h0M167.1 413.1h0M75.0 422.0h0M83.8 429.4h0M112.3 427.4h0M82.8 425.4h0M70.4 420.7h0M140.2 419.9h0M115.3 422.4h0M134.3 419.2h0M169.3 414.7h0M89.0 426.2h0M96.4 422.3h0M89.5 425.1h0M82.4 428.2h0M95.5 429.6h0M114.3 432.5h0M83.7 425.5h0" stroke="#D07A30" stroke-width="2.50"/>
<path d="M127.1 431.1h0M125.9 423.5h0M98.7 418.2h0M105.6 428.9h0M79.2 431.2h0M144.8 414.7h0M171.2 416.4h0M125.7 431.5h0M112.2 417.7h0M124.9 429.4h0M143.9 411.8h0M117.1 422.9h0M144.8 411.6h0M126.1 428.1h0M139.5 420.4h0M146.6 418.2h0M139.8 417.6h0M169.8 411.3h0M94.5 416.6h0M128.9 407.3h0M123.4 428.8h0M172.5 411.8h0M162.8 414.0h0M146.0 416.9h0M127.8 410.6h0M111.0 414.0h0M125.2 414.2h0M91.0 420.8h0M171.0 414.7h0M73.5 440.3h0M135.4 416.3h0M130.2 419.7h0M70.0 430.9h0" stroke="#1F70B6" stroke-width="2.50"/>
<path d="M104.4 416.2h0M89.1 434.5h0M86.7 433.6h0M139.5 420.0h0M130.5 416.9h0" stroke="#CF79B1" stroke-width="2.50"/>
<path d="M74.6 437.6h0M76.5 434.0h0M167.0 410.3h0M124.5 427.7h0M94.4 421.3h0M143.1 412.7h0M109.4 425.5h0M141.8 407.1h0M87.8 419.2h0M114.5 427.0h0M127.5 420.7h0M129.3 424.1h0M82.2 439.2h0M89.1 432.2h0M111.1 420.1h0M160.1 413.2h0M127.0 428.0h0M79.3 438.6h0M115.6 425.9h0M99.2 410.1h0M70.6 436.8h0M143.1 427.8h0M81.3 430.7h0M96.0 427.9h0M72.7 436.5h0M149.3 421.8h0M74.0 435.7h0M151.0 423.9h0M70.2 423.0h0M71.6 431.6h0M147.8 418.4h0M71.3 425.2h0M72.1 423.3h0" stroke="#D07A30" stroke-width="2.50"/>
<path d="M126.6 420.7h0M71.7 430.9h0M143.1 421.1h0M77.9 437.2h0M94.0 427.0h0M138.9 417.9h0M72.1 421.3h0M79.6 425.3h0M120.8 419.0h0M161.0 410.9h0" stroke="#CF79B1" stroke-width="2.50"/>
<path d="M122.1 415.5h0M137.5 427.7h0M75.0 430.3h0M174.7 410.9h0M91.7 422.3h0M103.6 420.0h0M140.9 419.2h0M162.4 420.7h0M71.2 436.7h0M116.9 409.6h0M116.0 428.3h0M131.0 423.1h0M122.3 428.6h0M107.4 426.6h0M168.0 412.3h0M156.2 413.0h0M159.0 418.9h0M94.6 430.9h0M132.6 416.5h0M153.9 414.5h0M164.1 412.4h0M166.0 419.7h0M117.1 413.5h0M70.8 424.8h0M155.2 413.8h0M124.9 412.6h0M141.1 411.3h0M141.1 411.9h0M125.2 414.9h0M153.4 416.1h0M169.8 414.3h0M84.8 427.7h0M90.2 430.0h0M175.5 415.1h0M79.0 411.3h0M140.3 412.0h0M155.1 413.2h0M131.3 421.5h0M98.3 426.8h0M122.1 415.8h0" stroke="#1F70B6" stroke-width="2.50"/>
<path d="M74.5 428.6h0M97.6 418.1h0M101.6 418.9h0M71.7 432.1h0M174.7 414.2h0M73.6 421.9h0M111.1 421.2h0M114.8 422.6h0M149.6 413.5h0M71.4 419.3h0M72.5 427.6h0M149.5 416.2h0M130.6 423.2h0M98.7 421.5h0M91.7 424.7h0M79.9 431.0h0M70.4 429.8h0M111.7 414.4h0M80.6 434.0h0M78.3 423.7h0M90.9 430.7h0M118.7 422.3h0M139.1 415.5h0M70.7 435.7h0M158.0 414.5h0M101.4 438.9h0M79.1 426.6h0" stroke="#ECE23C" stroke-width="2.50"/>
<path d="M74.4 424.4h0M153.0 413.7h0M142.8 417.9h0M116.9 409.0h0M75.8 426.5h0M70.6 429.8h0M134.5 428.2h0M145.8 414.9h0M109.8 420.5h0M147.6 411.7h0" stroke="#1E9B6E" stroke-width="2.50"/>
<path d="M162.2 415.8h0M144.8 415.7h0M109.9 426.2h0M94.4 421.3h0M137.2 420.2h0M147.3 416.0h0M123.0 419.3h0M167.4 415.7h0M165.1 415.2h0M113.4 418.2h0M137.1 415.0h0M168.4 416.7h0M103.3 425.7h0M110.7 418.9h0M118.5 421.0h0M71.3 433.3h0M96.6 430.2h0M140.3 425.2h0M132.8 416.1h0M141.6 420.8h0M71.3 433.0h0M176.1 409.9h0M117.3 427.3h0M123.9 418.2h0M174.9 409.0h0M148.0 420.5h0M159.3 415.4h0M96.6 428.2h0M154.9 417.9h0M122.9 416.6h0" stroke="#1F70B6" stroke-width="2.50"/>
<path d="M114.5 411.6h0M128.0 422.0h0M165.9 416.2h0M78.9 426.7h0M127.7 423.5h0M100.9 431.3h0M102.3 421.0h0M164.1 416.7h0M86.7 430.5h0M74.3 420.9h0M81.3 435.2h0M116.5 418.3h0M175.2 408.0h0M95.0 412.2h0M154.9 409.4h0M142.4 426.7h0M94.4 416.5h0M103.7 436.4h0M122.2 412.9h0M80.0 424.8h0M81.7 429.5h0M163.1 419.3h0M75.2 433.2h0M166.6 412.3h0M132.1 415.3h0M146.0 420.1h0M109.3 417.2h0" stroke="#ECE23C" stroke-width="2.50"/>
<path d="M81.7 425.8h0M148.5 415.7h0M143.3 416.8h0M113.0 420.4h0M113.7 422.3h0M114.3 427.5h0M91.4 412.5h0M131.7 414.3h0M156.2 411.5h0M120.2 415.5h0M102.7 434.6h0M173.8 411.1h0M77.8 424.3h0M78.4 431.6h0M87.3 444.0h0M83.9 424.3h0M95.6 438.7h0M160.9 419.1h0M70.1 428.6h0M119.6 424.3h0M154.8 421.3h0M70.1 427.6h0M153.4 420.9h0M89.8 412.5h0M73.9 427.2h0M95.3 430.5h0M114.0 413.8h0M135.3 420.3h0M73.2 413.8h0M152.9 417.1h0M107.3 417.1h0M82.5 431.9h0M98.3 419.4h0M74.3 428.4h0M150.3 423.8h0M72.9 421.6h0M125.1 420.8h0" stroke="#D07A30" stroke-width="2.50"/>
<path d="M101.5 420.1h0M168.7 417.6h0M100.0 431.2h0M102.6 437.3h0M101.7 421.0h0M95.0 413.5h0M103.1 434.7h0" stroke="#CF79B1" stroke-width="2.50"/>
<path d="M95.7 408.0h0M133.6 415.2h0M76.2 436.7h0M81.3 410.7h0M115.2 423.6h0M123.9 415.2h0M121.5 425.1h0M146.3 410.5h0M115.0 424.5h0M173.4 415.3h0M97.8 418.5h0M171.8 413.5h0M118.9 418.7h0M122.1 413.9h0M120.5 425.5h0M120.5 416.4h0M159.2 418.3h0M73.4 437.6h0M143.7 418.2h0" stroke="#1E9B6E" stroke-width="2.50"/>
<path d="M95.7 436.6h0M176.0 413.1h0M106.0 422.8h0M119.8 429.2h0M82.8 428.6h0M144.3 416.8h0M89.0 419.5h0M166.8 414.3h0M123.3 410.9h0M148.3 415.9h0M86.4 420.5h0M117.6 409.5h0M116.8 414.1h0M160.6 419.1h0M141.8 418.0h0M116.4 425.0h0M129.7 411.5h0M140.6 422.4h0M116.4 407.3h0M85.0 402.0h0M82.3 416.7h0M71.8 419.0h0M66.7 432.3h0" stroke="#1F70B6" stroke-width="2.50"/>
<path d="M100.2 417.4h0M73.5 437.5h0M73.6 435.9h0M167.5 411.8h0M170.7 413.5h0M79.1 422.5h0M127.7 411.8h0M136.5 416.8h0M131.3 424.9h0M158.0 423.5h0M77.5 425.6h0M170.9 416.3h0M71.2 412.0h0M172.3 411.5h0M95.0 423.4h0M186.0 418.6h0M101.0 398.0h0M68.2 437.4h0M70.2 408.3h0M65.4 435.0h0M85.8 410.6h0M70.8 454.1h0M68.7 429.5h0M75.3 447.7h0M80.2 415.4h0M75.9 448.1h0" stroke="#D07A30" stroke-width="2.50"/>
<path d="M166.0 412.1h0M75.9 438.9h0M71.6 442.5h0M97.6 431.3h0M111.8 431.1h0M75.5 416.1h0M63.5 413.2h0M77.5 412.1h0M65.3 409.7h0M61.7 406.3h0M74.4 445.6h0" stroke="#CF79B1" stroke-width="2.50"/>
<path d="M94.4 418.4h0M76.3 409.0h0M71.2 427.0h0M148.5 413.8h0M159.8 416.9h0M91.1 419.1h0M113.9 417.4h0M145.2 416.9h0M75.2 422.8h0M82.1 415.8h0M111.7 412.8h0M83.9 436.6h0M142.0 413.4h0M99.7 432.3h0M101.5 419.7h0M117.2 411.3h0M177.5 408.3h0M59.8 428.4h0M54.8 426.6h0M80.3 408.6h0M62.2 445.6h0M59.9 443.0h0M73.5 409.8h0M68.2 432.2h0M80.2 439.9h0M80.1 411.3h0M64.6 432.8h0M64.1 444.9h0M61.4 429.5h0M86.5 419.5h0M71.8 449.7h0M66.9 419.2h0M63.8 435.9h0M63.2 422.8h0M57.1 432.1h0M85.0 412.9h0M61.5 443.1h0M61.0 413.5h0M69.0 451.3h0M74.4 405.1h0M80.2 428.4h0M69.6 421.3h0M80.5 418.3h0M71.5 425.0h0M57.8 411.6h0M79.4 415.0h0M63.0 443.5h0" stroke="#ECE23C" stroke-width="2.50"/>
<path d="M77.4 409.8h0M156.3 416.9h0M72.5 435.2h0M114.4 423.8h0M172.6 412.4h0M113.5 425.9h0M183.0 414.8h0M80.4 419.5h0M87.6 417.7h0M68.3 421.8h0M57.6 433.3h0" stroke="#1E9B6E" stroke-width="2.50"/>
<path d="M64.0 439.3h0M57.6 425.8h0" stroke="#D81B35" stroke-width="2.50"/>
<path d="M72.2 438.1h0M72.0 408.4h0M73.5 433.9h0M61.2 446.8h0M87.7 422.1h0M79.1 429.4h0M72.1 414.9h0M62.1 439.5h0M87.7 419.0h0M66.2 430.3h0M69.1 423.5h0M69.2 423.3h0M75.6 417.2h0M76.8 438.8h0M70.0 425.5h0M69.5 404.7h0M64.2 418.9h0M64.6 435.6h0M86.7 418.0h0M72.7 451.6h0M74.9 429.2h0M67.2 439.7h0M60.0 422.4h0M69.7 450.1h0M60.3 450.7h0M57.4 441.1h0M59.8 434.3h0M70.6 452.9h0M76.0 413.4h0M87.0 420.8h0M68.4 414.5h0M74.5 432.6h0M73.8 420.9h0M68.1 407.4h0M59.8 411.0h0M74.9 428.4h0M81.5 417.6h0M79.0 417.3h0M73.9 428.6h0M69.3 442.3h0M67.5 424.8h0M66.5 410.5h0M67.9 422.3h0M80.6 428.4h0M76.1 411.4h0M56.6 419.8h0M60.9 440.3h0M77.1 415.1h0M68.2 455.5h0M57.7 439.4h0M82.0 436.1h0M72.2 412.5h0M65.6 449.1h0M75.6 421.1h0M60.2 438.2h0M84.4 433.0h0M54.9 427.9h0M73.9 436.5h0M65.6 427.9h0M64.4 418.9h0M68.6 452.3h0M59.0 440.7h0M73.1 419.4h0M78.1 419.3h0M78.8 407.4h0" stroke="#ECE23C" stroke-width="2.50"/>
<path d="M67.6 451.6h0M60.3 425.4h0M71.6 418.4h0" stroke="#D81B35" stroke-width="2.50"/>
<path d="M80.7 426.4h0M63.4 436.8h0M68.1 413.2h0M54.9 418.8h0M64.4 437.0h0M69.0 404.8h0M86.6 424.3h0M61.8 433.8h0M72.4 442.7h0M83.2 427.3h0M66.9 415.5h0M59.1 410.8h0M63.7 424.7h0M70.5 421.9h0M58.2 427.9h0M66.3 404.8h0M60.5 445.7h0M81.7 411.0h0M59.9 444.1h0M75.3 436.4h0M60.7 439.7h0M86.2 415.8h0M64.4 453.5h0M85.0 413.0h0M69.1 416.5h0M83.2 422.7h0M66.0 446.4h0M65.8 430.7h0M69.1 444.4h0M80.2 439.5h0M64.3 454.6h0" stroke="#D07A30" stroke-width="2.50"/>
<path d="M73.4 431.1h0M78.8 435.6h0M67.7 426.5h0M67.8 436.5h0M62.7 451.4h0M71.0 416.3h0M86.8 414.1h0M75.3 417.7h0" stroke="#1E9B6E" stroke-width="2.50"/>
<path d="M55.3 419.3h0M72.8 429.9h0M61.6 416.7h0M67.9 422.6h0" stroke="#1F70B6" stroke-width="2.50"/>
<path d="M81.6 439.3h0M71.4 411.2h0M72.4 413.1h0M79.0 442.0h0M77.5 425.0h0M74.3 406.4h0M65.9 432.4h0M71.1 414.3h0M78.0 422.2h0" stroke="#CF79B1" stroke-width="2.50"/>
<path d="M78.1 437.2h0M72.9 416.7h0M87.2 420.2h0M74.2 412.3h0M54.7 418.0h0" stroke="#D81B35" stroke-width="2.50"/>
<path d="M63.9 439.1h0M80.0 428.9h0M75.7 428.5h0M71.5 425.3h0M67.8 433.9h0M61.6 405.8h0M66.4 418.0h0M63.7 444.6h0M65.7 434.3h0M65.1 445.7h0M85.5 419.4h0M88.2 427.0h0M63.2 437.4h0M55.6 428.0h0M63.2 420.1h0M68.7 410.1h0M82.3 411.6h0M58.9 424.5h0M67.1 453.7h0M67.8 420.9h0M61.5 439.9h0M75.3 437.7h0M73.5 405.4h0M71.3 445.7h0M81.5 422.6h0M78.5 421.5h0M56.4 405.2h0M57.7 436.0h0M72.6 435.4h0M74.4 432.6h0M65.4 422.7h0M82.1 412.6h0M72.0 422.8h0M73.3 438.8h0" stroke="#D07A30" stroke-width="2.50"/>
<path d="M76.8 411.5h0M67.3 423.2h0M73.9 445.4h0M68.0 439.0h0M80.0 441.7h0M68.7 429.6h0M60.1 433.4h0M77.5 443.4h0M72.2 420.0h0M62.5 431.0h0M59.9 428.8h0M64.9 449.6h0M56.3 408.0h0M66.5 410.1h0M60.3 447.9h0M72.6 426.3h0M72.4 427.8h0M80.3 417.2h0M80.9 426.3h0M61.3 447.5h0M60.6 452.2h0M71.4 432.6h0M82.6 426.4h0M66.1 432.4h0M77.0 440.7h0M71.6 445.4h0M61.2 440.7h0M55.0 408.6h0M68.9 418.5h0M67.2 433.6h0M55.7 421.4h0M72.1 426.2h0M56.4 420.9h0M74.9 411.1h0M56.3 432.3h0M56.5 422.1h0M64.8 451.1h0M83.5 418.0h0M78.8 439.7h0M67.9 409.9h0M82.1 412.9h0M67.5 439.2h0M75.4 422.6h0M71.4 436.1h0M59.0 414.7h0M83.8 413.1h0M63.0 439.3h0M76.9 430.0h0M69.1 419.2h0M54.7 405.4h0M57.0 415.4h0M82.7 419.6h0M80.0 440.3h0M69.1 417.1h0M57.7 441.2h0M87.0 422.3h0M76.9 413.0h0M73.9 420.9h0M59.2 437.7h0M61.1 444.9h0M61.9 408.1h0M60.0 412.6h0" stroke="#ECE23C" stroke-width="2.50"/>
<path d="M77.3 418.1h0M78.5 417.8h0M67.0 429.8h0M65.2 418.4h0M56.4 421.2h0M62.3 427.1h0M65.8 457.3h0" stroke="#1E9B6E" stroke-width="2.50"/>
<path d="M69.3 404.4h0M56.7 407.9h0M62.3 450.7h0M59.5 433.7h0M64.9 442.4h0M70.0 432.1h0M83.1 422.2h0" stroke="#CF79B1" stroke-width="2.50"/>
<path d="M60.5 428.0h0M83.4 437.2h0M81.6 438.7h0M89.9 424.7h0M54.6 421.1h0" stroke="#1F70B6" stroke-width="2.50"/>
<path d="M67.4 458.0h0M63.3 415.5h0M75.7 405.2h0M62.7 410.1h0M66.0 420.9h0M62.3 456.0h0M78.0 434.5h0M82.9 435.8h0M69.2 418.9h0M73.6 410.1h0M62.0 434.6h0M71.5 450.5h0M63.4 433.8h0M59.6 447.2h0M70.9 447.6h0M87.2 426.4h0M70.7 422.8h0M75.5 404.6h0M56.3 433.3h0M69.2 419.7h0M80.6 441.0h0M82.5 436.3h0" stroke="#ECE23C" stroke-width="2.50"/>
<path d="M84.2 409.2h0M74.9 421.5h0M65.7 436.3h0M62.7 453.9h0" stroke="#1E9B6E" stroke-width="2.50"/>
<path d="M68.2 444.7h0M73.6 445.2h0M74.8 436.3h0M86.4 414.2h0M79.4 437.4h0M56.3 407.0h0" stroke="#D07A30" stroke-width="2.50"/>
<path d="M87.0 428.0h0" stroke="#1F70B6" stroke-width="2.50"/>
<path d="M83.0 415.7h0M61.0 415.6h0M83.0 434.1h0M58.1 412.8h0M62.0 414.3h0M64.1 412.9h0M67.0 435.9h0M67.6 417.9h0M65.9 420.4h0M61.2 413.9h0M67.4 422.8h0M58.5 418.0h0M58.7 424.9h0M63.2 414.2h0M67.6 434.1h0M57.0 430.3h0M64.6 426.7h0M57.1 437.0h0M63.3 425.2h0M58.8 417.9h0M64.4 417.0h0M65.5 432.5h0M62.9 432.5h0M61.0 438.6h0M61.2 417.9h0M57.8 419.2h0M60.0 410.2h0M64.5 413.6h0M62.8 435.1h0M58.0 417.7h0M62.9 422.2h0M64.6 412.8h0M58.8 436.4h0M59.1 409.7h0M60.3 418.5h0M63.0 424.9h0M61.2 430.1h0M67.8 409.6h0M61.6 424.9h0M67.9 411.6h0M70.0 419.6h0M56.9 421.1h0M56.5 419.6h0M55.9 419.4h0M61.5 429.5h0M69.0 426.6h0M67.8 416.1h0M58.0 434.7h0M67.5 422.9h0M67.1 411.2h0M68.2 417.7h0M62.2 412.2h0M56.6 428.1h0M58.8 423.3h0M62.4 413.0h0M62.1 426.7h0M67.1 427.4h0M59.7 421.5h0M61.1 438.0h0M58.7 434.1h0M68.3 416.9h0M65.3 436.9h0M62.6 413.6h0M61.1 420.2h0M69.7 426.3h0M65.4 413.1h0M61.1 435.5h0M56.7 411.7h0M60.7 418.4h0M63.4 438.3h0M67.1 430.7h0M62.7 423.9h0M63.4 435.3h0M67.5 419.8h0M56.8 419.8h0M58.3 411.0h0M63.9 412.0h0M64.3 417.8h0M66.4 422.0h0M59.5 430.7h0M60.4 421.0h0M67.5 412.9h0M67.7 423.1h0M68.8 416.1h0M58.5 415.0h0M58.9 415.1h0M63.7 434.0h0" stroke="#CF79B1" stroke-width="2.50"/>
<path d="M57.7 424.0h0M69.3 426.0h0M68.4 421.2h0M68.1 426.6h0M56.1 416.2h0M57.4 423.3h0M67.7 425.0h0M65.2 421.7h0M60.8 418.0h0M61.4 425.1h0M65.0 436.8h0M64.9 436.1h0M57.2 422.0h0M58.6 428.4h0M62.7 417.6h0M63.0 425.2h0M56.8 430.9h0M64.2 429.8h0M59.0 410.3h0M64.3 416.5h0M65.5 410.5h0M57.3 412.6h0M58.3 437.7h0M64.3 430.1h0M61.5 411.9h0M65.1 419.3h0M58.5 411.5h0M61.0 416.1h0M63.7 421.9h0M67.9 426.9h0M60.7 439.1h0M69.3 417.5h0M60.1 433.9h0M58.3 415.0h0M59.3 418.7h0M60.4 435.2h0M65.0 410.0h0M67.8 414.5h0M67.3 417.1h0M64.8 418.0h0M68.3 411.8h0M67.9 426.6h0M61.6 421.8h0M55.9 424.5h0M62.6 420.8h0M58.5 427.3h0M62.3 416.1h0M58.9 414.8h0M55.9 431.3h0M58.2 430.2h0M61.1 412.6h0M58.8 431.6h0M60.4 426.6h0M62.4 434.0h0M58.8 438.2h0M59.0 430.4h0M69.0 428.8h0M57.1 436.0h0M67.2 430.2h0M64.8 411.2h0M60.0 419.6h0M59.0 434.0h0M57.4 417.5h0M58.1 414.8h0M68.6 410.7h0M56.2 433.0h0M60.0 418.4h0M58.0 428.0h0M57.2 422.6h0M65.1 409.5h0M62.1 413.6h0M56.1 433.7h0M55.9 415.1h0M62.1 431.0h0M61.9 436.5h0M59.4 421.3h0M64.5 435.3h0M55.8 420.6h0M69.6 420.7h0M58.9 417.0h0M68.1 426.7h0M61.2 415.3h0M59.5 417.1h0M62.9 411.2h0M63.5 427.7h0M66.7 426.2h0M66.9 414.7h0M68.0 416.0h0M60.7 427.9h0M57.1 434.4h0M67.7 431.4h0M60.4 415.1h0M58.4 416.4h0M65.0 416.7h0M64.0 433.0h0M60.4 431.7h0M56.8 425.7h0M62.6 410.0h0M59.9 435.6h0M62.6 437.6h0M68.3 423.9h0M63.5 415.1h0M65.3 414.0h0M63.6 424.1h0M65.9 431.1h0M68.1 414.0h0M62.2 431.0h0M61.8 409.5h0M64.3 412.8h0M55.9 414.7h0M58.9 416.3h0M61.6 432.3h0M64.6 421.7h0M61.2 423.5h0M60.7 436.5h0M61.5 432.3h0M63.8 422.9h0M64.4 433.3h0M62.6 429.7h0M59.8 430.1h0" stroke="#CF79B1" stroke-width="2.50"/>
<path d="M58.9 418.2h0M65.1 418.6h0M64.1 418.6h0M58.8 429.1h0M57.5 410.4h0M65.4 420.4h0M60.6 428.8h0M68.7 429.5h0M57.4 432.7h0M63.7 437.9h0M57.1 420.3h0M56.7 418.7h0M62.4 423.1h0M60.7 432.0h0M69.5 427.1h0M62.4 433.9h0M64.7 428.2h0M59.3 426.5h0M65.9 413.3h0M64.3 427.9h0M64.1 430.8h0M57.9 431.4h0M66.3 425.6h0M62.3 421.1h0M61.2 421.8h0M58.5 434.2h0M63.4 428.7h0M69.2 422.3h0M66.9 417.2h0M60.8 421.8h0M64.5 417.6h0M57.9 410.3h0M58.0 436.0h0M68.3 418.9h0M62.3 421.8h0M63.9 416.8h0M56.1 426.5h0M64.7 413.1h0M61.8 424.6h0M66.2 423.9h0M66.7 414.9h0M65.6 422.0h0M68.3 409.8h0M59.1 428.3h0M67.9 418.0h0M67.4 425.1h0M62.4 416.7h0M60.6 420.8h0M64.8 415.0h0M58.1 420.9h0M61.9 432.7h0M59.4 430.5h0M56.2 420.1h0M60.3 413.9h0M63.4 420.1h0M59.8 418.0h0" stroke="#CF79B1" stroke-width="2.50"/>
<path d="M71.7 440.6h0M65.8 434.3h0M66.5 440.0h0M63.8 440.0h0M73.3 440.6h0M66.6 432.5h0M59.6 432.9h0M64.3 443.1h0M68.0 437.4h0M58.3 444.3h0M69.6 430.8h0M66.0 440.2h0M65.0 432.6h0M67.4 446.8h0M63.6 439.7h0M59.6 447.9h0M64.9 446.0h0M63.1 439.6h0M62.3 441.4h0" stroke="#D07A30" stroke-width="2.50"/>
<path d="M70.3 452.9h0M70.9 435.8h0M65.3 445.0h0M70.1 450.4h0M65.4 443.6h0" stroke="#1E9B6E" stroke-width="2.50"/>
<path d="M70.0 444.3h0M59.0 432.9h0M61.5 445.4h0M67.5 454.8h0M66.8 432.2h0M63.6 444.1h0M71.6 438.3h0M59.9 434.3h0M64.9 456.1h0M60.9 439.4h0M58.2 432.8h0M65.1 441.5h0M69.3 449.6h0M67.6 446.3h0M66.0 455.6h0M68.4 439.8h0M67.1 449.2h0M74.9 437.7h0M62.1 446.4h0M61.4 452.8h0M62.0 448.3h0M68.5 445.3h0M70.9 452.5h0M71.0 449.8h0M67.0 445.8h0M70.5 446.8h0M69.9 448.2h0M65.2 441.5h0M70.1 445.1h0M63.0 455.4h0M59.5 446.3h0M70.7 447.7h0" stroke="#ECE23C" stroke-width="2.50"/>
<path d="M70.5 435.8h0M59.7 431.8h0M71.0 441.6h0M65.3 445.9h0" stroke="#1F70B6" stroke-width="2.50"/>
<path d="M58.1 445.1h0M65.3 434.6h0M65.8 430.9h0M68.3 450.0h0" stroke="#D81B35" stroke-width="2.50"/>
<path d="M69.8 451.2h0M64.3 446.3h0M64.0 443.2h0M60.8 450.3h0M68.5 443.4h0M69.3 434.3h0M58.5 448.2h0M71.6 439.7h0M63.0 450.0h0M71.9 443.8h0M65.3 440.8h0M66.0 433.1h0M67.4 442.6h0M66.1 442.9h0M73.8 436.1h0M60.9 443.2h0M68.6 443.3h0M71.3 431.3h0M69.0 446.1h0M59.5 440.7h0M65.6 448.1h0M58.7 444.3h0M69.0 441.7h0M67.0 451.3h0M69.5 446.1h0M60.9 441.6h0M70.8 435.5h0M59.6 408.2h0M56.3 406.5h0M71.7 408.8h0M63.7 405.4h0M74.1 410.1h0M70.8 407.9h0M69.0 409.8h0M57.5 405.8h0M66.5 406.9h0M67.5 407.5h0M66.9 408.2h0M68.8 410.8h0M72.3 404.3h0M59.9 410.1h0M62.1 407.6h0M68.6 410.4h0M59.1 405.5h0M67.2 409.5h0M67.9 405.7h0M61.6 404.8h0M55.1 409.6h0M72.1 407.3h0M71.7 409.5h0M62.2 408.9h0M73.9 410.6h0M71.5 404.9h0M62.6 406.7h0M71.5 405.4h0M55.2 410.4h0M57.3 407.8h0M65.5 409.9h0M65.8 405.1h0M65.9 409.2h0M71.8 404.3h0M55.0 409.0h0M55.9 406.4h0" stroke="#ECE23C" stroke-width="2.50"/>
<path d="M70.1 438.1h0M65.7 442.7h0M58.7 270.7h0M60.0 272.0h0M61.5 277.4h0M57.1 285.7h0M61.8 288.4h0M61.0 290.5h0M58.7 296.3h0M60.7 299.4h0M60.3 307.0h0M60.7 329.4h0M63.4 333.8h0M64.3 335.0h0M61.0 337.8h0M61.4 342.6h0M63.9 344.2h0M62.6 352.0h0M60.7 354.4h0M62.3 356.8h0M62.6 360.0h0M60.3 363.9h0M62.6 364.0h0M65.0 366.3h0M61.8 369.4h0M64.2 371.8h0M61.0 374.2h0M65.8 373.4h0M63.4 377.3h0M61.0 380.5h0M65.0 382.0h0M62.3 384.4h0M60.3 386.8h0M64.2 387.6h0M62.6 390.0h0M65.0 391.5h0" stroke="#D81B35" stroke-width="2.50"/>
<path d="M65.9 453.5h0M72.2 449.0h0M60.7 442.2h0M65.4 451.7h0M61.6 443.6h0M69.8 446.8h0M58.9 435.1h0M59.7 433.5h0M64.8 433.3h0M61.9 452.2h0M72.4 433.2h0M67.9 441.8h0M66.8 446.4h0M59.2 406.8h0M55.1 408.5h0" stroke="#D07A30" stroke-width="2.50"/>
<path d="M68.7 435.3h0M65.8 437.9h0" stroke="#1E9B6E" stroke-width="2.50"/>
<path d="M58.1 442.7h0" stroke="#1F70B6" stroke-width="2.50"/>
<path d="M68.7 452.2h0M55.0 410.0h0M59.9 409.0h0" stroke="#CF79B1" stroke-width="2.50"/>
<path d="M61.8 394.7h0M63.9 397.0h0M62.6 399.4h0M61.0 402.6h0M63.0 358.0h0M61.5 349.0h0M64.0 362.0h0M60.5 378.0h0M63.5 392.5h0M62.0 397.0h0M63.0 400.0h0M61.0 401.5h0" stroke="#D81B35" stroke-width="2.50"/>
<path d="M50.6,261.8 V467.7 H191.4" fill="none" stroke="#000" stroke-width="1.1"/>
<line x1="47.4" y1="278.2" x2="50.6" y2="278.2" stroke="#333" stroke-width="1"/>
<text x="42.50" y="280.80" font-size="8.6" text-anchor="end" fill="#3c3c3c" font-weight="normal"  stroke="#3c3c3c" stroke-width="0.22">0.2</text>
<line x1="47.4" y1="350" x2="50.6" y2="350" stroke="#333" stroke-width="1"/>
<text x="42.50" y="352.60" font-size="8.6" text-anchor="end" fill="#3c3c3c" font-weight="normal"  stroke="#3c3c3c" stroke-width="0.22">0.1</text>
<line x1="47.4" y1="421.5" x2="50.6" y2="421.5" stroke="#333" stroke-width="1"/>
<text x="42.50" y="424.10" font-size="8.6" text-anchor="end" fill="#3c3c3c" font-weight="normal"  stroke="#3c3c3c" stroke-width="0.22">0.0</text>
<line x1="74.8" y1="467.7" x2="74.8" y2="470.9" stroke="#333" stroke-width="1"/>
<text x="74.80" y="482.90" font-size="8.6" text-anchor="middle" fill="#3c3c3c" font-weight="normal"  stroke="#3c3c3c" stroke-width="0.22">0.000</text>
<line x1="103.1" y1="467.7" x2="103.1" y2="470.9" stroke="#333" stroke-width="1"/>
<text x="103.10" y="482.90" font-size="8.6" text-anchor="middle" fill="#3c3c3c" font-weight="normal"  stroke="#3c3c3c" stroke-width="0.22">0.025</text>
<line x1="131.4" y1="467.7" x2="131.4" y2="470.9" stroke="#333" stroke-width="1"/>
<text x="131.40" y="482.90" font-size="8.6" text-anchor="middle" fill="#3c3c3c" font-weight="normal"  stroke="#3c3c3c" stroke-width="0.22">0.050</text>
<line x1="160" y1="467.7" x2="160" y2="470.9" stroke="#333" stroke-width="1"/>
<text x="160.00" y="482.90" font-size="8.6" text-anchor="middle" fill="#3c3c3c" font-weight="normal"  stroke="#3c3c3c" stroke-width="0.22">0.075</text>
<line x1="188.3" y1="467.7" x2="188.3" y2="470.9" stroke="#333" stroke-width="1"/>
<text x="188.30" y="482.90" font-size="8.6" text-anchor="middle" fill="#3c3c3c" font-weight="normal"  stroke="#3c3c3c" stroke-width="0.22">0.100</text>
<text x="120.60" y="496.30" font-size="10.5" text-anchor="middle" fill="#1a1a1a" stroke="#1a1a1a" stroke-width="0.38" word-spacing="1.3" textLength="40" lengthAdjust="spacingAndGlyphs">PC1 (9.81%)</text>
<text transform="translate(25.40,364.65) rotate(-90)" x="0" y="0" font-size="9.8" text-anchor="middle" fill="#1a1a1a" stroke="#1a1a1a" stroke-width="0.38" word-spacing="1.3" textLength="40.5" lengthAdjust="spacingAndGlyphs">PC2 (4.18%)</text>
<text x="202.80" y="352.90" font-size="7.8" text-anchor="start" fill="#1a1a1a" font-weight="normal" textLength="37.6" lengthAdjust="spacingAndGlyphs" stroke="#1a1a1a" stroke-width="0.22">CREGION</text>
<circle cx="207.2" cy="362.20" r="1.45" fill="#ECE23C"/>
<text x="212.60" y="364.90" font-size="7.8" text-anchor="start" fill="#1a1a1a" font-weight="normal"  stroke="#1a1a1a" stroke-width="0.22">Montreal</text>
<circle cx="207.2" cy="371.86" r="1.45" fill="#D07A30"/>
<text x="212.60" y="374.56" font-size="7.8" text-anchor="start" fill="#1a1a1a" font-weight="normal"  stroke="#1a1a1a" stroke-width="0.22">Quebec</text>
<circle cx="207.2" cy="381.52" r="1.45" fill="#1F70B6"/>
<text x="212.60" y="384.22" font-size="7.8" text-anchor="start" fill="#1a1a1a" font-weight="normal"  stroke="#1a1a1a" stroke-width="0.22">Saguenay</text>
<circle cx="207.2" cy="391.18" r="1.45" fill="#1E9B6E"/>
<text x="212.60" y="393.88" font-size="7.8" text-anchor="start" fill="#1a1a1a" font-weight="normal"  stroke="#1a1a1a" stroke-width="0.22">Sherbrooke</text>
<circle cx="207.2" cy="400.84" r="1.45" fill="#CF79B1"/>
<text x="212.60" y="403.54" font-size="7.8" text-anchor="start" fill="#1a1a1a" font-weight="normal"  stroke="#1a1a1a" stroke-width="0.22">Leu</text>
<circle cx="207.2" cy="410.50" r="1.45" fill="#D81B35"/>
<text x="212.60" y="413.20" font-size="7.8" text-anchor="start" fill="#1a1a1a" font-weight="normal"  stroke="#1a1a1a" stroke-width="0.22">Outlier sample</text>
<text x="273.70" y="272.10" font-size="12.2" text-anchor="start" fill="#000" font-weight="bold" stroke="#000" stroke-width="0.3">D</text>
<path d="M389.9 309.8h0M398.0 306.3h0M340.5 299.7h0M399.3 272.6h0M356.3 304.9h0M374.6 303.6h0M403.0 272.5h0M355.6 349.0h0M399.6 336.9h0M388.9 279.7h0M390.0 308.7h0M367.4 288.9h0M353.0 346.6h0M362.7 353.5h0M382.9 294.5h0M401.7 311.1h0M396.6 317.8h0M390.4 343.5h0M348.1 283.3h0M397.9 292.8h0M401.1 343.6h0M384.9 346.2h0M400.7 340.9h0" stroke="#D07A30" stroke-width="2.64"/>
<path d="M358.6 351.6h0M364.4 353.6h0M394.1 318.0h0M358.6 332.2h0M376.1 311.1h0M368.7 340.1h0M346.2 326.3h0M361.5 289.4h0M381.7 341.2h0M370.9 334.0h0M361.2 304.1h0M355.9 314.9h0M359.6 309.7h0M380.1 376.5h0M357.3 291.1h0M373.6 329.5h0M365.3 347.8h0M403.4 331.0h0M393.8 304.9h0M343.8 285.6h0M363.6 332.4h0M366.1 323.4h0M356.2 347.9h0M355.8 311.7h0M355.4 363.9h0M403.3 272.3h0M361.6 347.7h0M359.7 332.1h0M363.0 279.5h0M393.4 299.0h0M351.9 340.7h0M379.4 287.2h0M355.7 325.0h0M379.0 366.6h0M350.4 328.6h0M359.5 278.1h0M351.8 284.3h0M370.0 325.3h0M352.8 364.2h0M378.1 289.4h0M348.1 299.5h0M394.6 329.4h0M361.2 357.6h0M394.1 327.7h0M352.2 332.1h0M378.0 286.8h0M345.0 284.8h0M382.0 324.3h0M363.8 323.8h0M355.8 356.8h0M393.1 310.2h0M388.1 283.6h0M358.6 331.2h0M400.3 340.8h0M350.2 278.2h0M351.3 309.1h0M368.7 296.4h0M400.3 304.8h0M389.6 314.7h0M357.0 322.4h0M346.8 329.6h0M361.9 308.9h0M359.4 275.9h0M362.7 296.8h0M354.3 335.6h0M348.2 341.7h0M354.5 324.2h0M347.9 332.5h0M352.3 363.4h0M351.1 307.0h0M352.5 359.0h0M355.6 356.0h0M370.3 328.5h0M357.8 298.4h0M366.1 299.9h0M386.9 312.4h0" stroke="#ECE23C" stroke-width="2.64"/>
<path d="M380.3 371.9h0M361.8 311.2h0M361.9 336.1h0M347.4 326.6h0M346.7 320.4h0M363.0 314.8h0M362.5 324.6h0M366.9 276.9h0M391.3 304.1h0M353.4 334.9h0M368.8 297.8h0M347.0 339.3h0M356.4 288.3h0M386.0 283.3h0M371.3 286.8h0M366.8 277.8h0M344.0 323.7h0" stroke="#CF79B1" stroke-width="2.64"/>
<path d="M345.8 292.4h0M357.9 363.4h0" stroke="#1F70B6" stroke-width="2.64"/>
<path d="M376.1 301.6h0M342.7 308.1h0" stroke="#1E9B6E" stroke-width="2.64"/>
<path d="M389.0 294.8h0M392.0 319.8h0M359.4 328.0h0M397.5 309.9h0M399.7 277.1h0M363.7 305.8h0M382.6 307.2h0M389.4 327.8h0M370.6 341.9h0M396.7 298.0h0M348.7 351.8h0M374.3 337.0h0M345.9 336.8h0M383.3 300.0h0M361.1 325.0h0" stroke="#D07A30" stroke-width="2.64"/>
<path d="M365.0 327.2h0M347.5 362.4h0M347.2 321.5h0M359.5 342.2h0M352.0 319.5h0M356.2 336.0h0M396.5 296.0h0M352.7 357.4h0M364.2 302.3h0M384.8 298.9h0M379.0 298.1h0M353.6 310.5h0M390.9 342.5h0M394.7 286.5h0M363.5 333.8h0M378.5 298.9h0M344.9 282.9h0M373.5 357.5h0M340.8 322.8h0M350.5 353.4h0M345.0 313.6h0M357.8 356.8h0M378.0 280.9h0M349.5 334.3h0M345.3 326.3h0M374.6 328.0h0M373.5 353.1h0M403.6 323.4h0M377.8 295.2h0M341.0 319.6h0M361.3 337.3h0M354.1 278.1h0M353.4 319.2h0" stroke="#CF79B1" stroke-width="2.64"/>
<path d="M366.8 335.7h0M346.2 357.6h0M358.6 292.5h0M372.2 361.5h0M384.2 309.2h0M344.8 302.8h0M372.3 299.2h0M370.9 289.6h0M349.6 318.0h0M398.0 311.1h0M369.3 292.5h0M357.8 356.3h0M343.4 308.5h0M347.4 320.1h0M372.9 351.4h0M386.2 286.1h0M375.7 325.0h0M344.9 310.1h0M382.4 342.6h0M359.7 312.2h0M365.7 290.7h0M379.3 283.3h0M353.1 339.5h0M342.2 297.8h0M345.0 295.3h0M349.3 298.9h0M345.0 326.4h0M364.5 344.8h0M352.9 330.4h0M345.9 301.7h0M360.2 327.9h0M383.6 319.4h0M361.2 292.4h0M360.3 358.3h0M355.6 293.5h0M361.1 349.2h0M370.1 319.9h0M361.4 359.2h0M382.7 325.1h0M401.6 307.3h0M365.5 343.7h0M346.0 309.8h0M367.0 331.5h0M375.2 305.7h0M348.5 281.2h0M372.2 302.3h0M372.3 306.8h0M355.3 283.6h0M376.0 307.4h0M370.3 306.4h0M374.1 287.4h0M363.1 350.6h0M354.8 297.2h0M397.8 346.6h0M382.8 324.9h0M380.8 359.5h0M370.9 317.2h0M361.0 334.7h0M367.0 303.2h0M404.1 279.0h0M367.0 335.4h0M401.9 323.8h0M343.2 313.2h0M392.9 292.0h0M362.8 318.7h0M351.5 347.8h0" stroke="#ECE23C" stroke-width="2.64"/>
<path d="M349.5 331.5h0M341.5 318.2h0M354.5 342.9h0" stroke="#1F70B6" stroke-width="2.64"/>
<path d="M363.5 337.5h0M356.0 341.9h0M357.0 319.4h0" stroke="#1E9B6E" stroke-width="2.64"/>
<path d="M349.0 324.2h0M405.3 274.0h0M354.6 294.3h0M351.1 284.6h0M356.2 317.3h0M362.8 320.4h0M367.7 285.5h0M348.2 284.9h0M341.4 298.8h0M369.8 341.4h0M354.0 326.1h0M375.0 351.5h0M351.5 363.6h0M376.1 351.3h0M355.9 318.5h0M350.3 316.2h0M384.9 340.0h0M357.1 305.5h0M402.4 319.3h0M347.1 319.4h0M352.9 278.4h0M360.5 325.8h0M398.2 295.4h0M370.6 314.4h0M358.0 327.5h0M366.2 335.5h0M369.3 315.7h0M357.0 283.6h0M367.5 324.2h0M348.1 356.4h0M359.2 287.7h0M377.3 332.6h0M371.4 281.8h0M356.5 301.3h0M350.7 348.4h0M357.3 305.2h0M351.1 355.3h0M369.6 318.6h0M379.2 342.4h0M342.1 323.0h0M347.8 317.8h0M356.8 355.6h0M367.9 312.6h0M361.0 315.3h0M351.3 309.3h0M393.9 295.6h0M355.1 344.0h0M355.2 285.9h0M349.0 281.4h0M357.1 295.7h0M377.6 304.1h0M354.6 309.1h0M357.1 306.9h0M369.9 309.7h0M403.5 325.6h0M343.1 323.1h0M338.9 319.2h0M344.1 326.0h0M351.0 353.2h0M350.4 331.7h0M354.4 352.7h0M379.8 278.8h0M377.0 333.8h0M371.2 317.3h0M357.7 309.7h0" stroke="#ECE23C" stroke-width="2.64"/>
<path d="M355.3 340.9h0M402.7 330.2h0M398.7 311.6h0M391.0 277.0h0M363.9 280.0h0M395.9 348.3h0M342.0 301.4h0M351.7 285.8h0M387.1 283.2h0M394.7 276.6h0M399.4 318.3h0M363.1 363.2h0M399.7 347.0h0M360.0 334.9h0M382.0 280.4h0M359.9 363.0h0M389.5 288.1h0M392.7 307.4h0M400.0 285.7h0M388.2 298.7h0" stroke="#D07A30" stroke-width="2.64"/>
<path d="M399.9 297.1h0M378.4 335.6h0M375.8 341.1h0M351.8 277.2h0M389.7 338.6h0M358.3 278.1h0M385.8 289.1h0M385.2 277.9h0M340.7 300.1h0M399.2 319.0h0M348.6 337.4h0M356.4 330.3h0M346.4 314.8h0M371.2 298.9h0M363.7 343.8h0M342.8 294.5h0M353.2 355.9h0M397.9 294.4h0M342.3 319.6h0M358.9 291.1h0M380.9 343.5h0M361.3 330.7h0M390.4 335.8h0M386.9 351.5h0M358.6 327.7h0M376.0 295.8h0M384.6 356.4h0" stroke="#CF79B1" stroke-width="2.64"/>
<path d="M392.4 321.4h0M351.3 325.3h0M360.5 324.6h0M391.9 313.1h0M363.2 297.8h0M383.3 342.8h0" stroke="#1E9B6E" stroke-width="2.64"/>
<path d="M374.1 296.7h0M367.5 307.8h0" stroke="#1F70B6" stroke-width="2.64"/>
<path d="M397.2 298.0h0M397.0 327.2h0M352.2 343.3h0M398.1 304.5h0M355.1 297.0h0M374.7 340.9h0M400.9 288.0h0M338.8 316.6h0M357.5 351.8h0M370.2 357.1h0M353.2 359.2h0M353.0 302.4h0M348.2 355.8h0M358.5 288.4h0M387.4 349.5h0M378.1 340.7h0M395.9 310.0h0M363.8 363.7h0M391.6 332.0h0M347.6 295.4h0M355.7 284.6h0" stroke="#CF79B1" stroke-width="2.64"/>
<path d="M373.0 323.3h0M356.8 283.1h0M373.6 301.3h0M358.1 336.5h0M348.5 290.6h0M368.2 322.3h0M386.9 332.3h0M344.9 296.1h0M356.7 346.9h0M354.5 310.4h0M365.9 360.0h0M386.1 346.8h0M364.1 327.0h0M360.0 325.7h0M344.1 333.0h0M350.6 314.5h0M348.2 361.3h0M345.9 351.9h0M383.8 334.8h0M364.3 317.5h0M360.0 312.6h0M393.9 282.4h0M356.1 345.3h0M373.6 328.8h0M352.1 360.8h0M368.6 328.2h0M370.6 355.2h0M363.2 288.8h0M355.8 330.6h0M368.4 345.9h0M376.9 283.1h0M343.1 282.5h0M371.7 340.5h0M343.8 305.1h0M358.3 320.9h0M375.4 364.0h0M375.2 295.8h0M369.7 319.7h0M345.9 344.4h0M389.2 335.3h0M355.2 344.3h0M354.6 282.0h0M343.6 310.3h0M395.6 334.7h0M365.8 286.7h0M398.1 302.8h0M366.5 322.4h0M352.6 359.1h0M361.6 321.8h0M342.9 285.3h0M352.9 291.0h0M347.7 354.1h0M349.9 326.5h0M378.3 303.9h0M347.8 317.3h0M364.8 276.6h0M358.5 279.1h0M356.6 296.3h0M371.6 324.2h0M399.6 308.4h0M388.6 289.5h0M397.1 324.3h0M353.5 276.9h0M367.4 340.6h0M357.0 280.2h0M355.7 340.2h0M359.5 363.4h0M379.5 351.1h0" stroke="#ECE23C" stroke-width="2.64"/>
<path d="M357.3 333.6h0M370.7 285.7h0M396.7 300.3h0M384.6 359.1h0M358.8 306.7h0M404.8 322.9h0M382.2 378.2h0M390.9 312.4h0M377.6 329.2h0M392.8 297.8h0M349.2 354.8h0M341.6 310.1h0M381.7 279.4h0M402.1 281.7h0M396.5 306.6h0M366.0 275.2h0M394.1 305.1h0M394.8 301.8h0M389.9 292.3h0M397.5 340.1h0M404.8 322.3h0M401.4 272.2h0M340.9 303.0h0M358.8 314.9h0M399.4 285.1h0M372.1 331.0h0M384.6 313.3h0" stroke="#D07A30" stroke-width="2.64"/>
<path d="M384.2 326.0h0M361.3 319.4h0M351.3 341.4h0" stroke="#1E9B6E" stroke-width="2.64"/>
<path d="M341.9 286.0h0" stroke="#1F70B6" stroke-width="2.64"/>
<path d="M352.4 341.6h0M390.0 321.9h0M363.0 340.8h0M396.8 337.3h0M390.5 291.0h0M396.6 301.1h0M396.1 301.5h0M393.2 308.1h0M388.3 343.2h0M385.8 335.3h0M388.2 334.5h0M381.4 354.0h0M398.9 329.4h0M401.7 304.1h0M369.2 337.3h0M342.8 311.5h0M382.4 324.4h0M400.3 325.4h0M392.9 301.2h0M382.7 300.5h0M350.8 341.6h0M362.1 313.9h0M396.1 344.7h0M384.6 355.8h0M403.5 323.3h0M353.0 276.9h0" stroke="#D07A30" stroke-width="2.64"/>
<path d="M368.8 296.7h0M364.4 292.3h0M370.5 310.9h0M392.1 323.1h0M365.3 357.9h0M346.4 300.4h0M363.0 310.4h0M360.5 342.9h0M361.9 282.0h0M365.0 298.1h0M358.7 308.5h0M340.5 289.4h0M368.4 328.3h0M385.9 310.4h0M351.1 337.9h0M346.3 353.6h0M400.2 311.6h0M369.3 341.0h0M363.4 278.4h0M382.4 352.5h0M365.7 296.6h0M371.9 299.9h0M354.9 300.4h0M371.5 360.1h0M354.9 348.5h0M370.0 321.4h0M366.4 300.1h0M363.2 286.4h0M364.3 323.5h0M377.8 297.3h0M360.3 303.1h0M365.0 335.0h0M385.2 283.2h0M381.8 292.4h0M361.0 279.7h0M350.6 339.5h0M381.5 295.2h0M388.7 308.1h0M350.7 337.3h0M360.2 329.2h0M385.6 294.1h0M346.3 324.7h0M364.2 334.4h0M361.4 324.0h0M375.6 305.3h0M365.0 338.5h0M359.6 319.1h0M358.7 360.8h0M349.9 291.3h0M346.4 335.2h0M339.9 321.7h0M373.0 342.3h0M350.9 312.5h0M361.1 288.0h0M368.9 316.3h0M371.2 350.3h0M359.7 328.6h0M361.5 337.4h0M344.8 353.7h0M374.6 324.3h0M350.1 320.9h0M356.8 287.3h0M364.3 359.9h0M400.0 341.8h0M343.1 325.0h0M366.6 311.4h0M380.5 304.6h0M378.4 335.3h0" stroke="#ECE23C" stroke-width="2.64"/>
<path d="M379.0 336.7h0M404.5 322.5h0M373.2 291.8h0M392.8 308.4h0M352.8 286.1h0M360.7 303.9h0M341.1 323.6h0" stroke="#1E9B6E" stroke-width="2.64"/>
<path d="M344.5 295.9h0M374.6 346.0h0M345.1 350.8h0M393.5 345.9h0M379.7 291.8h0M355.3 281.1h0M400.0 290.9h0M353.5 313.6h0M388.0 309.4h0M364.0 302.2h0M353.7 333.6h0M377.5 293.8h0M385.2 281.5h0M400.7 329.8h0M364.5 354.2h0M351.6 358.9h0M392.9 322.2h0M371.2 334.7h0M402.2 342.3h0" stroke="#CF79B1" stroke-width="2.64"/>
<path d="M345.4 307.6h0M384.6 335.7h0M344.9 312.7h0M378.9 360.8h0M354.8 308.2h0M350.2 332.6h0M395.8 302.6h0M363.9 312.7h0M389.8 308.1h0M338.5 308.8h0M370.8 280.0h0M352.1 304.7h0M369.7 351.7h0M401.6 317.7h0M349.9 301.1h0M342.6 311.7h0M372.4 306.6h0M356.6 354.0h0M352.3 284.7h0M351.6 306.2h0M355.4 310.1h0M374.8 286.8h0M352.3 277.6h0M394.7 282.4h0M351.3 350.8h0M370.0 292.8h0M358.7 289.7h0M362.7 297.8h0M359.1 307.7h0M391.4 288.3h0M359.9 314.2h0" stroke="#CF79B1" stroke-width="2.64"/>
<path d="M342.7 318.4h0M352.3 365.7h0M355.6 335.4h0M359.7 352.8h0M373.8 332.4h0M386.5 331.4h0M349.5 339.8h0M350.0 334.3h0M362.0 347.2h0M385.8 311.7h0M386.1 281.7h0M402.1 338.8h0M367.1 286.6h0M362.7 335.2h0M342.7 291.1h0M350.4 310.8h0M341.8 317.5h0M355.0 362.3h0M370.1 320.1h0M370.6 334.1h0M366.1 326.4h0M387.7 301.0h0M356.3 288.0h0M355.2 304.0h0M361.2 356.2h0M361.2 289.3h0M360.8 328.2h0M356.2 350.7h0M340.0 295.3h0M359.1 336.7h0M393.6 283.0h0M381.2 374.9h0M357.9 347.2h0M346.3 311.1h0M352.9 336.3h0M373.7 306.2h0M365.3 337.5h0M341.8 309.4h0M378.2 370.7h0M350.6 299.0h0M347.0 329.7h0M381.6 346.9h0M349.5 334.2h0M381.4 357.4h0M351.0 352.8h0M356.7 337.5h0M358.7 347.9h0M363.2 353.5h0M349.3 359.3h0M358.1 338.8h0M358.1 290.6h0M344.8 324.9h0M393.4 290.8h0M351.6 332.8h0M389.4 341.2h0M372.7 324.5h0M372.0 358.0h0M361.2 276.5h0M355.9 341.0h0M346.4 332.8h0M388.0 299.0h0M343.7 293.8h0M389.9 283.8h0M349.3 294.4h0M350.9 363.4h0" stroke="#ECE23C" stroke-width="2.64"/>
<path d="M344.7 281.5h0M342.7 304.3h0M395.8 323.5h0" stroke="#1F70B6" stroke-width="2.64"/>
<path d="M392.1 284.5h0M353.3 284.4h0M367.3 329.2h0M400.1 277.5h0M397.2 290.1h0M394.6 298.1h0M389.1 304.0h0M401.1 296.1h0M359.4 335.9h0M368.1 322.3h0M399.1 300.5h0M386.3 301.5h0M371.4 280.8h0M393.9 284.3h0M351.5 327.2h0M395.2 320.9h0M396.4 311.1h0M385.7 354.3h0" stroke="#D07A30" stroke-width="2.64"/>
<path d="M399.4 272.7h0M347.7 306.3h0M384.2 363.8h0" stroke="#1E9B6E" stroke-width="2.64"/>
<path d="M350.3 317.7h0M363.4 336.1h0M359.8 293.6h0M390.1 335.1h0M367.0 332.1h0M365.7 278.0h0M358.0 320.6h0M389.1 301.5h0M358.0 298.9h0M355.4 302.2h0M373.3 283.9h0M365.5 328.6h0M346.9 327.6h0M389.5 332.7h0M396.7 287.4h0M356.3 304.7h0M346.3 317.5h0M358.6 339.8h0M352.2 300.8h0M363.9 285.8h0M381.8 303.5h0M364.6 324.0h0M345.5 324.3h0M402.3 331.6h0M370.5 337.3h0M361.7 363.8h0M353.6 319.0h0M387.0 331.6h0M366.3 296.7h0M353.7 292.8h0M345.2 314.8h0M364.7 300.1h0M348.6 300.3h0M380.9 342.4h0M375.5 305.6h0M365.6 348.6h0M363.8 300.1h0M365.7 332.4h0M371.0 325.1h0M342.8 300.8h0M348.4 291.4h0M392.8 280.0h0M358.2 293.0h0M383.3 316.4h0M342.6 322.2h0M390.8 331.4h0M372.9 290.2h0M349.2 292.0h0M345.2 308.4h0M370.4 344.1h0M364.3 318.7h0M352.4 314.0h0M380.1 294.0h0M397.2 319.0h0M389.8 276.1h0M370.4 356.4h0M349.9 364.5h0M369.8 328.9h0M361.7 364.7h0M347.0 287.6h0M380.2 294.6h0M342.1 325.2h0M351.9 338.3h0M369.1 322.6h0M387.1 316.1h0M340.8 309.3h0M341.1 323.0h0M397.5 332.6h0M353.7 365.2h0" stroke="#ECE23C" stroke-width="2.64"/>
<path d="M347.9 300.9h0M355.6 344.9h0M363.1 308.1h0M385.8 289.9h0M376.8 310.9h0M358.2 282.0h0M369.1 348.7h0M357.8 306.1h0M396.1 273.9h0M369.3 355.6h0M353.7 342.8h0M372.4 282.8h0M355.8 310.4h0M346.1 324.5h0M359.6 299.5h0M363.8 308.4h0M390.5 317.4h0M361.7 334.4h0M356.3 279.8h0" stroke="#CF79B1" stroke-width="2.64"/>
<path d="M383.5 304.9h0" stroke="#1F70B6" stroke-width="2.64"/>
<path d="M375.7 299.3h0M387.4 295.0h0M372.8 327.8h0M361.8 326.3h0M396.8 279.2h0M344.7 295.0h0M345.3 285.6h0M390.8 336.4h0M359.4 280.3h0M350.8 296.4h0M360.4 355.2h0M372.3 358.5h0M396.0 276.9h0M353.9 280.3h0M381.6 334.7h0M396.0 319.4h0M389.8 286.2h0M383.8 343.9h0M394.1 291.4h0M374.8 297.0h0" stroke="#D07A30" stroke-width="2.64"/>
<path d="M358.5 339.5h0M352.5 336.9h0M399.6 274.6h0M364.7 324.4h0M352.4 307.1h0M357.3 308.6h0M376.3 367.5h0M353.1 330.0h0M390.8 279.3h0M356.2 317.3h0M364.0 275.0h0" stroke="#1E9B6E" stroke-width="2.64"/>
<path d="M357.8 293.4h0M341.2 299.3h0M378.7 327.3h0M356.8 329.1h0M343.3 315.7h0M352.8 322.1h0M364.4 342.3h0M378.5 301.3h0M349.8 310.0h0M376.5 336.3h0M372.5 319.6h0M363.8 294.9h0M356.1 340.1h0M355.7 323.9h0M359.6 343.5h0M349.9 341.6h0M393.7 275.5h0M369.2 292.8h0M357.7 336.4h0M353.3 278.4h0M368.3 325.8h0M375.7 287.2h0M359.8 358.8h0M367.1 314.0h0M349.0 298.0h0M340.7 301.1h0M351.3 357.8h0M348.8 302.8h0M375.2 312.8h0M361.1 330.9h0M353.4 285.8h0M365.5 329.4h0M350.6 345.9h0M364.8 285.6h0M356.2 337.2h0M359.1 343.4h0M366.9 354.1h0M346.2 306.7h0M374.3 333.0h0M403.3 328.4h0M390.0 301.6h0M352.8 351.3h0M354.7 336.6h0M364.0 327.0h0M357.1 283.8h0M358.9 291.5h0M359.3 311.0h0M375.6 310.8h0M370.5 302.0h0M401.9 314.5h0M375.3 331.7h0M370.0 336.2h0M383.5 302.4h0M373.0 343.5h0M372.1 358.8h0M376.9 299.4h0M343.2 287.6h0M357.8 310.4h0M343.7 288.7h0M349.7 340.4h0M356.1 313.9h0M380.3 348.5h0M379.7 365.9h0M371.9 332.6h0" stroke="#ECE23C" stroke-width="2.64"/>
<path d="M348.3 281.7h0M379.4 329.1h0M346.1 315.0h0M358.5 363.6h0M380.0 355.2h0M366.6 313.9h0M377.8 340.8h0M367.4 323.2h0M368.2 312.8h0M404.7 321.2h0M382.9 371.7h0M341.6 302.0h0M341.1 309.2h0M365.6 288.1h0M351.7 306.8h0M354.1 288.4h0M372.6 304.3h0M364.4 289.1h0M346.7 324.1h0M355.5 288.6h0M340.7 301.5h0M393.4 342.0h0M395.3 313.8h0M386.6 289.9h0M345.0 353.1h0M353.8 295.8h0M342.9 319.5h0M353.8 345.7h0M395.0 291.8h0M403.8 330.4h0M369.2 305.7h0M360.4 359.1h0M398.9 270.7h0" stroke="#CF79B1" stroke-width="2.64"/>
<path d="M371.9 347.0h0M396.8 272.2h0M391.7 342.0h0M394.0 341.2h0M342.4 318.4h0M394.0 326.6h0M388.3 305.6h0M395.6 338.6h0M356.3 320.9h0M351.3 337.8h0M358.9 277.5h0M362.3 275.2h0M377.9 335.3h0M395.9 278.2h0M386.1 290.2h0M385.6 283.1h0M396.3 300.8h0M370.5 358.1h0" stroke="#D07A30" stroke-width="2.64"/>
<path d="M371.1 317.2h0M365.0 312.4h0M400.8 307.2h0M391.4 326.3h0" stroke="#1F70B6" stroke-width="2.64"/>
<path d="M360.2 282.3h0" stroke="#1E9B6E" stroke-width="2.64"/>
<path d="M396.3 278.2h0M354.5 365.9h0M364.3 297.6h0M398.2 324.0h0M391.7 308.0h0M359.7 278.6h0M400.6 305.5h0M339.0 314.8h0M359.6 279.3h0M400.4 294.5h0M368.9 333.2h0M391.8 325.9h0M373.2 341.1h0M366.2 350.7h0M393.1 304.7h0M403.4 326.5h0M402.5 322.3h0M358.0 326.7h0M349.0 295.2h0M388.1 290.8h0M367.4 363.0h0M347.7 324.5h0M355.2 282.0h0" stroke="#D07A30" stroke-width="2.64"/>
<path d="M376.2 365.3h0M376.3 298.0h0M347.1 332.8h0M400.7 298.1h0M364.5 309.8h0M371.3 289.8h0M347.7 324.2h0M373.2 349.5h0M356.8 303.5h0M379.6 299.6h0M377.7 360.2h0M350.0 332.7h0M385.3 356.2h0M344.3 290.0h0M368.4 277.2h0M374.5 323.8h0M357.5 343.8h0M370.5 342.8h0M377.8 333.4h0M351.7 319.1h0M367.2 329.5h0M355.5 342.3h0M363.1 361.8h0M352.9 299.4h0M380.1 295.2h0M355.2 354.0h0M354.7 316.3h0M402.4 334.4h0M370.7 332.3h0M367.4 342.1h0M398.8 274.7h0M371.5 359.8h0M373.6 359.1h0M345.7 313.1h0M369.1 289.5h0M351.8 288.6h0" stroke="#CF79B1" stroke-width="2.64"/>
<path d="M354.2 285.1h0M346.4 295.5h0M381.4 299.5h0M365.8 278.3h0M346.6 313.8h0M383.0 302.1h0M375.8 335.9h0M395.6 339.0h0M387.0 339.6h0M399.4 340.1h0M358.8 274.3h0M379.4 280.5h0M363.1 276.1h0M351.0 356.9h0M384.0 355.3h0M349.7 338.0h0M360.0 275.5h0M395.3 312.3h0M376.5 307.6h0M357.0 361.5h0M362.7 309.9h0M353.2 316.8h0M340.6 290.1h0M361.8 286.5h0M400.1 322.1h0M347.7 311.8h0M398.2 281.9h0M391.1 343.5h0M359.5 304.9h0M401.8 318.0h0M390.9 294.0h0M360.2 289.1h0M407.9 272.7h0M362.3 328.3h0M359.4 300.8h0M379.3 311.4h0M361.2 291.7h0M346.7 331.2h0M371.2 360.8h0M354.6 342.9h0M363.7 302.6h0M355.0 356.2h0M367.0 290.9h0M364.1 332.4h0M343.3 292.3h0M376.2 337.1h0M374.8 357.9h0M368.8 353.5h0M357.0 300.5h0M361.0 304.3h0M376.7 333.2h0M367.0 288.9h0M370.1 324.0h0M344.1 293.3h0M368.6 315.7h0" stroke="#ECE23C" stroke-width="2.64"/>
<path d="M402.1 344.3h0M368.1 348.6h0M372.1 331.4h0M399.1 340.4h0" stroke="#1F70B6" stroke-width="2.64"/>
<path d="M360.9 351.0h0M358.4 323.9h0" stroke="#1E9B6E" stroke-width="2.64"/>
<path d="M392.8 332.5h0M376.8 303.8h0M344.0 330.0h0M346.9 312.1h0M379.9 375.8h0M352.3 341.9h0M380.8 356.2h0M377.0 356.8h0M342.5 316.9h0M343.0 291.4h0M364.1 364.4h0M392.4 284.9h0M358.8 343.4h0M370.9 351.0h0M351.3 333.1h0M350.4 301.2h0M350.4 344.2h0M362.6 346.5h0M377.7 329.1h0M389.1 311.1h0M362.1 309.4h0M379.2 289.0h0M344.8 313.9h0M398.4 334.3h0M359.4 351.5h0M347.9 278.1h0M387.3 279.5h0M354.6 277.5h0M375.1 309.0h0M354.2 310.0h0M350.2 299.7h0M366.9 343.6h0M369.0 286.7h0M399.4 337.2h0M364.5 353.4h0M357.7 294.6h0M346.5 344.1h0M343.5 303.4h0M369.8 325.4h0M363.9 302.6h0M339.6 294.2h0M346.7 291.3h0M363.7 348.3h0M362.2 298.1h0M345.7 335.7h0M395.3 301.1h0M346.2 280.5h0M345.1 305.1h0M372.1 300.6h0M360.6 336.0h0M384.7 283.4h0M350.4 363.4h0M352.5 285.7h0M358.1 302.0h0M347.8 312.4h0M354.8 306.8h0M366.5 311.9h0M353.7 359.2h0M404.0 339.2h0M352.2 281.9h0M407.9 273.5h0M365.3 315.3h0M363.4 325.0h0M365.9 349.7h0M362.6 339.2h0M347.1 344.7h0M346.2 339.0h0M347.6 304.0h0M367.3 339.0h0M356.0 282.9h0" stroke="#ECE23C" stroke-width="2.64"/>
<path d="M374.5 280.2h0M361.3 286.3h0M371.6 297.0h0M356.3 327.3h0M345.6 310.8h0M366.6 357.9h0M368.5 312.5h0M346.3 360.2h0M364.3 352.2h0M369.0 340.1h0M380.8 352.7h0M342.0 324.7h0M392.8 309.2h0M359.9 363.3h0M352.5 337.8h0M354.1 349.8h0M378.6 356.9h0M373.1 362.0h0M349.5 298.8h0M343.1 293.0h0M345.1 283.6h0M365.2 363.9h0M400.2 324.0h0M392.7 276.1h0" stroke="#CF79B1" stroke-width="2.64"/>
<path d="M377.3 339.0h0M378.2 280.4h0M351.9 315.2h0M394.8 325.4h0M403.6 321.4h0M347.2 321.5h0M348.0 292.6h0M401.4 313.4h0M392.8 329.5h0M388.4 341.3h0M342.9 317.4h0M373.6 361.3h0M400.9 281.3h0M363.9 347.8h0M349.5 317.9h0" stroke="#D07A30" stroke-width="2.64"/>
<path d="M350.2 340.2h0M355.2 312.0h0M398.2 286.0h0M392.3 293.5h0M353.1 298.0h0M376.7 343.0h0M382.5 344.3h0" stroke="#1F70B6" stroke-width="2.64"/>
<path d="M383.3 295.0h0M349.3 294.8h0M370.5 314.8h0M364.1 317.4h0" stroke="#1E9B6E" stroke-width="2.64"/>
<path d="M372.3 334.1h0M400.4 276.2h0M391.6 337.9h0M367.7 331.9h0M330.0 327.3h0M328.2 327.8h0M327.2 330.2h0M328.5 330.7h0M324.7 346.2h0M324.0 336.7h0M326.1 347.9h0M325.9 347.5h0M320.0 342.5h0M322.4 345.6h0M322.1 347.6h0M320.2 337.8h0M318.6 347.3h0M429.1 328.0h0M425.9 309.6h0M424.8 318.7h0M431.3 327.7h0M416.9 316.5h0M419.1 307.7h0M427.2 329.5h0M431.5 325.1h0M421.1 302.1h0M430.8 327.8h0M425.5 309.5h0M424.9 322.3h0M425.7 321.6h0M417.0 311.8h0M431.3 323.8h0M428.4 315.6h0" stroke="#D07A30" stroke-width="2.64"/>
<path d="M370.8 331.0h0M349.2 291.8h0M349.8 337.3h0M351.2 342.8h0M346.9 321.9h0M373.9 313.2h0M380.4 281.8h0M391.1 281.5h0M364.7 289.7h0M373.1 327.8h0M358.9 326.6h0M351.6 321.9h0M353.0 324.8h0M361.9 298.0h0M369.9 294.0h0M325.0 334.6h0M324.4 335.2h0M330.3 326.6h0M327.2 329.7h0M324.1 334.2h0M322.8 336.2h0M321.9 343.2h0M321.1 343.9h0M323.1 341.4h0M324.2 346.8h0M319.6 342.0h0M321.1 337.8h0M324.2 336.0h0M325.0 336.4h0M320.5 341.4h0M321.7 347.3h0M320.7 345.6h0M325.8 341.1h0M323.9 340.3h0M321.2 336.8h0M326.0 335.5h0M322.4 345.8h0M323.7 339.0h0M322.0 344.1h0M321.3 343.8h0M324.0 335.5h0M320.0 347.2h0M321.8 340.4h0M326.3 347.8h0M325.7 347.4h0M326.2 345.5h0M312.9 348.2h0M312.1 347.8h0M310.1 349.4h0M315.6 347.0h0M311.8 350.0h0M315.9 348.0h0M318.7 346.5h0M313.9 349.5h0M320.0 346.8h0M311.4 348.4h0M318.6 345.8h0M428.4 323.6h0M415.8 311.9h0M427.7 319.7h0M415.4 307.7h0M421.8 321.1h0M415.8 298.4h0M425.9 325.4h0" stroke="#ECE23C" stroke-width="2.64"/>
<path d="M401.0 307.3h0M424.9 319.0h0" stroke="#1F70B6" stroke-width="2.64"/>
<path d="M365.9 303.8h0M350.9 332.7h0M395.5 325.9h0M326.0 330.0h0M323.7 335.4h0M324.7 346.6h0M321.0 338.7h0M324.4 337.1h0M320.0 340.0h0M324.3 342.3h0M324.5 347.3h0M325.7 342.5h0M326.5 347.1h0M324.8 340.9h0M321.8 342.4h0M319.8 342.5h0M319.7 342.5h0M430.3 323.8h0M419.6 318.7h0" stroke="#CF79B1" stroke-width="2.64"/>
<path d="M351.2 299.5h0M414.9 300.9h0" stroke="#1E9B6E" stroke-width="2.64"/>
<path d="M423.9 319.5h0M424.8 307.6h0M418.3 318.6h0M414.0 304.7h0M423.4 313.1h0M418.1 298.7h0M428.3 329.9h0M426.3 311.8h0M415.4 297.6h0M425.2 315.5h0M412.9 304.0h0M413.9 303.7h0M428.5 322.5h0M421.8 307.5h0M422.1 306.4h0M411.4 304.0h0M427.2 317.0h0M430.0 325.7h0M419.0 302.0h0M415.0 311.8h0M421.2 321.2h0M411.9 302.6h0M424.4 312.6h0M419.2 313.7h0M429.1 330.4h0M423.7 312.3h0M420.9 308.3h0M431.4 327.9h0M418.9 302.3h0M411.7 303.1h0M413.8 299.9h0M417.7 306.3h0M416.0 336.0h0M433.2 370.0h0M416.9 356.9h0M414.0 353.0h0M430.5 374.6h0M416.8 351.3h0M428.1 362.2h0" stroke="#D07A30" stroke-width="2.64"/>
<path d="M415.3 312.5h0M426.4 316.3h0M427.8 316.2h0M417.5 296.0h0M422.8 304.0h0M422.0 312.8h0M424.1 326.1h0M430.4 321.7h0M414.0 304.4h0M419.8 308.1h0M427.9 329.0h0M412.1 299.0h0M416.9 303.5h0M416.8 300.6h0M424.1 319.2h0M422.4 314.8h0M425.0 323.9h0M426.0 314.5h0M419.4 305.7h0M426.5 327.7h0M420.5 322.6h0M417.4 312.8h0M417.1 313.0h0M418.7 303.1h0M422.0 340.0h0M416.7 358.0h0M433.5 351.4h0M429.8 348.6h0M423.5 354.7h0M433.1 376.7h0M423.9 347.2h0M438.6 381.0h0M430.0 355.0h0" stroke="#ECE23C" stroke-width="2.64"/>
<path d="M426.7 324.7h0M415.0 305.1h0M425.7 322.7h0M426.3 328.5h0M431.3 324.8h0M419.9 307.5h0M419.0 317.1h0M416.8 303.1h0M417.6 317.5h0M417.1 310.3h0M421.1 315.1h0M418.4 359.2h0M433.2 358.5h0M430.8 377.8h0M417.2 354.1h0" stroke="#1E9B6E" stroke-width="2.64"/>
<path d="M426.6 320.3h0M421.2 320.7h0M427.3 314.4h0M425.5 321.5h0M414.6 310.7h0M419.5 306.4h0M418.8 315.0h0M428.0 322.6h0M416.8 313.2h0M429.4 322.8h0M426.7 318.3h0M427.9 323.1h0M420.6 313.9h0M424.9 327.9h0M433.6 365.7h0M417.4 351.4h0M433.9 385.3h0" stroke="#CF79B1" stroke-width="2.64"/>
<path d="M420.5 321.5h0M430.1 327.9h0M427.0 335.7h0M427.0 338.8h0M429.1 363.6h0M429.6 365.1h0M437.2 359.9h0M422.6 363.1h0M430.1 374.5h0M434.3 376.2h0M424.6 363.5h0M418.4 357.3h0M435.1 371.7h0M428.1 379.7h0M436.3 369.0h0M412.9 357.4h0" stroke="#1F70B6" stroke-width="2.64"/>
<path d="M433.6 356.3h0M438.7 370.3h0M418.0 360.3h0M425.8 359.6h0M432.5 380.8h0M426.6 357.3h0M430.5 368.0h0M421.1 347.3h0M424.6 353.2h0M421.1 355.9h0" stroke="#1E9B6E" stroke-width="2.64"/>
<path d="M438.3 368.7h0M415.6 352.4h0M432.5 350.3h0M432.7 381.8h0M419.0 363.9h0M426.3 374.7h0M434.1 359.3h0M415.3 347.1h0M436.8 371.9h0M440.9 370.6h0M424.9 346.7h0M434.1 353.1h0M413.8 352.8h0M437.6 379.9h0M435.0 355.1h0M427.6 367.7h0M430.0 373.5h0M431.1 367.0h0M429.0 358.3h0M426.9 368.2h0M432.6 374.6h0M437.6 383.6h0M422.2 347.1h0M432.0 370.1h0" stroke="#D07A30" stroke-width="2.64"/>
<path d="M435.8 353.7h0M438.9 374.1h0M427.4 356.8h0M438.1 363.1h0M427.7 368.1h0M419.2 353.6h0M421.5 348.8h0M435.5 382.1h0M430.0 362.3h0M432.5 354.6h0M435.4 372.9h0M439.1 380.8h0M430.0 355.0h0M423.6 365.5h0M436.2 373.7h0M421.4 350.4h0M423.9 360.0h0" stroke="#CF79B1" stroke-width="2.64"/>
<path d="M422.6 359.6h0M412.0 353.1h0M432.9 370.4h0M419.2 351.9h0M433.3 365.2h0M441.7 376.5h0M428.1 352.6h0M426.7 363.9h0M414.9 352.6h0M423.0 372.0h0M428.9 363.0h0M438.8 372.4h0M413.5 353.5h0M435.5 370.7h0M422.6 357.5h0M428.3 354.6h0M429.3 381.4h0M416.5 356.3h0M435.3 352.4h0M418.1 362.1h0M428.4 367.4h0M423.3 346.7h0M418.8 346.3h0M432.6 375.5h0M438.8 383.5h0M434.1 355.2h0M426.9 363.7h0M433.1 347.5h0M439.5 374.0h0M416.5 360.8h0M419.3 360.8h0M434.2 365.7h0M434.1 382.7h0M430.7 360.6h0M441.9 377.1h0M439.4 374.3h0M428.3 376.9h0M429.5 364.0h0M434.1 380.5h0M431.1 382.6h0M439.0 366.7h0M436.9 361.1h0M430.4 353.1h0" stroke="#1F70B6" stroke-width="2.64"/>
<path d="M413.4 351.0h0M433.9 356.5h0M427.2 345.4h0M427.3 362.8h0M414.3 354.5h0M430.0 347.9h0M437.8 368.7h0M414.6 352.9h0M437.5 385.2h0M430.5 350.6h0M426.0 345.8h0M416.2 358.9h0M420.7 368.4h0M425.4 348.7h0M426.9 348.4h0M438.9 373.1h0M437.0 365.6h0M413.6 357.9h0M426.4 351.4h0M414.7 360.8h0M420.4 357.9h0M427.9 371.3h0M423.5 351.5h0M421.2 366.1h0M441.0 385.0h0M430.6 369.8h0" stroke="#ECE23C" stroke-width="2.64"/>
<path d="M420.2 357.8h0M430.7 364.6h0M440.4 381.4h0M426.7 377.4h0M434.7 352.8h0M436.8 359.6h0M428.9 375.3h0M434.3 367.8h0M428.2 375.7h0M433.5 384.5h0M440.4 370.2h0M437.4 359.1h0M432.4 371.2h0M435.5 377.5h0M432.7 365.4h0M427.2 378.6h0M418.4 351.4h0M436.7 371.8h0M419.9 366.6h0M435.4 369.1h0M422.7 357.9h0M435.7 381.6h0M424.6 353.0h0M430.1 380.3h0M440.1 374.8h0M413.1 355.4h0M427.2 377.3h0M419.1 355.2h0M434.4 358.6h0M432.3 364.4h0M421.2 352.6h0M418.8 355.4h0M431.0 382.0h0M436.2 369.3h0M433.7 360.0h0M438.0 373.2h0M427.7 366.7h0" stroke="#1F70B6" stroke-width="2.64"/>
<path d="M440.7 377.7h0M420.8 357.3h0M428.6 373.3h0M424.7 370.6h0M428.6 353.0h0M417.8 346.6h0M427.7 366.2h0M426.0 372.6h0M413.3 350.8h0M427.0 369.1h0M437.9 377.1h0M413.8 352.8h0M428.9 357.4h0M432.1 348.1h0M419.8 357.6h0M422.3 367.9h0M428.5 364.0h0M411.7 355.2h0M422.8 359.5h0M421.4 366.6h0M423.7 347.9h0M421.9 350.3h0M438.9 369.4h0M420.8 359.9h0M424.8 353.3h0M429.7 360.0h0M418.4 364.4h0M433.2 359.1h0M434.7 355.0h0" stroke="#ECE23C" stroke-width="2.64"/>
<path d="M426.6 355.4h0M425.9 370.6h0M424.9 361.7h0M433.0 364.1h0M413.4 357.5h0M433.2 357.4h0M418.8 355.7h0M432.6 359.2h0M427.3 376.6h0M429.0 374.0h0M442.4 382.3h0M414.8 352.4h0M412.5 354.7h0M435.7 364.5h0M431.7 364.2h0M430.4 378.3h0M432.6 367.1h0M423.5 362.3h0M434.5 370.2h0M429.1 365.7h0M433.9 375.6h0M429.8 363.7h0M425.4 362.5h0M427.9 356.0h0M429.3 352.5h0" stroke="#D07A30" stroke-width="2.64"/>
<path d="M423.4 350.9h0M414.1 350.4h0M427.4 352.4h0M433.8 364.7h0M435.5 374.7h0M416.1 352.9h0M426.5 359.2h0M417.5 350.7h0M434.2 350.2h0M425.4 365.4h0M440.0 376.3h0M435.7 364.5h0M423.7 352.9h0M427.7 348.9h0M413.0 351.1h0M423.3 347.5h0" stroke="#CF79B1" stroke-width="2.64"/>
<path d="M419.4 351.8h0M412.2 353.8h0M423.6 372.3h0M440.2 379.6h0M425.9 350.4h0M437.4 366.7h0M435.3 375.5h0M431.2 380.3h0M431.5 383.5h0M433.4 384.5h0" stroke="#1E9B6E" stroke-width="2.64"/>
<path d="M385.3 436.5h0M386.9 445.1h0M384.7 432.9h0" stroke="#D81B35" stroke-width="2.64"/>
<path d="M386.6 439.8h0M386.3 442.0h0M386.5 441.4h0M384.4 437.3h0M385.9 440.2h0M385.8 442.9h0M385.7 441.6h0M383.9 434.8h0M385.9 442.0h0M386.7 441.3h0M385.8 436.7h0M385.2 438.5h0M386.2 441.7h0M386.4 437.6h0M387.6 448.4h0M384.8 434.3h0M386.0 450.3h0M386.3 437.3h0M385.9 444.2h0M386.2 444.5h0M384.1 434.8h0M387.1 446.3h0M384.5 438.2h0M382.9 458.5h0M382.8 458.4h0M383.2 458.6h0M383.5 458.5h0" stroke="#D81B35" stroke-width="2.64"/>
<path d="M303.2,261.8 V467.8 H448.5" fill="none" stroke="#000" stroke-width="1.1"/>
<line x1="300.0" y1="326.6" x2="303.2" y2="326.6" stroke="#333" stroke-width="1"/>
<text x="296.60" y="329.20" font-size="8.6" text-anchor="end" fill="#3c3c3c" font-weight="normal"  stroke="#3c3c3c" stroke-width="0.22">0</text>
<line x1="300.0" y1="407.2" x2="303.2" y2="407.2" stroke="#333" stroke-width="1"/>
<text x="296.60" y="409.80" font-size="8.6" text-anchor="end" fill="#3c3c3c" font-weight="normal"  stroke="#3c3c3c" stroke-width="0.22">−5</text>
<line x1="341.7" y1="467.8" x2="341.7" y2="471.0" stroke="#333" stroke-width="1"/>
<text x="341.70" y="482.90" font-size="8.6" text-anchor="middle" fill="#3c3c3c" font-weight="normal"  stroke="#3c3c3c" stroke-width="0.22">−4</text>
<line x1="380.8" y1="467.8" x2="380.8" y2="471.0" stroke="#333" stroke-width="1"/>
<text x="380.80" y="482.90" font-size="8.6" text-anchor="middle" fill="#3c3c3c" font-weight="normal"  stroke="#3c3c3c" stroke-width="0.22">0</text>
<line x1="420.2" y1="467.8" x2="420.2" y2="471.0" stroke="#333" stroke-width="1"/>
<text x="420.20" y="482.90" font-size="8.6" text-anchor="middle" fill="#3c3c3c" font-weight="normal"  stroke="#3c3c3c" stroke-width="0.22">4</text>
<text x="376.25" y="496.40" font-size="10.5" text-anchor="middle" fill="#1a1a1a" stroke="#1a1a1a" stroke-width="0.38" word-spacing="1.3" textLength="22.6" lengthAdjust="spacingAndGlyphs">UMAP1</text>
<text transform="translate(280.60,365.45) rotate(-90)" x="0" y="0" font-size="10.5" text-anchor="middle" fill="#1a1a1a" stroke="#1a1a1a" stroke-width="0.38" word-spacing="1.3" textLength="23.0" lengthAdjust="spacingAndGlyphs">UMAP2</text>
<text x="452.80" y="353.20" font-size="7.8" text-anchor="start" fill="#1a1a1a" font-weight="normal" textLength="37.9" lengthAdjust="spacingAndGlyphs" stroke="#1a1a1a" stroke-width="0.22">CREGION</text>
<circle cx="457.4" cy="362.50" r="1.45" fill="#ECE23C"/>
<text x="462.70" y="365.20" font-size="7.8" text-anchor="start" fill="#1a1a1a" font-weight="normal"  stroke="#1a1a1a" stroke-width="0.22">Montreal</text>
<circle cx="457.4" cy="372.18" r="1.45" fill="#D07A30"/>
<text x="462.70" y="374.88" font-size="7.8" text-anchor="start" fill="#1a1a1a" font-weight="normal"  stroke="#1a1a1a" stroke-width="0.22">Quebec</text>
<circle cx="457.4" cy="381.86" r="1.45" fill="#1F70B6"/>
<text x="462.70" y="384.56" font-size="7.8" text-anchor="start" fill="#1a1a1a" font-weight="normal"  stroke="#1a1a1a" stroke-width="0.22">Saguenay</text>
<circle cx="457.4" cy="391.54" r="1.45" fill="#1E9B6E"/>
<text x="462.70" y="394.24" font-size="7.8" text-anchor="start" fill="#1a1a1a" font-weight="normal"  stroke="#1a1a1a" stroke-width="0.22">Sherbrooke</text>
<circle cx="457.4" cy="401.22" r="1.45" fill="#CF79B1"/>
<text x="462.70" y="403.92" font-size="7.8" text-anchor="start" fill="#1a1a1a" font-weight="normal"  stroke="#1a1a1a" stroke-width="0.22">Leu</text>
<circle cx="457.4" cy="410.90" r="1.45" fill="#D81B35"/>
<text x="462.70" y="413.60" font-size="7.8" text-anchor="start" fill="#1a1a1a" font-weight="normal"  stroke="#1a1a1a" stroke-width="0.22">Outlier sample</text>
<rect x="0.5" y="0.5" width="519" height="506" fill="none" stroke="#3a3a3a" stroke-width="1"/>
</svg></body></html>
